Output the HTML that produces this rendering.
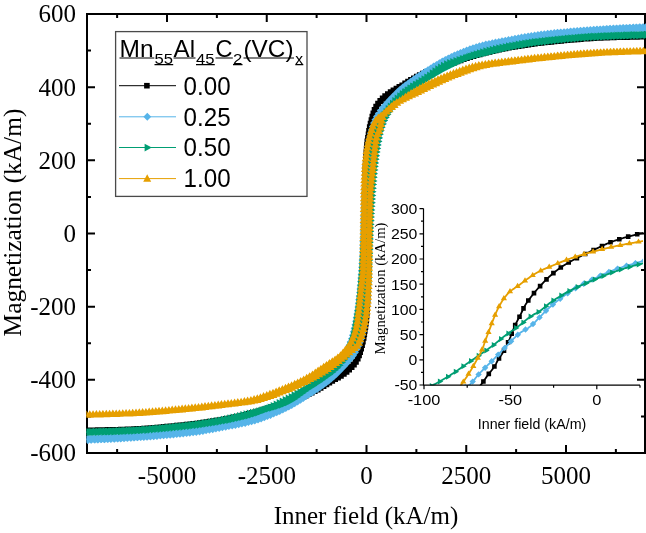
<!DOCTYPE html>
<html><head><meta charset="utf-8"><style>
html,body{margin:0;padding:0;background:#fff;}
body{width:646px;height:533px;overflow:hidden;}
svg{display:block;filter:blur(0.35px);}
.serif{font-family:"Liberation Serif",serif;}
.sans{font-family:"Liberation Sans",sans-serif;}
</style></head><body>
<svg width="646" height="533" viewBox="0 0 646 533">
<defs>
<clipPath id="cm"><rect x="86.4" y="13" width="560" height="441"/></clipPath>
<clipPath id="ci"><rect x="423.5" y="200.4" width="219.5" height="184.79999999999998"/></clipPath>
</defs>
<rect width="646" height="533" fill="#fff"/>
<path d="M117.12 453v-4M117.12 14v4M167.00 453v-8M167.00 14v8M216.88 453v-4M216.88 14v4M266.75 453v-8M266.75 14v8M316.62 453v-4M316.62 14v4M366.50 453v-8M366.50 14v8M416.38 453v-4M416.38 14v4M466.25 453v-8M466.25 14v8M516.12 453v-4M516.12 14v4M566.00 453v-8M566.00 14v8M615.88 453v-4M615.88 14v4M87 416.41h4M645 416.41h-4M87 379.83h8M645 379.83h-8M87 343.25h4M645 343.25h-4M87 306.67h8M645 306.67h-8M87 270.08h4M645 270.08h-4M87 233.50h8M645 233.50h-8M87 196.92h4M645 196.92h-4M87 160.33h8M645 160.33h-8M87 123.75h4M645 123.75h-4M87 87.17h8M645 87.17h-8M87 50.59h4M645 50.59h-4" fill="none" stroke="#000" stroke-width="2"/>
<rect x="87" y="14" width="558" height="439" fill="none" stroke="#000" stroke-width="2"/>
<g clip-path="url(#cm)">
<path d="M649.79 36.26 L648.79 36.28 L647.79 36.31 L646.79 36.34 L645.79 36.36 L644.79 36.39 L643.79 36.41 L642.79 36.44 L641.79 36.46 L640.79 36.48 L639.79 36.50 L638.79 36.53 L637.79 36.55 L636.79 36.57 L635.79 36.59 L634.79 36.61 L633.79 36.63 L632.79 36.65 L631.79 36.67 L630.80 36.70 L629.80 36.72 L628.80 36.74 L627.80 36.76 L626.80 36.78 L625.80 36.80 L624.80 36.82 L623.80 36.84 L622.80 36.86 L621.80 36.88 L620.80 36.90 L619.80 36.93 L618.80 36.95 L617.80 36.97 L616.80 36.99 L615.80 37.02 L614.80 37.04 L613.80 37.07 L612.80 37.09 L611.80 37.12 L610.80 37.15 L609.80 37.17 L608.80 37.20 L607.80 37.23 L606.80 37.26 L605.80 37.29 L604.80 37.32 L603.80 37.35 L602.80 37.39 L601.80 37.42 L600.81 37.46 L599.81 37.50 L598.81 37.53 L597.81 37.57 L596.81 37.62 L595.81 37.66 L594.81 37.71 L593.81 37.76 L592.81 37.81 L591.81 37.86 L590.82 37.91 L589.82 37.97 L588.82 38.02 L587.82 38.08 L586.82 38.14 L585.82 38.21 L584.83 38.27 L583.83 38.34 L582.83 38.40 L581.83 38.47 L580.84 38.54 L579.84 38.62 L578.84 38.69 L577.84 38.76 L576.85 38.84 L575.85 38.92 L574.85 39.00 L573.86 39.08 L572.86 39.16 L571.86 39.24 L570.87 39.32 L569.87 39.41 L568.87 39.49 L567.88 39.58 L566.88 39.67 L565.89 39.76 L564.89 39.85 L563.89 39.94 L562.90 40.03 L561.90 40.13 L560.91 40.22 L559.91 40.31 L558.92 40.41 L557.92 40.51 L556.93 40.60 L555.93 40.70 L554.93 40.80 L553.94 40.90 L552.94 41.00 L551.95 41.10 L550.96 41.20 L549.96 41.31 L548.97 41.41 L547.97 41.51 L546.98 41.61 L545.98 41.72 L544.99 41.82 L543.99 41.93 L543.00 42.03 L542.00 42.14 L541.01 42.24 L540.01 42.35 L539.02 42.46 L538.03 42.57 L537.03 42.68 L536.04 42.79 L535.05 42.91 L534.05 43.03 L533.06 43.15 L532.07 43.28 L531.08 43.40 L530.09 43.53 L529.09 43.66 L528.10 43.80 L527.11 43.93 L526.12 44.07 L525.13 44.21 L524.14 44.35 L523.15 44.49 L522.16 44.64 L521.17 44.78 L520.18 44.93 L519.20 45.08 L518.21 45.23 L517.22 45.39 L516.23 45.54 L515.24 45.70 L514.26 45.86 L513.27 46.02 L512.28 46.18 L511.30 46.35 L510.31 46.51 L509.32 46.68 L508.34 46.85 L507.35 47.01 L506.37 47.18 L505.38 47.36 L504.40 47.53 L503.41 47.70 L502.43 47.88 L501.44 48.06 L500.46 48.25 L499.48 48.43 L498.50 48.62 L497.52 48.82 L496.54 49.02 L495.56 49.22 L494.58 49.42 L493.60 49.63 L492.62 49.84 L491.64 50.05 L490.67 50.26 L489.69 50.48 L488.72 50.70 L487.74 50.93 L486.77 51.15 L485.79 51.38 L484.82 51.61 L483.85 51.85 L482.88 52.08 L481.91 52.32 L480.94 52.56 L479.97 52.81 L479.00 53.06 L478.03 53.31 L477.07 53.57 L476.10 53.84 L475.14 54.11 L474.18 54.39 L473.22 54.67 L472.26 54.95 L471.30 55.24 L470.35 55.53 L469.39 55.83 L468.44 56.13 L467.48 56.42 L466.53 56.73 L465.57 57.03 L464.62 57.33 L463.67 57.63 L462.72 57.94 L461.76 58.24 L460.81 58.55 L459.86 58.87 L458.91 59.18 L457.96 59.50 L457.02 59.82 L456.07 60.14 L455.13 60.46 L454.18 60.79 L453.24 61.12 L452.29 61.46 L451.35 61.79 L450.41 62.14 L449.47 62.48 L448.54 62.83 L447.60 63.18 L446.67 63.53 L445.73 63.89 L444.80 64.26 L443.87 64.63 L442.94 65.00 L442.02 65.38 L441.09 65.76 L440.17 66.14 L439.25 66.52 L438.32 66.91 L437.40 67.30 L436.48 67.69 L435.56 68.09 L434.65 68.48 L433.73 68.88 L432.81 69.28 L431.89 69.68 L430.98 70.08 L430.06 70.48 L429.14 70.88 L428.23 71.28 L427.32 71.69 L426.40 72.10 L425.49 72.51 L424.58 72.93 L423.68 73.35 L422.77 73.78 L421.87 74.21 L420.97 74.65 L420.08 75.10 L419.19 75.55 L418.30 76.02 L417.42 76.49 L416.54 76.97 L415.67 77.45 L414.80 77.94 L413.93 78.44 L413.06 78.93 L412.19 79.43 L411.33 79.93 L410.47 80.44 L409.61 80.96 L408.75 81.47 L407.90 81.99 L407.05 82.52 L406.20 83.04 L405.34 83.57 L404.49 84.09 L403.64 84.62 L402.79 85.15 L401.94 85.67 L401.09 86.19 L400.23 86.70 L399.37 87.21 L398.50 87.70 L397.62 88.19 L396.75 88.68 L395.88 89.16 L395.01 89.65 L394.14 90.15 L393.28 90.66 L392.42 91.18 L391.57 91.71 L390.74 92.26 L389.91 92.82 L389.10 93.41 L388.30 94.01 L387.52 94.62 L386.73 95.24 L385.94 95.86 L385.17 96.49 L384.40 97.13 L383.64 97.79 L382.90 98.46 L382.18 99.15 L381.48 99.86 L380.80 100.59 L380.14 101.35 L379.50 102.11 L378.88 102.90 L378.29 103.71 L377.71 104.52 L377.16 105.36 L376.63 106.20 L376.11 107.06 L375.64 107.94 L375.22 108.85 L374.83 109.77 L374.47 110.70 L374.13 111.64 L373.81 112.59 L373.50 113.54 L373.20 114.50 L372.91 115.45 L372.63 116.41 L372.36 117.38 L372.10 118.34 L371.84 119.31 L371.59 120.28 L371.34 121.24 L371.10 122.21 L370.86 123.19 L370.63 124.16 L370.40 125.13 L370.17 126.10 L369.96 127.08 L369.76 128.06 L369.57 129.04 L369.39 130.03 L369.22 131.01 L369.05 132.00 L368.89 132.99 L368.73 133.97 L368.57 134.96 L368.42 135.95 L368.26 136.94 L368.11 137.92 L367.96 138.91 L367.80 139.90 L367.65 140.89 L367.51 141.88 L367.38 142.87 L367.25 143.86 L367.14 144.86 L367.03 145.85 L366.94 146.85 L366.85 147.84 L366.77 148.84 L366.69 149.84 L366.62 150.83 L366.56 151.83 L366.49 152.83 L366.42 153.83 L366.36 154.82 L366.29 155.82 L366.22 156.82 L366.16 157.82 L366.09 158.82 L366.03 159.81 L365.97 160.81 L365.91 161.81 L365.86 162.81 L365.80 163.81 L365.75 164.81 L365.70 165.80 L365.65 166.80 L365.61 167.80 L365.57 168.80 L365.53 169.80 L365.49 170.80 L365.45 171.80 L365.42 172.80 L365.38 173.80 L365.35 174.80 L365.32 175.80 L365.29 176.80 L365.26 177.80 L365.23 178.80 L365.20 179.80 L365.17 180.79 L365.14 181.79 L365.11 182.79 L365.08 183.79 L365.06 184.79 L365.03 185.79 L365.01 186.79 L364.98 187.79 L364.96 188.79 L364.93 189.79 L364.91 190.79 L364.89 191.79 L364.87 192.79 L364.85 193.79 L364.83 194.79 L364.81 195.79 L364.80 196.79 L364.78 197.79 L364.77 198.79 L364.75 199.79 L364.74 200.79 L364.72 201.79 L364.71 202.79 L364.69 203.79 L364.67 204.79 L364.66 205.79 L364.64 206.79 L364.62 207.79 L364.61 208.79 L364.59 209.79 L364.58 210.79 L364.57 211.79 L364.56 212.79 L364.54 213.79 L364.53 214.79 L364.52 215.79 L364.51 216.79 L364.49 217.79 L364.48 218.79 L364.47 219.79 L364.45 220.79 L364.44 221.79 L364.42 222.79 L364.41 223.79 L364.39 224.79 L364.37 225.79 L364.36 226.79 L364.34 227.79 L364.32 228.79 L364.30 229.79 L364.28 230.79 L364.26 231.79 L364.24 232.79 L364.22 233.79 L364.20 234.79 L364.18 235.79 L364.17 236.79 L364.15 237.79 L364.13 238.78 L364.10 239.78 L364.08 240.78 L364.06 241.78 L364.03 242.78 L364.01 243.78 L363.98 244.78 L363.96 245.78 L363.94 246.78 L363.91 247.78 L363.89 248.78 L363.87 249.78 L363.85 250.78 L363.82 251.78 L363.79 252.78 L363.76 253.78 L363.73 254.78 L363.70 255.78 L363.66 256.78 L363.63 257.78 L363.59 258.78 L363.55 259.78 L363.51 260.78 L363.47 261.77 L363.42 262.77 L363.38 263.77 L363.34 264.77 L363.30 265.77 L363.25 266.77 L363.21 267.77 L363.17 268.77 L363.12 269.77 L363.08 270.77 L363.03 271.77 L362.98 272.76 L362.93 273.76 L362.88 274.76 L362.83 275.76 L362.77 276.76 L362.72 277.76 L362.66 278.76 L362.59 279.75 L362.52 280.75 L362.45 281.75 L362.38 282.75 L362.30 283.74 L362.23 284.74 L362.15 285.74 L362.06 286.73 L361.97 287.73 L361.89 288.73 L361.79 289.72 L361.70 290.72 L361.60 291.71 L361.51 292.71 L361.41 293.70 L361.31 294.70 L361.21 295.69 L361.11 296.69 L361.01 297.68 L360.92 298.68 L360.82 299.67 L360.72 300.67 L360.63 301.66 L360.53 302.66 L360.44 303.66 L360.34 304.65 L360.24 305.65 L360.14 306.64 L360.05 307.64 L359.95 308.63 L359.85 309.63 L359.74 310.62 L359.64 311.62 L359.54 312.61 L359.43 313.60 L359.32 314.60 L359.21 315.59 L359.10 316.59 L358.98 317.58 L358.86 318.57 L358.74 319.56 L358.61 320.56 L358.47 321.55 L358.33 322.54 L358.17 323.52 L358.02 324.51 L357.86 325.50 L357.70 326.49 L357.53 327.47 L357.37 328.46 L357.20 329.44 L357.03 330.43 L356.85 331.41 L356.68 332.40 L356.50 333.38 L356.31 334.36 L356.13 335.35 L355.93 336.33 L355.74 337.31 L355.54 338.29 L355.33 339.27 L355.12 340.24 L354.90 341.22 L354.68 342.20 L354.45 343.17 L354.21 344.14 L353.96 345.11 L353.70 346.07 L353.42 347.03 L353.13 347.99 L352.83 348.94 L352.50 349.89 L352.15 350.83 L351.78 351.76 L351.41 352.68 L351.03 353.61 L350.63 354.53 L350.23 355.44 L349.81 356.35 L349.39 357.26 L348.95 358.16 L348.50 359.05 L348.04 359.94 L347.56 360.81 L347.07 361.69 L346.57 362.55 L346.05 363.40 L345.51 364.24 L344.95 365.07 L344.38 365.89 L343.78 366.70 L343.17 367.49 L342.53 368.26 L341.88 369.02 L341.20 369.75 L340.50 370.47 L339.79 371.16 L339.05 371.85 L338.31 372.51 L337.55 373.17 L336.78 373.81 L336.00 374.43 L335.21 375.04 L334.40 375.63 L333.58 376.21 L332.76 376.77 L331.92 377.32 L331.08 377.85 L330.22 378.37 L329.36 378.89 L328.50 379.39 L327.63 379.88 L326.75 380.36 L325.87 380.84 L324.99 381.31 L324.11 381.78 L323.23 382.25 L322.34 382.71 L321.46 383.18 L320.58 383.66 L319.70 384.13 L318.82 384.62 L317.95 385.11 L317.09 385.61 L316.23 386.12 L315.37 386.64 L314.51 387.15 L313.66 387.67 L312.80 388.19 L311.95 388.71 L311.09 389.22 L310.24 389.74 L309.38 390.26 L308.52 390.77 L307.66 391.28 L306.80 391.78 L305.93 392.29 L305.07 392.79 L304.20 393.28 L303.33 393.78 L302.45 394.26 L301.58 394.74 L300.70 395.22 L299.81 395.68 L298.92 396.14 L298.03 396.59 L297.13 397.03 L296.23 397.47 L295.33 397.89 L294.42 398.31 L293.51 398.72 L292.59 399.12 L291.67 399.52 L290.75 399.91 L289.83 400.30 L288.91 400.68 L287.98 401.06 L287.05 401.43 L286.12 401.80 L285.19 402.16 L284.26 402.52 L283.33 402.88 L282.39 403.24 L281.46 403.59 L280.52 403.94 L279.58 404.29 L278.65 404.64 L277.71 404.98 L276.77 405.32 L275.82 405.66 L274.88 405.99 L273.94 406.32 L272.99 406.65 L272.05 406.97 L271.10 407.29 L270.15 407.61 L269.20 407.93 L268.25 408.24 L267.30 408.55 L266.35 408.86 L265.40 409.17 L264.45 409.47 L263.49 409.78 L262.54 410.08 L261.59 410.38 L260.63 410.68 L259.68 410.98 L258.72 411.27 L257.77 411.57 L256.81 411.86 L255.85 412.15 L254.89 412.43 L253.93 412.71 L252.97 412.98 L252.01 413.25 L251.05 413.52 L250.08 413.78 L249.11 414.03 L248.14 414.28 L247.17 414.52 L246.20 414.76 L245.23 415.00 L244.26 415.23 L243.29 415.47 L242.31 415.70 L241.34 415.93 L240.37 416.15 L239.39 416.37 L238.42 416.59 L237.44 416.81 L236.46 417.03 L235.48 417.24 L234.51 417.45 L233.53 417.65 L232.55 417.85 L231.57 418.05 L230.59 418.25 L229.61 418.44 L228.63 418.63 L227.64 418.82 L226.66 419.00 L225.68 419.18 L224.69 419.36 L223.71 419.53 L222.72 419.70 L221.74 419.87 L220.75 420.04 L219.77 420.21 L218.78 420.38 L217.79 420.55 L216.81 420.71 L215.82 420.87 L214.83 421.03 L213.85 421.19 L212.86 421.35 L211.87 421.51 L210.88 421.66 L209.90 421.82 L208.91 421.97 L207.92 422.12 L206.93 422.27 L205.94 422.41 L204.95 422.56 L203.96 422.70 L202.97 422.84 L201.98 422.98 L200.99 423.12 L200.00 423.25 L199.01 423.38 L198.02 423.51 L197.02 423.64 L196.03 423.77 L195.04 423.89 L194.05 424.01 L193.05 424.13 L192.06 424.25 L191.07 424.36 L190.07 424.47 L189.08 424.58 L188.08 424.69 L187.09 424.79 L186.10 424.90 L185.10 425.00 L184.11 425.11 L183.11 425.21 L182.12 425.32 L181.12 425.42 L180.13 425.52 L179.13 425.63 L178.14 425.73 L177.14 425.83 L176.15 425.93 L175.15 426.03 L174.16 426.13 L173.16 426.23 L172.17 426.33 L171.17 426.43 L170.18 426.53 L169.18 426.62 L168.19 426.72 L167.19 426.81 L166.20 426.91 L165.20 427.00 L164.21 427.09 L163.21 427.18 L162.21 427.27 L161.22 427.36 L160.22 427.45 L159.23 427.54 L158.23 427.62 L157.23 427.71 L156.24 427.79 L155.24 427.87 L154.24 427.95 L153.25 428.03 L152.25 428.11 L151.25 428.19 L150.26 428.26 L149.26 428.34 L148.26 428.41 L147.26 428.48 L146.27 428.55 L145.27 428.62 L144.27 428.69 L143.27 428.75 L142.27 428.81 L141.28 428.88 L140.28 428.94 L139.28 429.00 L138.28 429.05 L137.28 429.11 L136.28 429.16 L135.29 429.21 L134.29 429.26 L133.29 429.31 L132.29 429.35 L131.29 429.40 L130.29 429.44 L129.29 429.48 L128.29 429.52 L127.29 429.55 L126.29 429.59 L125.29 429.62 L124.29 429.66 L123.30 429.69 L122.30 429.72 L121.30 429.75 L120.30 429.78 L119.30 429.81 L118.30 429.84 L117.30 429.86 L116.30 429.89 L115.30 429.92 L114.30 429.94 L113.30 429.97 L112.30 429.99 L111.30 430.01 L110.30 430.04 L109.30 430.06 L108.30 430.08 L107.30 430.10 L106.30 430.13 L105.30 430.15 L104.30 430.17 L103.30 430.19 L102.30 430.21 L101.30 430.23 L100.30 430.25 L99.30 430.27 L98.30 430.29 L97.30 430.31 L96.30 430.33 L95.30 430.35 L94.30 430.37 L93.30 430.39 L92.30 430.42 L91.30 430.44 L90.30 430.46 L89.30 430.48 L88.31 430.50 L87.31 430.53 L86.31 430.55 L85.31 430.57 L84.31 430.60 L83.31 430.62 L83.99 430.72 L84.99 430.70 L85.99 430.67 L86.99 430.64 L87.99 430.62 L88.99 430.59 L89.99 430.57 L90.99 430.55 L91.99 430.52 L92.99 430.50 L93.99 430.48 L94.99 430.46 L95.99 430.43 L96.99 430.41 L97.99 430.39 L98.99 430.37 L99.99 430.35 L100.99 430.33 L101.99 430.31 L102.99 430.29 L103.99 430.27 L104.99 430.25 L105.99 430.23 L106.99 430.21 L107.99 430.19 L108.99 430.17 L109.99 430.14 L110.99 430.12 L111.99 430.10 L112.99 430.08 L113.99 430.06 L114.99 430.03 L115.99 430.01 L116.99 429.99 L117.99 429.96 L118.99 429.94 L119.99 429.91 L120.98 429.89 L121.98 429.86 L122.98 429.83 L123.98 429.80 L124.98 429.78 L125.98 429.75 L126.98 429.72 L127.98 429.68 L128.98 429.65 L129.98 429.62 L130.98 429.58 L131.98 429.55 L132.98 429.51 L133.98 429.47 L134.98 429.43 L135.98 429.39 L136.98 429.35 L137.97 429.30 L138.97 429.25 L139.97 429.21 L140.97 429.15 L141.97 429.10 L142.97 429.04 L143.97 428.99 L144.96 428.93 L145.96 428.87 L146.96 428.81 L147.96 428.74 L148.96 428.68 L149.95 428.61 L150.95 428.54 L151.95 428.47 L152.95 428.40 L153.94 428.33 L154.94 428.25 L155.94 428.18 L156.94 428.10 L157.93 428.02 L158.93 427.94 L159.93 427.86 L160.92 427.78 L161.92 427.70 L162.92 427.61 L163.91 427.52 L164.91 427.44 L165.90 427.35 L166.90 427.26 L167.90 427.17 L168.89 427.08 L169.89 426.99 L170.88 426.89 L171.88 426.80 L172.87 426.71 L173.87 426.61 L174.87 426.51 L175.86 426.42 L176.86 426.32 L177.85 426.22 L178.85 426.12 L179.84 426.02 L180.84 425.92 L181.83 425.82 L182.83 425.72 L183.82 425.61 L184.81 425.51 L185.81 425.41 L186.80 425.30 L187.80 425.20 L188.79 425.09 L189.79 424.99 L190.78 424.88 L191.78 424.78 L192.77 424.67 L193.77 424.57 L194.76 424.46 L195.75 424.34 L196.75 424.23 L197.74 424.11 L198.73 423.99 L199.72 423.87 L200.72 423.75 L201.71 423.62 L202.70 423.50 L203.69 423.36 L204.68 423.23 L205.67 423.10 L206.67 422.96 L207.66 422.82 L208.65 422.68 L209.64 422.54 L210.62 422.39 L211.61 422.25 L212.60 422.10 L213.59 421.95 L214.58 421.80 L215.57 421.64 L216.56 421.49 L217.54 421.33 L218.53 421.17 L219.52 421.01 L220.51 420.85 L221.49 420.69 L222.48 420.52 L223.46 420.36 L224.45 420.19 L225.44 420.02 L226.42 419.85 L227.41 419.68 L228.39 419.51 L229.38 419.33 L230.36 419.16 L231.34 418.98 L232.33 418.79 L233.31 418.61 L234.29 418.42 L235.27 418.22 L236.25 418.03 L237.23 417.83 L238.21 417.62 L239.19 417.42 L240.17 417.21 L241.15 417.00 L242.12 416.78 L243.10 416.57 L244.07 416.35 L245.05 416.12 L246.02 415.90 L247.00 415.67 L247.97 415.44 L248.94 415.20 L249.91 414.97 L250.88 414.73 L251.86 414.49 L252.83 414.24 L253.79 414.00 L254.76 413.74 L255.73 413.48 L256.69 413.22 L257.65 412.95 L258.61 412.67 L259.57 412.39 L260.53 412.11 L261.49 411.82 L262.45 411.53 L263.40 411.23 L264.36 410.94 L265.31 410.64 L266.27 410.34 L267.22 410.04 L268.17 409.74 L269.13 409.43 L270.08 409.13 L271.03 408.82 L271.98 408.51 L272.93 408.20 L273.88 407.89 L274.83 407.57 L275.78 407.25 L276.73 406.93 L277.67 406.61 L278.62 406.28 L279.56 405.95 L280.50 405.61 L281.44 405.28 L282.38 404.94 L283.32 404.59 L284.26 404.25 L285.20 403.90 L286.13 403.54 L287.07 403.18 L288.00 402.82 L288.93 402.45 L289.86 402.08 L290.78 401.70 L291.71 401.33 L292.63 400.94 L293.56 400.56 L294.48 400.17 L295.40 399.78 L296.32 399.39 L297.24 399.00 L298.16 398.60 L299.07 398.21 L299.99 397.81 L300.91 397.41 L301.83 397.01 L302.74 396.61 L303.66 396.21 L304.57 395.80 L305.49 395.40 L306.40 394.99 L307.31 394.58 L308.22 394.16 L309.13 393.74 L310.03 393.31 L310.93 392.88 L311.83 392.44 L312.73 392.00 L313.62 391.55 L314.51 391.08 L315.39 390.61 L316.27 390.14 L317.14 389.65 L318.01 389.16 L318.88 388.67 L319.75 388.17 L320.62 387.67 L321.49 387.17 L322.35 386.67 L323.21 386.16 L324.06 385.64 L324.92 385.12 L325.77 384.60 L326.62 384.07 L327.47 383.55 L328.32 383.02 L329.17 382.49 L330.02 381.97 L330.87 381.44 L331.73 380.92 L332.58 380.41 L333.45 379.90 L334.32 379.41 L335.19 378.92 L336.06 378.43 L336.94 377.94 L337.81 377.45 L338.68 376.96 L339.54 376.45 L340.40 375.94 L341.24 375.41 L342.08 374.86 L342.91 374.30 L343.73 373.72 L344.53 373.12 L345.31 372.51 L346.10 371.89 L346.89 371.27 L347.67 370.65 L348.44 370.01 L349.19 369.36 L349.94 368.69 L350.66 368.00 L351.37 367.29 L352.06 366.56 L352.72 365.82 L353.37 365.05 L353.99 364.27 L354.59 363.47 L355.17 362.65 L355.72 361.82 L356.26 360.98 L356.78 360.13 L357.26 359.25 L357.69 358.35 L358.09 357.43 L358.45 356.50 L358.80 355.56 L359.13 354.61 L359.44 353.66 L359.74 352.71 L360.03 351.75 L360.31 350.79 L360.58 349.83 L360.84 348.87 L361.10 347.90 L361.36 346.93 L361.60 345.96 L361.85 344.99 L362.09 344.02 L362.32 343.05 L362.55 342.08 L362.78 341.11 L363.00 340.13 L363.20 339.15 L363.39 338.17 L363.57 337.18 L363.75 336.20 L363.91 335.21 L364.08 334.23 L364.24 333.24 L364.40 332.25 L364.55 331.27 L364.71 330.28 L364.86 329.29 L365.01 328.30 L365.16 327.31 L365.31 326.32 L365.46 325.33 L365.60 324.34 L365.72 323.35 L365.84 322.36 L365.94 321.36 L366.04 320.37 L366.14 319.37 L366.22 318.38 L366.29 317.38 L366.36 316.38 L366.43 315.38 L366.50 314.39 L366.56 313.39 L366.63 312.39 L366.69 311.39 L366.76 310.40 L366.83 309.40 L366.89 308.40 L366.95 307.40 L367.02 306.40 L367.07 305.41 L367.13 304.41 L367.19 303.41 L367.24 302.41 L367.29 301.41 L367.34 300.41 L367.38 299.41 L367.42 298.41 L367.46 297.41 L367.50 296.42 L367.54 295.42 L367.58 294.42 L367.61 293.42 L367.64 292.42 L367.68 291.42 L367.71 290.42 L367.74 289.42 L367.77 288.42 L367.80 287.42 L367.83 286.42 L367.86 285.42 L367.88 284.42 L367.91 283.42 L367.94 282.42 L367.96 281.42 L367.99 280.42 L368.01 279.42 L368.04 278.42 L368.06 277.42 L368.08 276.42 L368.11 275.42 L368.13 274.42 L368.15 273.42 L368.17 272.42 L368.18 271.42 L368.20 270.43 L368.21 269.43 L368.23 268.43 L368.24 267.43 L368.26 266.43 L368.27 265.43 L368.29 264.43 L368.31 263.43 L368.32 262.43 L368.34 261.43 L368.36 260.43 L368.37 259.43 L368.39 258.43 L368.40 257.43 L368.42 256.43 L368.43 255.43 L368.44 254.43 L368.45 253.43 L368.46 252.43 L368.48 251.43 L368.49 250.43 L368.50 249.43 L368.52 248.43 L368.53 247.43 L368.54 246.43 L368.56 245.43 L368.57 244.43 L368.59 243.43 L368.61 242.43 L368.62 241.43 L368.64 240.43 L368.66 239.43 L368.68 238.43 L368.70 237.43 L368.72 236.43 L368.74 235.43 L368.76 234.43 L368.78 233.43 L368.80 232.43 L368.81 231.43 L368.83 230.43 L368.85 229.43 L368.87 228.43 L368.89 227.43 L368.91 226.43 L368.94 225.43 L368.96 224.43 L368.99 223.43 L369.01 222.43 L369.04 221.43 L369.06 220.43 L369.08 219.43 L369.10 218.43 L369.13 217.43 L369.15 216.43 L369.17 215.43 L369.20 214.43 L369.23 213.43 L369.26 212.44 L369.29 211.44 L369.33 210.44 L369.37 209.44 L369.40 208.44 L369.44 207.44 L369.48 206.44 L369.53 205.44 L369.57 204.44 L369.61 203.44 L369.65 202.44 L369.69 201.44 L369.74 200.44 L369.78 199.45 L369.83 198.45 L369.87 197.45 L369.92 196.45 L369.96 195.45 L370.01 194.45 L370.06 193.45 L370.11 192.45 L370.16 191.45 L370.21 190.46 L370.27 189.46 L370.33 188.46 L370.39 187.46 L370.46 186.46 L370.53 185.47 L370.60 184.47 L370.68 183.47 L370.76 182.48 L370.84 181.48 L370.92 180.48 L371.01 179.49 L371.09 178.49 L371.19 177.49 L371.28 176.50 L371.38 175.50 L371.47 174.51 L371.57 173.51 L371.67 172.52 L371.77 171.52 L371.87 170.53 L371.97 169.53 L372.06 168.54 L372.16 167.54 L372.25 166.55 L372.35 165.55 L372.45 164.55 L372.54 163.56 L372.64 162.56 L372.74 161.57 L372.83 160.57 L372.93 159.58 L373.03 158.58 L373.13 157.59 L373.23 156.59 L373.34 155.60 L373.44 154.60 L373.55 153.61 L373.65 152.62 L373.76 151.62 L373.88 150.63 L373.99 149.63 L374.11 148.64 L374.24 147.65 L374.36 146.66 L374.50 145.67 L374.64 144.68 L374.79 143.69 L374.95 142.70 L375.11 141.71 L375.27 140.73 L375.43 139.74 L375.60 138.75 L375.76 137.77 L375.93 136.78 L376.11 135.80 L376.28 134.81 L376.46 133.83 L376.65 132.85 L376.83 131.86 L377.02 130.88 L377.22 129.90 L377.42 128.92 L377.62 127.94 L377.83 126.97 L378.05 125.99 L378.27 125.01 L378.50 124.04 L378.74 123.07 L378.99 122.10 L379.25 121.14 L379.52 120.17 L379.80 119.21 L380.10 118.26 L380.42 117.31 L380.77 116.38 L381.14 115.44 L381.51 114.52 L381.89 113.59 L382.28 112.67 L382.68 111.76 L383.10 110.84 L383.52 109.94 L383.95 109.04 L384.40 108.14 L384.86 107.26 L385.33 106.37 L385.82 105.50 L386.32 104.64 L386.84 103.78 L387.38 102.94 L387.93 102.10 L388.50 101.28 L389.09 100.47 L389.70 99.68 L390.33 98.91 L390.98 98.15 L391.65 97.41 L392.34 96.68 L393.06 95.98 L393.79 95.30 L394.53 94.63 L395.28 93.97 L396.05 93.33 L396.83 92.70 L397.62 92.09 L398.42 91.50 L399.24 90.92 L400.06 90.35 L400.90 89.80 L401.74 89.26 L402.59 88.74 L403.45 88.22 L404.31 87.72 L405.18 87.23 L406.06 86.74 L406.94 86.26 L407.82 85.79 L408.70 85.32 L409.58 84.85 L410.47 84.39 L411.35 83.92 L412.23 83.45 L413.11 82.97 L413.99 82.49 L414.86 82.00 L415.73 81.50 L416.59 80.99 L417.45 80.47 L418.30 79.96 L419.16 79.44 L420.01 78.92 L420.87 78.40 L421.72 77.89 L422.58 77.37 L423.44 76.86 L424.30 76.34 L425.16 75.83 L426.02 75.32 L426.88 74.82 L427.75 74.32 L428.61 73.82 L429.48 73.33 L430.36 72.84 L431.23 72.36 L432.11 71.89 L433.00 71.42 L433.88 70.96 L434.78 70.50 L435.67 70.06 L436.57 69.63 L437.48 69.20 L438.39 68.78 L439.30 68.37 L440.21 67.96 L441.13 67.56 L442.05 67.17 L442.97 66.78 L443.89 66.40 L444.82 66.02 L445.75 65.65 L446.68 65.28 L447.61 64.92 L448.54 64.55 L449.47 64.19 L450.41 63.84 L451.34 63.48 L452.28 63.13 L453.21 62.78 L454.15 62.43 L455.09 62.09 L456.03 61.75 L456.97 61.41 L457.92 61.08 L458.86 60.75 L459.80 60.42 L460.75 60.10 L461.70 59.77 L462.64 59.46 L463.59 59.14 L464.54 58.82 L465.49 58.51 L466.44 58.20 L467.40 57.90 L468.35 57.59 L469.30 57.29 L470.25 56.99 L471.21 56.69 L472.16 56.39 L473.12 56.09 L474.07 55.79 L475.03 55.50 L475.98 55.20 L476.94 54.92 L477.90 54.63 L478.86 54.35 L479.82 54.08 L480.78 53.80 L481.75 53.54 L482.71 53.28 L483.68 53.02 L484.65 52.78 L485.62 52.53 L486.59 52.29 L487.56 52.05 L488.53 51.82 L489.50 51.58 L490.48 51.35 L491.45 51.12 L492.42 50.90 L493.40 50.67 L494.37 50.45 L495.35 50.23 L496.33 50.02 L497.30 49.81 L498.28 49.60 L499.26 49.39 L500.24 49.19 L501.22 48.99 L502.20 48.79 L503.18 48.60 L504.16 48.41 L505.15 48.22 L506.13 48.04 L507.11 47.86 L508.10 47.68 L509.08 47.51 L510.07 47.33 L511.05 47.16 L512.04 46.99 L513.02 46.82 L514.01 46.66 L514.99 46.49 L515.98 46.33 L516.97 46.16 L517.95 46.00 L518.94 45.84 L519.93 45.68 L520.92 45.52 L521.90 45.37 L522.89 45.22 L523.88 45.06 L524.87 44.91 L525.86 44.76 L526.85 44.62 L527.84 44.47 L528.83 44.33 L529.82 44.19 L530.81 44.05 L531.80 43.91 L532.79 43.78 L533.78 43.65 L534.77 43.52 L535.76 43.39 L536.75 43.26 L537.75 43.14 L538.74 43.02 L539.73 42.90 L540.73 42.78 L541.72 42.67 L542.71 42.55 L543.71 42.44 L544.70 42.34 L545.70 42.23 L546.69 42.12 L547.68 42.02 L548.68 41.91 L549.67 41.81 L550.67 41.71 L551.66 41.60 L552.66 41.50 L553.65 41.39 L554.65 41.29 L555.64 41.19 L556.64 41.09 L557.63 40.99 L558.63 40.89 L559.62 40.79 L560.62 40.69 L561.61 40.59 L562.61 40.49 L563.60 40.40 L564.60 40.30 L565.59 40.21 L566.59 40.11 L567.58 40.02 L568.58 39.93 L569.58 39.84 L570.57 39.75 L571.57 39.66 L572.56 39.57 L573.56 39.48 L574.56 39.40 L575.55 39.31 L576.55 39.23 L577.55 39.15 L578.54 39.06 L579.54 38.99 L580.54 38.91 L581.53 38.83 L582.53 38.75 L583.53 38.68 L584.52 38.61 L585.52 38.53 L586.52 38.46 L587.52 38.40 L588.51 38.33 L589.51 38.26 L590.51 38.20 L591.51 38.14 L592.51 38.08 L593.51 38.02 L594.50 37.96 L595.50 37.90 L596.50 37.85 L597.50 37.80 L598.50 37.75 L599.50 37.70 L600.50 37.66 L601.49 37.61 L602.49 37.57 L603.49 37.53 L604.49 37.49 L605.49 37.45 L606.49 37.42 L607.49 37.38 L608.49 37.35 L609.49 37.32 L610.49 37.29 L611.49 37.26 L612.49 37.23 L613.49 37.20 L614.49 37.17 L615.49 37.14 L616.49 37.12 L617.49 37.09 L618.49 37.06 L619.49 37.04 L620.49 37.01 L621.48 36.99 L622.48 36.97 L623.48 36.95 L624.48 36.92 L625.48 36.90 L626.48 36.88 L627.48 36.86 L628.48 36.84 L629.48 36.82 L630.48 36.79 L631.48 36.77 L632.48 36.75 L633.48 36.73 L634.48 36.71 L635.48 36.69 L636.48 36.67 L637.48 36.65 L638.48 36.63 L639.48 36.61 L640.48 36.59 L641.48 36.57 L642.48 36.55 L643.48 36.52 L644.48 36.50 L645.48 36.48 L646.48 36.46 L647.48 36.43 L648.48 36.41 L649.48 36.38" fill="none" stroke="#000000" stroke-width="1.5"/><path d="M646.8 33.3h6.0v6.0h-6.0zM643.5 33.3h6.0v6.0h-6.0zM640.2 33.4h6.0v6.0h-6.0zM636.9 33.5h6.0v6.0h-6.0zM633.6 33.6h6.0v6.0h-6.0zM630.3 33.6h6.0v6.0h-6.0zM627.0 33.7h6.0v6.0h-6.0zM623.7 33.8h6.0v6.0h-6.0zM620.4 33.8h6.0v6.0h-6.0zM617.1 33.9h6.0v6.0h-6.0zM613.8 34.0h6.0v6.0h-6.0zM610.5 34.1h6.0v6.0h-6.0zM607.2 34.2h6.0v6.0h-6.0zM603.9 34.3h6.0v6.0h-6.0zM600.6 34.4h6.0v6.0h-6.0zM597.3 34.5h6.0v6.0h-6.0zM594.0 34.6h6.0v6.0h-6.0zM590.7 34.8h6.0v6.0h-6.0zM587.4 34.9h6.0v6.0h-6.0zM584.1 35.1h6.0v6.0h-6.0zM580.8 35.3h6.0v6.0h-6.0zM577.5 35.6h6.0v6.0h-6.0zM574.2 35.8h6.0v6.0h-6.0zM570.9 36.1h6.0v6.0h-6.0zM567.7 36.3h6.0v6.0h-6.0zM564.4 36.6h6.0v6.0h-6.0zM561.1 36.9h6.0v6.0h-6.0zM557.8 37.2h6.0v6.0h-6.0zM554.5 37.5h6.0v6.0h-6.0zM551.2 37.9h6.0v6.0h-6.0zM547.9 38.2h6.0v6.0h-6.0zM544.6 38.5h6.0v6.0h-6.0zM541.4 38.9h6.0v6.0h-6.0zM538.1 39.2h6.0v6.0h-6.0zM534.8 39.6h6.0v6.0h-6.0zM531.5 40.0h6.0v6.0h-6.0zM528.2 40.4h6.0v6.0h-6.0zM524.9 40.8h6.0v6.0h-6.0zM521.7 41.3h6.0v6.0h-6.0zM518.4 41.7h6.0v6.0h-6.0zM515.1 42.2h6.0v6.0h-6.0zM511.9 42.8h6.0v6.0h-6.0zM508.6 43.3h6.0v6.0h-6.0zM505.3 43.8h6.0v6.0h-6.0zM502.1 44.4h6.0v6.0h-6.0zM498.8 45.0h6.0v6.0h-6.0zM495.6 45.6h6.0v6.0h-6.0zM492.3 46.3h6.0v6.0h-6.0zM489.1 47.0h6.0v6.0h-6.0zM485.9 47.7h6.0v6.0h-6.0zM482.6 48.4h6.0v6.0h-6.0zM479.4 49.2h6.0v6.0h-6.0zM476.2 50.0h6.0v6.0h-6.0zM473.0 50.9h6.0v6.0h-6.0zM469.8 51.8h6.0v6.0h-6.0zM466.6 52.8h6.0v6.0h-6.0zM463.4 53.8h6.0v6.0h-6.0zM460.3 54.8h6.0v6.0h-6.0zM457.1 55.8h6.0v6.0h-6.0zM453.9 56.8h6.0v6.0h-6.0zM450.8 57.9h6.0v6.0h-6.0zM447.7 59.0h6.0v6.0h-6.0zM444.5 60.2h6.0v6.0h-6.0zM441.4 61.4h6.0v6.0h-6.0zM438.3 62.7h6.0v6.0h-6.0zM435.2 64.0h6.0v6.0h-6.0zM432.2 65.3h6.0v6.0h-6.0zM429.1 66.6h6.0v6.0h-6.0zM426.0 67.9h6.0v6.0h-6.0zM423.0 69.3h6.0v6.0h-6.0zM419.9 70.7h6.0v6.0h-6.0zM416.9 72.2h6.0v6.0h-6.0zM413.9 73.8h6.0v6.0h-6.0zM411.0 75.4h6.0v6.0h-6.0zM408.1 77.1h6.0v6.0h-6.0zM405.2 78.8h6.0v6.0h-6.0zM402.3 80.6h6.0v6.0h-6.0zM399.4 82.4h6.0v6.0h-6.0zM396.5 84.1h6.0v6.0h-6.0zM393.6 85.8h6.0v6.0h-6.0zM390.6 87.4h6.0v6.0h-6.0zM387.8 89.2h6.0v6.0h-6.0zM385.0 91.2h6.0v6.0h-6.0zM382.3 93.3h6.0v6.0h-6.0zM379.8 95.6h6.0v6.0h-6.0zM377.4 98.1h6.0v6.0h-6.0zM375.2 100.8h6.0v6.0h-6.0zM373.3 103.8h6.0v6.0h-6.0zM371.7 107.0h6.0v6.0h-6.0zM370.5 110.4h6.0v6.0h-6.0zM369.5 113.8h6.0v6.0h-6.0zM368.6 117.3h6.0v6.0h-6.0zM367.7 120.8h6.0v6.0h-6.0zM366.9 124.3h6.0v6.0h-6.0zM366.2 127.9h6.0v6.0h-6.0zM365.7 131.5h6.0v6.0h-6.0zM365.1 135.0h6.0v6.0h-6.0zM364.5 138.6h6.0v6.0h-6.0zM364.1 142.2h6.0v6.0h-6.0zM363.8 145.8h6.0v6.0h-6.0zM363.5 149.4h6.0v6.0h-6.0zM363.3 153.1h6.0v6.0h-6.0zM363.0 156.7h6.0v6.0h-6.0zM362.8 160.3h6.0v6.0h-6.0zM362.6 163.9h6.0v6.0h-6.0zM362.5 167.6h6.0v6.0h-6.0zM362.4 171.2h6.0v6.0h-6.0zM362.3 174.8h6.0v6.0h-6.0zM362.1 178.4h6.0v6.0h-6.0zM362.1 182.1h6.0v6.0h-6.0zM362.0 185.7h6.0v6.0h-6.0zM361.9 189.3h6.0v6.0h-6.0zM361.8 193.0h6.0v6.0h-6.0zM361.8 196.6h6.0v6.0h-6.0zM361.7 200.2h6.0v6.0h-6.0zM361.6 203.8h6.0v6.0h-6.0zM361.6 207.5h6.0v6.0h-6.0zM361.5 211.1h6.0v6.0h-6.0zM361.5 214.7h6.0v6.0h-6.0zM361.4 218.4h6.0v6.0h-6.0zM361.4 222.0h6.0v6.0h-6.0zM361.3 225.6h6.0v6.0h-6.0zM361.2 229.2h6.0v6.0h-6.0zM361.2 232.9h6.0v6.0h-6.0zM361.1 236.5h6.0v6.0h-6.0zM361.0 240.1h6.0v6.0h-6.0zM360.9 243.8h6.0v6.0h-6.0zM360.9 247.4h6.0v6.0h-6.0zM360.8 251.0h6.0v6.0h-6.0zM360.6 254.6h6.0v6.0h-6.0zM360.5 258.3h6.0v6.0h-6.0zM360.3 261.9h6.0v6.0h-6.0zM360.2 265.5h6.0v6.0h-6.0zM360.0 269.2h6.0v6.0h-6.0zM359.8 272.8h6.0v6.0h-6.0zM359.6 276.4h6.0v6.0h-6.0zM359.4 280.0h6.0v6.0h-6.0zM359.1 283.6h6.0v6.0h-6.0zM358.7 287.2h6.0v6.0h-6.0zM358.4 290.9h6.0v6.0h-6.0zM358.0 294.5h6.0v6.0h-6.0zM357.7 298.1h6.0v6.0h-6.0zM357.3 301.7h6.0v6.0h-6.0zM357.0 305.3h6.0v6.0h-6.0zM356.6 308.9h6.0v6.0h-6.0zM356.2 312.5h6.0v6.0h-6.0zM355.8 316.1h6.0v6.0h-6.0zM355.3 319.7h6.0v6.0h-6.0zM354.7 323.3h6.0v6.0h-6.0zM354.1 326.8h6.0v6.0h-6.0zM353.5 330.4h6.0v6.0h-6.0zM352.8 333.9h6.0v6.0h-6.0zM352.1 337.5h6.0v6.0h-6.0zM351.2 341.0h6.0v6.0h-6.0zM350.3 344.5h6.0v6.0h-6.0zM349.1 347.9h6.0v6.0h-6.0zM347.8 351.2h6.0v6.0h-6.0zM346.3 354.4h6.0v6.0h-6.0zM344.7 357.6h6.0v6.0h-6.0zM342.9 360.6h6.0v6.0h-6.0zM340.9 363.5h6.0v6.0h-6.0zM338.7 366.2h6.0v6.0h-6.0zM336.2 368.7h6.0v6.0h-6.0zM333.7 370.9h6.0v6.0h-6.0zM330.9 373.0h6.0v6.0h-6.0zM328.1 374.8h6.0v6.0h-6.0zM325.2 376.6h6.0v6.0h-6.0zM322.2 378.2h6.0v6.0h-6.0zM319.3 379.7h6.0v6.0h-6.0zM316.3 381.3h6.0v6.0h-6.0zM313.4 383.0h6.0v6.0h-6.0zM310.5 384.8h6.0v6.0h-6.0zM307.6 386.5h6.0v6.0h-6.0zM304.7 388.3h6.0v6.0h-6.0zM301.8 390.0h6.0v6.0h-6.0zM298.8 391.6h6.0v6.0h-6.0zM295.9 393.2h6.0v6.0h-6.0zM292.9 394.6h6.0v6.0h-6.0zM289.8 396.0h6.0v6.0h-6.0zM286.7 397.3h6.0v6.0h-6.0zM283.6 398.6h6.0v6.0h-6.0zM280.5 399.8h6.0v6.0h-6.0zM277.4 401.0h6.0v6.0h-6.0zM274.3 402.1h6.0v6.0h-6.0zM271.1 403.3h6.0v6.0h-6.0zM268.0 404.3h6.0v6.0h-6.0zM264.8 405.4h6.0v6.0h-6.0zM261.7 406.4h6.0v6.0h-6.0zM258.5 407.4h6.0v6.0h-6.0zM255.3 408.4h6.0v6.0h-6.0zM252.1 409.4h6.0v6.0h-6.0zM248.9 410.3h6.0v6.0h-6.0zM245.7 411.1h6.0v6.0h-6.0zM242.5 411.9h6.0v6.0h-6.0zM239.3 412.7h6.0v6.0h-6.0zM236.1 413.5h6.0v6.0h-6.0zM232.8 414.2h6.0v6.0h-6.0zM229.6 414.8h6.0v6.0h-6.0zM226.3 415.5h6.0v6.0h-6.0zM223.1 416.1h6.0v6.0h-6.0zM219.8 416.7h6.0v6.0h-6.0zM216.6 417.2h6.0v6.0h-6.0zM213.3 417.8h6.0v6.0h-6.0zM210.0 418.3h6.0v6.0h-6.0zM206.8 418.8h6.0v6.0h-6.0zM203.5 419.3h6.0v6.0h-6.0zM200.2 419.8h6.0v6.0h-6.0zM196.9 420.3h6.0v6.0h-6.0zM193.7 420.7h6.0v6.0h-6.0zM190.4 421.1h6.0v6.0h-6.0zM187.1 421.5h6.0v6.0h-6.0zM183.8 421.8h6.0v6.0h-6.0zM180.5 422.2h6.0v6.0h-6.0zM177.3 422.5h6.0v6.0h-6.0zM174.0 422.8h6.0v6.0h-6.0zM170.7 423.2h6.0v6.0h-6.0zM167.4 423.5h6.0v6.0h-6.0zM164.1 423.8h6.0v6.0h-6.0zM160.8 424.1h6.0v6.0h-6.0zM157.5 424.4h6.0v6.0h-6.0zM154.2 424.7h6.0v6.0h-6.0zM151.0 425.0h6.0v6.0h-6.0zM147.7 425.2h6.0v6.0h-6.0zM144.4 425.5h6.0v6.0h-6.0zM141.1 425.7h6.0v6.0h-6.0zM137.8 425.9h6.0v6.0h-6.0zM134.5 426.1h6.0v6.0h-6.0zM131.2 426.3h6.0v6.0h-6.0zM127.9 426.4h6.0v6.0h-6.0zM124.6 426.5h6.0v6.0h-6.0zM121.3 426.7h6.0v6.0h-6.0zM118.0 426.8h6.0v6.0h-6.0zM114.7 426.9h6.0v6.0h-6.0zM111.4 426.9h6.0v6.0h-6.0zM108.1 427.0h6.0v6.0h-6.0zM104.8 427.1h6.0v6.0h-6.0zM101.5 427.2h6.0v6.0h-6.0zM98.2 427.2h6.0v6.0h-6.0zM94.9 427.3h6.0v6.0h-6.0zM91.6 427.4h6.0v6.0h-6.0zM88.3 427.4h6.0v6.0h-6.0zM85.0 427.5h6.0v6.0h-6.0zM81.7 427.6h6.0v6.0h-6.0zM81.9 427.7h6.0v6.0h-6.0zM85.2 427.6h6.0v6.0h-6.0zM88.5 427.5h6.0v6.0h-6.0zM91.8 427.5h6.0v6.0h-6.0zM95.1 427.4h6.0v6.0h-6.0zM98.4 427.3h6.0v6.0h-6.0zM101.7 427.3h6.0v6.0h-6.0zM105.0 427.2h6.0v6.0h-6.0zM108.3 427.1h6.0v6.0h-6.0zM111.6 427.0h6.0v6.0h-6.0zM114.9 427.0h6.0v6.0h-6.0zM118.2 426.9h6.0v6.0h-6.0zM121.5 426.8h6.0v6.0h-6.0zM124.8 426.7h6.0v6.0h-6.0zM128.1 426.6h6.0v6.0h-6.0zM131.4 426.5h6.0v6.0h-6.0zM134.7 426.3h6.0v6.0h-6.0zM138.0 426.2h6.0v6.0h-6.0zM141.3 426.0h6.0v6.0h-6.0zM144.6 425.8h6.0v6.0h-6.0zM147.9 425.5h6.0v6.0h-6.0zM151.2 425.3h6.0v6.0h-6.0zM154.5 425.1h6.0v6.0h-6.0zM157.8 424.8h6.0v6.0h-6.0zM161.0 424.5h6.0v6.0h-6.0zM164.3 424.2h6.0v6.0h-6.0zM167.6 423.9h6.0v6.0h-6.0zM170.9 423.6h6.0v6.0h-6.0zM174.2 423.3h6.0v6.0h-6.0zM177.5 423.0h6.0v6.0h-6.0zM180.8 422.6h6.0v6.0h-6.0zM184.1 422.3h6.0v6.0h-6.0zM187.3 421.9h6.0v6.0h-6.0zM190.6 421.6h6.0v6.0h-6.0zM193.9 421.2h6.0v6.0h-6.0zM197.2 420.8h6.0v6.0h-6.0zM200.5 420.4h6.0v6.0h-6.0zM203.7 420.0h6.0v6.0h-6.0zM207.0 419.5h6.0v6.0h-6.0zM210.3 419.0h6.0v6.0h-6.0zM213.5 418.5h6.0v6.0h-6.0zM216.8 418.0h6.0v6.0h-6.0zM220.1 417.4h6.0v6.0h-6.0zM223.3 416.9h6.0v6.0h-6.0zM226.6 416.3h6.0v6.0h-6.0zM229.8 415.7h6.0v6.0h-6.0zM233.1 415.1h6.0v6.0h-6.0zM236.3 414.4h6.0v6.0h-6.0zM239.6 413.7h6.0v6.0h-6.0zM242.8 412.9h6.0v6.0h-6.0zM246.0 412.2h6.0v6.0h-6.0zM249.3 411.4h6.0v6.0h-6.0zM252.5 410.6h6.0v6.0h-6.0zM255.7 409.7h6.0v6.0h-6.0zM258.9 408.7h6.0v6.0h-6.0zM262.0 407.7h6.0v6.0h-6.0zM265.2 406.7h6.0v6.0h-6.0zM268.4 405.7h6.0v6.0h-6.0zM271.5 404.7h6.0v6.0h-6.0zM274.7 403.6h6.0v6.0h-6.0zM277.8 402.5h6.0v6.0h-6.0zM281.0 401.4h6.0v6.0h-6.0zM284.1 400.2h6.0v6.0h-6.0zM287.2 398.9h6.0v6.0h-6.0zM290.3 397.7h6.0v6.0h-6.0zM293.4 396.4h6.0v6.0h-6.0zM296.4 395.1h6.0v6.0h-6.0zM299.5 393.7h6.0v6.0h-6.0zM302.6 392.4h6.0v6.0h-6.0zM305.6 391.0h6.0v6.0h-6.0zM308.6 389.5h6.0v6.0h-6.0zM311.6 388.0h6.0v6.0h-6.0zM314.6 386.4h6.0v6.0h-6.0zM317.5 384.7h6.0v6.0h-6.0zM320.4 383.0h6.0v6.0h-6.0zM323.3 381.3h6.0v6.0h-6.0zM326.2 379.5h6.0v6.0h-6.0zM329.1 377.7h6.0v6.0h-6.0zM332.0 376.0h6.0v6.0h-6.0zM334.9 374.4h6.0v6.0h-6.0zM337.8 372.7h6.0v6.0h-6.0zM340.7 370.8h6.0v6.0h-6.0zM343.4 368.7h6.0v6.0h-6.0zM346.0 366.5h6.0v6.0h-6.0zM348.5 364.1h6.0v6.0h-6.0zM350.8 361.5h6.0v6.0h-6.0zM352.8 358.7h6.0v6.0h-6.0zM354.6 355.6h6.0v6.0h-6.0zM355.9 352.3h6.0v6.0h-6.0zM357.0 348.9h6.0v6.0h-6.0zM358.0 345.4h6.0v6.0h-6.0zM358.9 341.9h6.0v6.0h-6.0zM359.7 338.4h6.0v6.0h-6.0zM360.5 334.8h6.0v6.0h-6.0zM361.1 331.3h6.0v6.0h-6.0zM361.6 327.7h6.0v6.0h-6.0zM362.2 324.1h6.0v6.0h-6.0zM362.7 320.5h6.0v6.0h-6.0zM363.1 316.9h6.0v6.0h-6.0zM363.4 313.3h6.0v6.0h-6.0zM363.6 309.7h6.0v6.0h-6.0zM363.8 306.1h6.0v6.0h-6.0zM364.1 302.5h6.0v6.0h-6.0zM364.3 298.8h6.0v6.0h-6.0zM364.4 295.2h6.0v6.0h-6.0zM364.6 291.6h6.0v6.0h-6.0zM364.7 288.0h6.0v6.0h-6.0zM364.8 284.3h6.0v6.0h-6.0zM364.9 280.7h6.0v6.0h-6.0zM365.0 277.1h6.0v6.0h-6.0zM365.1 273.4h6.0v6.0h-6.0zM365.2 269.8h6.0v6.0h-6.0zM365.2 266.2h6.0v6.0h-6.0zM365.3 262.5h6.0v6.0h-6.0zM365.3 258.9h6.0v6.0h-6.0zM365.4 255.3h6.0v6.0h-6.0zM365.4 251.7h6.0v6.0h-6.0zM365.5 248.0h6.0v6.0h-6.0zM365.5 244.4h6.0v6.0h-6.0zM365.6 240.8h6.0v6.0h-6.0zM365.6 237.1h6.0v6.0h-6.0zM365.7 233.5h6.0v6.0h-6.0zM365.8 229.9h6.0v6.0h-6.0zM365.9 226.3h6.0v6.0h-6.0zM365.9 222.6h6.0v6.0h-6.0zM366.0 219.0h6.0v6.0h-6.0zM366.1 215.4h6.0v6.0h-6.0zM366.2 211.7h6.0v6.0h-6.0zM366.3 208.1h6.0v6.0h-6.0zM366.4 204.5h6.0v6.0h-6.0zM366.6 200.9h6.0v6.0h-6.0zM366.7 197.2h6.0v6.0h-6.0zM366.9 193.6h6.0v6.0h-6.0zM367.1 190.0h6.0v6.0h-6.0zM367.3 186.4h6.0v6.0h-6.0zM367.5 182.7h6.0v6.0h-6.0zM367.8 179.1h6.0v6.0h-6.0zM368.1 175.5h6.0v6.0h-6.0zM368.4 171.9h6.0v6.0h-6.0zM368.8 168.3h6.0v6.0h-6.0zM369.1 164.7h6.0v6.0h-6.0zM369.5 161.1h6.0v6.0h-6.0zM369.8 157.5h6.0v6.0h-6.0zM370.2 153.9h6.0v6.0h-6.0zM370.6 150.2h6.0v6.0h-6.0zM371.0 146.6h6.0v6.0h-6.0zM371.4 143.0h6.0v6.0h-6.0zM372.0 139.5h6.0v6.0h-6.0zM372.6 135.9h6.0v6.0h-6.0zM373.2 132.3h6.0v6.0h-6.0zM373.9 128.8h6.0v6.0h-6.0zM374.6 125.2h6.0v6.0h-6.0zM375.3 121.7h6.0v6.0h-6.0zM376.2 118.2h6.0v6.0h-6.0zM377.3 114.8h6.0v6.0h-6.0zM378.6 111.4h6.0v6.0h-6.0zM380.0 108.1h6.0v6.0h-6.0zM381.5 104.9h6.0v6.0h-6.0zM383.2 101.8h6.0v6.0h-6.0zM385.1 98.8h6.0v6.0h-6.0zM387.2 96.1h6.0v6.0h-6.0zM389.5 93.5h6.0v6.0h-6.0zM392.1 91.2h6.0v6.0h-6.0zM394.7 89.0h6.0v6.0h-6.0zM397.5 87.1h6.0v6.0h-6.0zM400.4 85.3h6.0v6.0h-6.0zM403.3 83.6h6.0v6.0h-6.0zM406.3 82.0h6.0v6.0h-6.0zM409.3 80.4h6.0v6.0h-6.0zM412.2 78.8h6.0v6.0h-6.0zM415.1 77.1h6.0v6.0h-6.0zM418.0 75.3h6.0v6.0h-6.0zM420.9 73.6h6.0v6.0h-6.0zM423.8 71.9h6.0v6.0h-6.0zM426.7 70.2h6.0v6.0h-6.0zM429.7 68.6h6.0v6.0h-6.0zM432.7 67.1h6.0v6.0h-6.0zM435.7 65.6h6.0v6.0h-6.0zM438.8 64.3h6.0v6.0h-6.0zM441.9 63.0h6.0v6.0h-6.0zM445.0 61.8h6.0v6.0h-6.0zM448.1 60.6h6.0v6.0h-6.0zM451.2 59.4h6.0v6.0h-6.0zM454.3 58.3h6.0v6.0h-6.0zM457.5 57.2h6.0v6.0h-6.0zM460.6 56.1h6.0v6.0h-6.0zM463.8 55.1h6.0v6.0h-6.0zM467.0 54.1h6.0v6.0h-6.0zM470.2 53.1h6.0v6.0h-6.0zM473.3 52.1h6.0v6.0h-6.0zM476.5 51.2h6.0v6.0h-6.0zM479.7 50.3h6.0v6.0h-6.0zM482.9 49.5h6.0v6.0h-6.0zM486.2 48.7h6.0v6.0h-6.0zM489.4 47.9h6.0v6.0h-6.0zM492.6 47.2h6.0v6.0h-6.0zM495.9 46.5h6.0v6.0h-6.0zM499.1 45.8h6.0v6.0h-6.0zM502.3 45.2h6.0v6.0h-6.0zM505.6 44.6h6.0v6.0h-6.0zM508.9 44.0h6.0v6.0h-6.0zM512.1 43.5h6.0v6.0h-6.0zM515.4 42.9h6.0v6.0h-6.0zM518.7 42.4h6.0v6.0h-6.0zM521.9 41.9h6.0v6.0h-6.0zM525.2 41.4h6.0v6.0h-6.0zM528.5 41.0h6.0v6.0h-6.0zM531.7 40.5h6.0v6.0h-6.0zM535.0 40.1h6.0v6.0h-6.0zM538.3 39.7h6.0v6.0h-6.0zM541.6 39.3h6.0v6.0h-6.0zM544.9 39.0h6.0v6.0h-6.0zM548.2 38.7h6.0v6.0h-6.0zM551.4 38.3h6.0v6.0h-6.0zM554.7 38.0h6.0v6.0h-6.0zM558.0 37.7h6.0v6.0h-6.0zM561.3 37.3h6.0v6.0h-6.0zM564.6 37.0h6.0v6.0h-6.0zM567.9 36.7h6.0v6.0h-6.0zM571.2 36.4h6.0v6.0h-6.0zM574.5 36.2h6.0v6.0h-6.0zM577.7 35.9h6.0v6.0h-6.0zM581.0 35.6h6.0v6.0h-6.0zM584.3 35.4h6.0v6.0h-6.0zM587.6 35.2h6.0v6.0h-6.0zM590.9 35.0h6.0v6.0h-6.0zM594.2 34.8h6.0v6.0h-6.0zM597.5 34.7h6.0v6.0h-6.0zM600.8 34.5h6.0v6.0h-6.0zM604.1 34.4h6.0v6.0h-6.0zM607.4 34.3h6.0v6.0h-6.0zM610.7 34.2h6.0v6.0h-6.0zM614.0 34.1h6.0v6.0h-6.0zM617.3 34.0h6.0v6.0h-6.0zM620.6 33.9h6.0v6.0h-6.0zM623.9 33.9h6.0v6.0h-6.0zM627.2 33.8h6.0v6.0h-6.0zM630.5 33.7h6.0v6.0h-6.0zM633.8 33.7h6.0v6.0h-6.0zM637.1 33.6h6.0v6.0h-6.0zM640.4 33.5h6.0v6.0h-6.0zM643.7 33.5h6.0v6.0h-6.0z" fill="#000000"/><path d="M649.79 27.41 L648.79 27.45 L647.79 27.49 L646.79 27.53 L645.79 27.57 L644.79 27.61 L643.80 27.65 L642.80 27.69 L641.80 27.73 L640.80 27.78 L639.80 27.82 L638.80 27.86 L637.80 27.90 L636.80 27.95 L635.80 27.99 L634.80 28.04 L633.80 28.08 L632.81 28.12 L631.81 28.17 L630.81 28.21 L629.81 28.26 L628.81 28.31 L627.81 28.35 L626.81 28.40 L625.81 28.45 L624.81 28.50 L623.82 28.55 L622.82 28.60 L621.82 28.65 L620.82 28.70 L619.82 28.75 L618.82 28.80 L617.82 28.85 L616.82 28.90 L615.83 28.95 L614.83 29.01 L613.83 29.06 L612.83 29.12 L611.83 29.17 L610.83 29.23 L609.83 29.28 L608.84 29.34 L607.84 29.40 L606.84 29.46 L605.84 29.52 L604.84 29.58 L603.85 29.64 L602.85 29.70 L601.85 29.76 L600.85 29.82 L599.85 29.89 L598.85 29.95 L597.86 30.02 L596.86 30.08 L595.86 30.15 L594.86 30.22 L593.87 30.28 L592.87 30.35 L591.87 30.42 L590.87 30.49 L589.88 30.56 L588.88 30.63 L587.88 30.70 L586.88 30.77 L585.89 30.85 L584.89 30.92 L583.89 31.00 L582.89 31.07 L581.90 31.15 L580.90 31.22 L579.90 31.30 L578.91 31.38 L577.91 31.46 L576.91 31.54 L575.92 31.62 L574.92 31.70 L573.92 31.79 L572.93 31.87 L571.93 31.96 L570.93 32.04 L569.94 32.13 L568.94 32.22 L567.95 32.30 L566.95 32.39 L565.95 32.48 L564.96 32.58 L563.96 32.67 L562.97 32.76 L561.97 32.86 L560.98 32.95 L559.98 33.05 L558.98 33.14 L557.99 33.24 L556.99 33.34 L556.00 33.44 L555.00 33.55 L554.01 33.65 L553.02 33.75 L552.02 33.86 L551.03 33.96 L550.03 34.07 L549.04 34.18 L548.04 34.29 L547.05 34.40 L546.06 34.51 L545.06 34.62 L544.07 34.74 L543.08 34.85 L542.08 34.97 L541.09 35.09 L540.10 35.21 L539.10 35.33 L538.11 35.45 L537.12 35.59 L536.13 35.72 L535.14 35.86 L534.15 36.00 L533.16 36.15 L532.17 36.30 L531.18 36.45 L530.20 36.61 L529.21 36.77 L528.22 36.94 L527.24 37.10 L526.25 37.27 L525.27 37.44 L524.28 37.61 L523.30 37.79 L522.31 37.97 L521.33 38.15 L520.35 38.33 L519.36 38.51 L518.38 38.69 L517.40 38.88 L516.41 39.06 L515.43 39.25 L514.45 39.43 L513.47 39.62 L512.48 39.81 L511.50 39.99 L510.52 40.18 L509.54 40.37 L508.55 40.55 L507.57 40.74 L506.59 40.93 L505.61 41.11 L504.62 41.29 L503.64 41.48 L502.66 41.66 L501.67 41.84 L500.69 42.03 L499.71 42.21 L498.73 42.40 L497.74 42.59 L496.76 42.78 L495.78 42.97 L494.80 43.16 L493.82 43.36 L492.84 43.56 L491.86 43.76 L490.88 43.96 L489.90 44.17 L488.93 44.39 L487.95 44.60 L486.97 44.82 L486.00 45.05 L485.03 45.28 L484.05 45.52 L483.08 45.76 L482.12 46.00 L481.15 46.26 L480.18 46.52 L479.22 46.78 L478.26 47.05 L477.30 47.34 L476.34 47.63 L475.38 47.92 L474.43 48.23 L473.48 48.54 L472.53 48.86 L471.59 49.18 L470.64 49.51 L469.70 49.85 L468.76 50.19 L467.83 50.54 L466.89 50.90 L465.96 51.26 L465.03 51.62 L464.10 51.99 L463.17 52.37 L462.25 52.75 L461.32 53.13 L460.40 53.52 L459.48 53.91 L458.56 54.30 L457.64 54.70 L456.73 55.10 L455.81 55.51 L454.90 55.92 L453.99 56.33 L453.08 56.74 L452.17 57.16 L451.26 57.58 L450.36 58.00 L449.45 58.43 L448.55 58.85 L447.65 59.29 L446.75 59.73 L445.86 60.18 L444.97 60.64 L444.08 61.10 L443.20 61.57 L442.32 62.04 L441.44 62.53 L440.57 63.01 L439.70 63.50 L438.83 64.00 L437.96 64.50 L437.10 65.01 L436.24 65.52 L435.38 66.03 L434.53 66.55 L433.67 67.07 L432.82 67.59 L431.97 68.12 L431.12 68.65 L430.28 69.18 L429.43 69.72 L428.59 70.25 L427.74 70.79 L426.90 71.33 L426.06 71.87 L425.22 72.42 L424.39 72.96 L423.55 73.51 L422.71 74.06 L421.87 74.60 L421.04 75.15 L420.20 75.70 L419.36 76.25 L418.53 76.80 L417.70 77.35 L416.86 77.90 L416.03 78.46 L415.20 79.01 L414.37 79.57 L413.54 80.14 L412.72 80.70 L411.90 81.27 L411.08 81.85 L410.27 82.43 L409.45 83.01 L408.64 83.60 L407.84 84.19 L407.04 84.79 L406.24 85.39 L405.45 86.00 L404.66 86.62 L403.88 87.24 L403.10 87.87 L402.32 88.50 L401.56 89.14 L400.79 89.79 L400.04 90.44 L399.28 91.10 L398.54 91.77 L397.80 92.44 L397.06 93.12 L396.33 93.80 L395.61 94.49 L394.89 95.19 L394.18 95.89 L393.48 96.60 L392.78 97.32 L392.09 98.04 L391.41 98.77 L390.73 99.51 L390.05 100.25 L389.39 100.99 L388.73 101.74 L388.07 102.50 L387.42 103.26 L386.76 104.01 L386.10 104.76 L385.44 105.51 L384.78 106.26 L384.13 107.02 L383.48 107.78 L382.85 108.56 L382.23 109.34 L381.62 110.13 L381.02 110.94 L380.44 111.75 L379.88 112.58 L379.34 113.42 L378.81 114.27 L378.30 115.13 L377.81 116.00 L377.33 116.87 L376.86 117.76 L376.42 118.66 L375.98 119.56 L375.57 120.47 L375.18 121.39 L374.81 122.32 L374.46 123.25 L374.12 124.19 L373.80 125.14 L373.49 126.09 L373.20 127.05 L372.92 128.01 L372.65 128.97 L372.39 129.94 L372.13 130.90 L371.89 131.87 L371.66 132.85 L371.43 133.82 L371.21 134.79 L370.99 135.77 L370.78 136.75 L370.58 137.73 L370.38 138.71 L370.19 139.69 L370.01 140.67 L369.84 141.66 L369.69 142.65 L369.55 143.64 L369.42 144.63 L369.30 145.62 L369.18 146.61 L369.06 147.61 L368.95 148.60 L368.84 149.60 L368.73 150.59 L368.62 151.58 L368.52 152.58 L368.42 153.57 L368.31 154.57 L368.21 155.56 L368.11 156.56 L368.01 157.55 L367.90 158.55 L367.80 159.54 L367.70 160.54 L367.59 161.53 L367.49 162.52 L367.38 163.52 L367.27 164.51 L367.16 165.51 L367.06 166.50 L366.97 167.50 L366.88 168.49 L366.80 169.49 L366.72 170.49 L366.65 171.49 L366.58 172.48 L366.51 173.48 L366.45 174.48 L366.38 175.48 L366.32 176.47 L366.25 177.47 L366.19 178.47 L366.13 179.47 L366.08 180.47 L366.02 181.47 L365.97 182.46 L365.91 183.46 L365.87 184.46 L365.82 185.46 L365.77 186.46 L365.73 187.46 L365.68 188.46 L365.64 189.46 L365.60 190.46 L365.56 191.45 L365.52 192.45 L365.48 193.45 L365.45 194.45 L365.41 195.45 L365.38 196.45 L365.34 197.45 L365.31 198.45 L365.28 199.45 L365.25 200.45 L365.22 201.45 L365.18 202.45 L365.15 203.45 L365.12 204.45 L365.09 205.45 L365.06 206.45 L365.03 207.45 L365.00 208.45 L364.96 209.44 L364.91 210.44 L364.86 211.44 L364.81 212.44 L364.76 213.44 L364.71 214.44 L364.67 215.44 L364.64 216.44 L364.60 217.44 L364.57 218.44 L364.54 219.44 L364.51 220.43 L364.48 221.43 L364.45 222.43 L364.42 223.43 L364.39 224.43 L364.36 225.43 L364.33 226.43 L364.29 227.43 L364.26 228.43 L364.23 229.43 L364.20 230.43 L364.17 231.43 L364.14 232.43 L364.11 233.43 L364.08 234.43 L364.04 235.43 L364.01 236.43 L363.98 237.43 L363.95 238.43 L363.91 239.43 L363.88 240.43 L363.85 241.42 L363.82 242.42 L363.79 243.42 L363.76 244.42 L363.73 245.42 L363.71 246.42 L363.68 247.42 L363.66 248.42 L363.63 249.42 L363.60 250.42 L363.57 251.42 L363.52 252.42 L363.46 253.42 L363.38 254.41 L363.31 255.41 L363.25 256.41 L363.18 257.41 L363.12 258.41 L363.06 259.40 L363.00 260.40 L362.94 261.40 L362.88 262.40 L362.82 263.40 L362.76 264.40 L362.70 265.39 L362.63 266.39 L362.57 267.39 L362.50 268.39 L362.43 269.38 L362.36 270.38 L362.29 271.38 L362.22 272.38 L362.14 273.37 L362.07 274.37 L362.00 275.37 L361.92 276.37 L361.85 277.36 L361.77 278.36 L361.69 279.36 L361.61 280.35 L361.53 281.35 L361.45 282.35 L361.37 283.34 L361.28 284.34 L361.19 285.34 L361.11 286.33 L361.01 287.33 L360.92 288.32 L360.82 289.32 L360.72 290.31 L360.63 291.31 L360.53 292.30 L360.43 293.30 L360.32 294.29 L360.22 295.29 L360.12 296.28 L360.01 297.28 L359.90 298.27 L359.79 299.27 L359.68 300.26 L359.57 301.25 L359.46 302.25 L359.34 303.24 L359.22 304.23 L359.10 305.22 L358.97 306.22 L358.84 307.21 L358.71 308.20 L358.57 309.19 L358.43 310.18 L358.28 311.17 L358.12 312.16 L357.96 313.14 L357.80 314.13 L357.63 315.12 L357.46 316.10 L357.30 317.09 L357.12 318.07 L356.95 319.06 L356.77 320.04 L356.59 321.02 L356.41 322.01 L356.22 322.99 L356.03 323.97 L355.83 324.95 L355.63 325.93 L355.43 326.91 L355.22 327.89 L355.01 328.87 L354.79 329.84 L354.57 330.82 L354.34 331.79 L354.10 332.76 L353.86 333.73 L353.61 334.70 L353.34 335.66 L353.07 336.63 L352.78 337.59 L352.49 338.54 L352.17 339.49 L351.84 340.43 L351.51 341.37 L351.16 342.31 L350.81 343.25 L350.45 344.18 L350.08 345.11 L349.70 346.04 L349.31 346.96 L348.92 347.88 L348.51 348.79 L348.09 349.70 L347.66 350.60 L347.23 351.50 L346.78 352.40 L346.32 353.28 L345.85 354.17 L345.37 355.04 L344.88 355.91 L344.37 356.78 L343.86 357.64 L343.34 358.49 L342.81 359.34 L342.27 360.18 L341.73 361.02 L341.18 361.86 L340.62 362.69 L340.07 363.52 L339.50 364.34 L338.93 365.17 L338.35 365.98 L337.77 366.79 L337.18 367.60 L336.58 368.40 L335.97 369.19 L335.35 369.98 L334.72 370.76 L334.09 371.53 L333.45 372.30 L332.79 373.05 L332.13 373.80 L331.45 374.54 L330.77 375.26 L330.07 375.98 L329.36 376.69 L328.64 377.38 L327.90 378.05 L327.15 378.72 L326.39 379.36 L325.62 380.00 L324.83 380.62 L324.04 381.23 L323.23 381.82 L322.42 382.41 L321.60 382.98 L320.77 383.54 L319.94 384.09 L319.10 384.63 L318.25 385.16 L317.40 385.68 L316.54 386.20 L315.68 386.72 L314.82 387.22 L313.96 387.73 L313.10 388.24 L312.24 388.74 L311.38 389.25 L310.52 389.76 L309.66 390.28 L308.81 390.80 L307.96 391.33 L307.11 391.86 L306.26 392.39 L305.42 392.93 L304.57 393.46 L303.73 394.00 L302.89 394.54 L302.04 395.07 L301.20 395.61 L300.36 396.15 L299.51 396.68 L298.67 397.22 L297.82 397.75 L296.98 398.29 L296.13 398.82 L295.28 399.35 L294.43 399.88 L293.58 400.40 L292.73 400.92 L291.87 401.44 L291.02 401.96 L290.16 402.47 L289.30 402.98 L288.43 403.48 L287.56 403.98 L286.69 404.47 L285.82 404.96 L284.94 405.44 L284.06 405.91 L283.18 406.38 L282.29 406.84 L281.40 407.30 L280.51 407.74 L279.60 408.17 L278.70 408.60 L277.79 409.03 L276.89 409.45 L275.98 409.87 L275.07 410.28 L274.16 410.70 L273.25 411.11 L272.34 411.52 L271.42 411.92 L270.51 412.32 L269.59 412.72 L268.67 413.12 L267.75 413.51 L266.83 413.90 L265.91 414.28 L264.98 414.66 L264.05 415.03 L263.12 415.40 L262.19 415.77 L261.26 416.13 L260.32 416.48 L259.39 416.83 L258.45 417.17 L257.51 417.51 L256.56 417.84 L255.62 418.16 L254.67 418.48 L253.72 418.79 L252.76 419.10 L251.81 419.39 L250.85 419.68 L249.89 419.96 L248.93 420.24 L247.97 420.50 L247.00 420.76 L246.03 421.01 L245.06 421.26 L244.09 421.50 L243.12 421.73 L242.15 421.96 L241.17 422.19 L240.20 422.41 L239.22 422.63 L238.24 422.84 L237.27 423.05 L236.29 423.25 L235.31 423.46 L234.33 423.66 L233.35 423.85 L232.37 424.04 L231.39 424.24 L230.40 424.43 L229.42 424.61 L228.44 424.80 L227.46 424.98 L226.47 425.17 L225.49 425.35 L224.51 425.54 L223.52 425.72 L222.54 425.90 L221.56 426.09 L220.58 426.27 L219.59 426.46 L218.61 426.64 L217.63 426.83 L216.65 427.02 L215.66 427.21 L214.68 427.39 L213.70 427.58 L212.72 427.77 L211.73 427.95 L210.75 428.14 L209.77 428.32 L208.78 428.50 L207.80 428.69 L206.82 428.87 L205.83 429.04 L204.85 429.22 L203.87 429.40 L202.88 429.57 L201.90 429.74 L200.91 429.91 L199.92 430.07 L198.94 430.24 L197.95 430.40 L196.96 430.56 L195.97 430.71 L194.99 430.86 L194.00 431.01 L193.01 431.15 L192.02 431.29 L191.03 431.42 L190.03 431.55 L189.04 431.68 L188.05 431.80 L187.06 431.92 L186.06 432.04 L185.07 432.15 L184.08 432.27 L183.08 432.38 L182.09 432.50 L181.10 432.61 L180.10 432.72 L179.11 432.83 L178.11 432.94 L177.12 433.04 L176.13 433.15 L175.13 433.26 L174.14 433.36 L173.14 433.46 L172.15 433.56 L171.15 433.66 L170.16 433.76 L169.16 433.86 L168.17 433.96 L167.17 434.06 L166.18 434.15 L165.18 434.24 L164.18 434.34 L163.19 434.43 L162.19 434.52 L161.20 434.61 L160.20 434.70 L159.20 434.79 L158.21 434.88 L157.21 434.96 L156.22 435.05 L155.22 435.13 L154.22 435.22 L153.23 435.30 L152.23 435.38 L151.23 435.46 L150.24 435.54 L149.24 435.62 L148.24 435.70 L147.25 435.78 L146.25 435.86 L145.25 435.93 L144.25 436.01 L143.26 436.08 L142.26 436.16 L141.26 436.23 L140.27 436.30 L139.27 436.37 L138.27 436.45 L137.27 436.52 L136.28 436.58 L135.28 436.65 L134.28 436.72 L133.28 436.79 L132.28 436.86 L131.29 436.92 L130.29 436.99 L129.29 437.05 L128.29 437.12 L127.30 437.18 L126.30 437.24 L125.30 437.30 L124.30 437.37 L123.30 437.43 L122.30 437.49 L121.31 437.55 L120.31 437.60 L119.31 437.66 L118.31 437.72 L117.31 437.78 L116.31 437.83 L115.32 437.89 L114.32 437.94 L113.32 438.00 L112.32 438.05 L111.32 438.10 L110.32 438.15 L109.32 438.21 L108.33 438.26 L107.33 438.31 L106.33 438.36 L105.33 438.41 L104.33 438.46 L103.33 438.51 L102.33 438.55 L101.33 438.60 L100.34 438.65 L99.34 438.70 L98.34 438.74 L97.34 438.79 L96.34 438.83 L95.34 438.88 L94.34 438.92 L93.34 438.97 L92.34 439.01 L91.34 439.06 L90.35 439.10 L89.35 439.14 L88.35 439.18 L87.35 439.23 L86.35 439.27 L85.35 439.31 L84.35 439.35 L83.35 439.39 L83.87 439.57 L84.87 439.53 L85.87 439.49 L86.87 439.45 L87.87 439.40 L88.87 439.36 L89.87 439.32 L90.87 439.28 L91.86 439.24 L92.86 439.20 L93.86 439.15 L94.86 439.11 L95.86 439.07 L96.86 439.02 L97.86 438.98 L98.86 438.94 L99.86 438.89 L100.86 438.85 L101.86 438.80 L102.85 438.75 L103.85 438.71 L104.85 438.66 L105.85 438.61 L106.85 438.57 L107.85 438.52 L108.85 438.47 L109.85 438.42 L110.84 438.37 L111.84 438.32 L112.84 438.27 L113.84 438.22 L114.84 438.17 L115.84 438.12 L116.84 438.06 L117.84 438.01 L118.83 437.96 L119.83 437.90 L120.83 437.85 L121.83 437.79 L122.83 437.73 L123.83 437.68 L124.82 437.62 L125.82 437.56 L126.82 437.50 L127.82 437.44 L128.82 437.38 L129.82 437.32 L130.81 437.26 L131.81 437.20 L132.81 437.13 L133.81 437.07 L134.81 437.00 L135.80 436.94 L136.80 436.87 L137.80 436.81 L138.80 436.74 L139.79 436.67 L140.79 436.60 L141.79 436.53 L142.79 436.46 L143.78 436.39 L144.78 436.32 L145.78 436.25 L146.78 436.18 L147.77 436.10 L148.77 436.03 L149.77 435.95 L150.77 435.88 L151.76 435.80 L152.76 435.72 L153.76 435.65 L154.75 435.57 L155.75 435.49 L156.75 435.41 L157.74 435.32 L158.74 435.24 L159.74 435.16 L160.73 435.07 L161.73 434.99 L162.73 434.90 L163.72 434.81 L164.72 434.73 L165.71 434.64 L166.71 434.55 L167.71 434.46 L168.70 434.36 L169.70 434.27 L170.69 434.18 L171.69 434.08 L172.68 433.99 L173.68 433.89 L174.67 433.79 L175.67 433.69 L176.66 433.59 L177.66 433.49 L178.65 433.39 L179.65 433.28 L180.64 433.18 L181.64 433.07 L182.63 432.97 L183.63 432.86 L184.62 432.75 L185.61 432.64 L186.61 432.53 L187.60 432.41 L188.59 432.30 L189.59 432.19 L190.58 432.07 L191.57 431.95 L192.57 431.83 L193.56 431.71 L194.55 431.59 L195.54 431.46 L196.53 431.33 L197.53 431.19 L198.52 431.05 L199.50 430.90 L200.49 430.75 L201.48 430.60 L202.47 430.44 L203.46 430.28 L204.44 430.12 L205.43 429.95 L206.42 429.79 L207.40 429.62 L208.39 429.44 L209.37 429.27 L210.35 429.09 L211.34 428.91 L212.32 428.73 L213.31 428.55 L214.29 428.37 L215.27 428.19 L216.25 428.00 L217.24 427.82 L218.22 427.63 L219.20 427.44 L220.18 427.26 L221.17 427.07 L222.15 426.88 L223.13 426.69 L224.11 426.51 L225.10 426.32 L226.08 426.14 L227.06 425.95 L228.05 425.77 L229.03 425.59 L230.01 425.40 L230.99 425.22 L231.98 425.03 L232.96 424.85 L233.94 424.66 L234.92 424.48 L235.91 424.29 L236.89 424.10 L237.87 423.90 L238.85 423.71 L239.83 423.51 L240.81 423.31 L241.79 423.11 L242.77 422.90 L243.74 422.69 L244.72 422.47 L245.70 422.25 L246.67 422.03 L247.64 421.80 L248.62 421.56 L249.59 421.32 L250.56 421.08 L251.53 420.83 L252.49 420.57 L253.46 420.31 L254.42 420.04 L255.38 419.76 L256.34 419.47 L257.29 419.18 L258.25 418.88 L259.20 418.57 L260.15 418.25 L261.09 417.93 L262.04 417.60 L262.98 417.26 L263.92 416.92 L264.86 416.57 L265.79 416.22 L266.73 415.86 L267.66 415.50 L268.59 415.13 L269.52 414.76 L270.44 414.38 L271.37 414.00 L272.29 413.61 L273.21 413.22 L274.13 412.83 L275.05 412.43 L275.96 412.03 L276.88 411.63 L277.79 411.22 L278.70 410.81 L279.61 410.40 L280.52 409.98 L281.43 409.56 L282.34 409.14 L283.24 408.72 L284.15 408.29 L285.05 407.86 L285.95 407.42 L286.84 406.97 L287.73 406.52 L288.62 406.06 L289.50 405.59 L290.39 405.12 L291.26 404.64 L292.14 404.15 L293.01 403.66 L293.88 403.17 L294.74 402.67 L295.61 402.16 L296.47 401.66 L297.33 401.14 L298.18 400.63 L299.04 400.11 L299.89 399.58 L300.74 399.06 L301.59 398.53 L302.44 398.00 L303.28 397.46 L304.13 396.93 L304.97 396.39 L305.81 395.85 L306.65 395.31 L307.49 394.77 L308.33 394.22 L309.17 393.68 L310.01 393.13 L310.84 392.58 L311.68 392.03 L312.52 391.49 L313.35 390.94 L314.19 390.39 L315.02 389.84 L315.86 389.29 L316.69 388.73 L317.52 388.17 L318.35 387.62 L319.18 387.05 L320.00 386.49 L320.82 385.92 L321.64 385.35 L322.46 384.77 L323.27 384.19 L324.08 383.60 L324.89 383.01 L325.69 382.41 L326.49 381.81 L327.28 381.20 L328.07 380.59 L328.86 379.97 L329.64 379.35 L330.42 378.71 L331.19 378.08 L331.95 377.43 L332.71 376.78 L333.46 376.12 L334.21 375.46 L334.95 374.79 L335.69 374.11 L336.42 373.43 L337.15 372.74 L337.86 372.05 L338.58 371.34 L339.28 370.64 L339.98 369.92 L340.68 369.20 L341.36 368.48 L342.04 367.74 L342.72 367.00 L343.39 366.26 L344.05 365.51 L344.71 364.76 L345.36 364.00 L346.01 363.25 L346.68 362.49 L347.34 361.74 L348.00 360.99 L348.65 360.24 L349.30 359.48 L349.94 358.71 L350.57 357.93 L351.18 357.14 L351.78 356.34 L352.36 355.53 L352.93 354.70 L353.48 353.87 L354.01 353.02 L354.53 352.16 L355.03 351.30 L355.51 350.42 L355.98 349.54 L356.43 348.65 L356.87 347.75 L357.29 346.84 L357.69 345.92 L358.07 345.00 L358.43 344.07 L358.77 343.13 L359.09 342.18 L359.40 341.23 L359.70 340.27 L359.99 339.32 L360.26 338.36 L360.53 337.39 L360.78 336.42 L361.03 335.45 L361.27 334.48 L361.50 333.51 L361.72 332.54 L361.94 331.56 L362.15 330.58 L362.35 329.60 L362.55 328.62 L362.74 327.64 L362.93 326.66 L363.11 325.67 L363.26 324.69 L363.40 323.70 L363.54 322.71 L363.66 321.71 L363.78 320.72 L363.90 319.73 L364.01 318.73 L364.13 317.74 L364.23 316.75 L364.34 315.75 L364.45 314.76 L364.55 313.76 L364.65 312.77 L364.76 311.77 L364.86 310.78 L364.96 309.78 L365.06 308.79 L365.16 307.79 L365.27 306.80 L365.37 305.81 L365.48 304.81 L365.59 303.82 L365.69 302.82 L365.80 301.83 L365.90 300.83 L366.00 299.84 L366.09 298.84 L366.18 297.85 L366.25 296.85 L366.33 295.85 L366.40 294.85 L366.47 293.86 L366.53 292.86 L366.60 291.86 L366.66 290.86 L366.72 289.87 L366.79 288.87 L366.85 287.87 L366.91 286.87 L366.96 285.87 L367.02 284.87 L367.07 283.88 L367.12 282.88 L367.17 281.88 L367.21 280.88 L367.26 279.88 L367.30 278.88 L367.34 277.88 L367.38 276.88 L367.42 275.88 L367.46 274.88 L367.50 273.88 L367.54 272.89 L367.58 271.89 L367.61 270.89 L367.65 269.89 L367.68 268.89 L367.71 267.89 L367.74 266.89 L367.77 265.89 L367.80 264.89 L367.84 263.89 L367.87 262.89 L367.90 261.89 L367.93 260.89 L367.96 259.89 L367.99 258.89 L368.03 257.89 L368.07 256.89 L368.12 255.90 L368.18 254.90 L368.23 253.90 L368.28 252.90 L368.32 251.90 L368.35 250.90 L368.39 249.90 L368.42 248.90 L368.45 247.90 L368.48 246.90 L368.51 245.90 L368.54 244.90 L368.57 243.90 L368.60 242.90 L368.63 241.91 L368.66 240.91 L368.69 239.91 L368.73 238.91 L368.76 237.91 L368.79 236.91 L368.82 235.91 L368.85 234.91 L368.88 233.91 L368.91 232.91 L368.94 231.91 L368.98 230.91 L369.01 229.91 L369.04 228.91 L369.07 227.91 L369.11 226.91 L369.14 225.91 L369.17 224.91 L369.20 223.91 L369.23 222.91 L369.26 221.92 L369.28 220.92 L369.31 219.92 L369.33 218.92 L369.36 217.92 L369.39 216.92 L369.42 215.92 L369.46 214.92 L369.52 213.92 L369.59 212.92 L369.67 211.93 L369.73 210.93 L369.80 209.93 L369.86 208.93 L369.92 207.93 L369.98 206.94 L370.04 205.94 L370.10 204.94 L370.16 203.94 L370.22 202.94 L370.28 201.94 L370.34 200.95 L370.41 199.95 L370.48 198.95 L370.55 197.95 L370.62 196.96 L370.69 195.96 L370.76 194.96 L370.83 193.96 L370.90 192.97 L370.98 191.97 L371.05 190.97 L371.13 189.97 L371.20 188.98 L371.28 187.98 L371.36 186.98 L371.44 185.99 L371.52 184.99 L371.60 183.99 L371.69 183.00 L371.78 182.00 L371.86 181.00 L371.96 180.01 L372.05 179.01 L372.14 178.02 L372.24 177.02 L372.34 176.03 L372.44 175.03 L372.54 174.04 L372.64 173.04 L372.74 172.05 L372.85 171.05 L372.95 170.06 L373.06 169.06 L373.17 168.07 L373.28 167.08 L373.39 166.08 L373.51 165.09 L373.62 164.10 L373.74 163.10 L373.86 162.11 L373.99 161.12 L374.12 160.13 L374.25 159.14 L374.38 158.14 L374.53 157.15 L374.67 156.17 L374.83 155.18 L374.99 154.19 L375.15 153.20 L375.31 152.22 L375.48 151.23 L375.65 150.25 L375.82 149.26 L375.99 148.28 L376.17 147.29 L376.35 146.31 L376.53 145.32 L376.72 144.34 L376.91 143.36 L377.10 142.38 L377.30 141.40 L377.50 140.42 L377.71 139.44 L377.92 138.46 L378.13 137.49 L378.35 136.51 L378.58 135.54 L378.82 134.57 L379.06 133.60 L379.31 132.63 L379.57 131.66 L379.84 130.70 L380.12 129.74 L380.41 128.78 L380.72 127.83 L381.05 126.89 L381.38 125.94 L381.72 125.00 L382.07 124.07 L382.43 123.13 L382.79 122.20 L383.17 121.28 L383.55 120.35 L383.95 119.43 L384.35 118.52 L384.77 117.61 L385.19 116.70 L385.62 115.80 L386.07 114.91 L386.53 114.02 L386.99 113.13 L387.47 112.25 L387.96 111.38 L388.46 110.51 L388.96 109.65 L389.48 108.80 L390.01 107.95 L390.54 107.10 L391.09 106.26 L391.63 105.43 L392.19 104.59 L392.75 103.76 L393.31 102.93 L393.88 102.11 L394.45 101.29 L395.03 100.48 L395.62 99.67 L396.22 98.87 L396.83 98.08 L397.44 97.29 L398.06 96.50 L398.69 95.73 L399.34 94.96 L399.99 94.20 L400.65 93.45 L401.32 92.71 L402.00 91.98 L402.69 91.26 L403.40 90.55 L404.12 89.86 L404.85 89.17 L405.59 88.50 L406.35 87.85 L407.12 87.21 L407.90 86.59 L408.69 85.98 L409.49 85.38 L410.30 84.79 L411.12 84.21 L411.95 83.65 L412.78 83.10 L413.62 82.55 L414.46 82.02 L415.31 81.49 L416.17 80.97 L417.02 80.46 L417.88 79.95 L418.75 79.44 L419.61 78.93 L420.47 78.43 L421.33 77.92 L422.19 77.41 L423.05 76.90 L423.91 76.38 L424.76 75.85 L425.60 75.32 L426.45 74.79 L427.30 74.25 L428.14 73.72 L428.98 73.18 L429.83 72.65 L430.67 72.11 L431.52 71.57 L432.36 71.03 L433.20 70.50 L434.05 69.96 L434.89 69.43 L435.74 68.89 L436.58 68.36 L437.43 67.83 L438.28 67.30 L439.13 66.78 L439.98 66.25 L440.84 65.73 L441.69 65.22 L442.55 64.70 L443.41 64.19 L444.28 63.69 L445.14 63.19 L446.01 62.70 L446.88 62.21 L447.76 61.72 L448.64 61.25 L449.52 60.78 L450.41 60.31 L451.30 59.86 L452.19 59.41 L453.09 58.97 L453.99 58.54 L454.90 58.12 L455.81 57.70 L456.71 57.28 L457.62 56.86 L458.53 56.44 L459.44 56.03 L460.35 55.62 L461.27 55.21 L462.18 54.81 L463.10 54.41 L464.02 54.02 L464.94 53.62 L465.86 53.23 L466.78 52.85 L467.71 52.47 L468.63 52.09 L469.56 51.72 L470.49 51.36 L471.43 51.00 L472.36 50.64 L473.30 50.29 L474.24 49.94 L475.18 49.61 L476.12 49.27 L477.06 48.95 L478.01 48.63 L478.96 48.31 L479.91 48.01 L480.87 47.71 L481.82 47.41 L482.78 47.13 L483.74 46.85 L484.71 46.59 L485.67 46.33 L486.64 46.07 L487.61 45.82 L488.58 45.58 L489.55 45.34 L490.52 45.11 L491.50 44.89 L492.47 44.66 L493.45 44.44 L494.42 44.23 L495.40 44.02 L496.38 43.81 L497.36 43.61 L498.34 43.41 L499.32 43.21 L500.30 43.02 L501.28 42.83 L502.26 42.64 L503.25 42.45 L504.23 42.26 L505.21 42.08 L506.19 41.89 L507.18 41.71 L508.16 41.53 L509.14 41.34 L510.13 41.16 L511.11 40.98 L512.09 40.79 L513.07 40.61 L514.06 40.42 L515.04 40.23 L516.02 40.05 L517.00 39.86 L517.99 39.67 L518.97 39.48 L519.95 39.30 L520.93 39.11 L521.92 38.93 L522.90 38.74 L523.88 38.56 L524.87 38.38 L525.85 38.20 L526.83 38.02 L527.82 37.84 L528.80 37.66 L529.79 37.49 L530.77 37.32 L531.76 37.15 L532.74 36.98 L533.73 36.82 L534.72 36.66 L535.70 36.50 L536.69 36.34 L537.68 36.19 L538.67 36.04 L539.66 35.90 L540.65 35.76 L541.64 35.62 L542.63 35.49 L543.62 35.36 L544.62 35.24 L545.61 35.12 L546.60 35.00 L547.59 34.88 L548.59 34.77 L549.58 34.65 L550.57 34.54 L551.57 34.43 L552.56 34.32 L553.56 34.21 L554.55 34.10 L555.54 33.99 L556.54 33.89 L557.53 33.78 L558.53 33.68 L559.52 33.57 L560.52 33.47 L561.51 33.37 L562.51 33.27 L563.50 33.17 L564.50 33.07 L565.49 32.98 L566.49 32.88 L567.48 32.79 L568.48 32.69 L569.47 32.60 L570.47 32.51 L571.47 32.42 L572.46 32.33 L573.46 32.24 L574.45 32.15 L575.45 32.07 L576.45 31.98 L577.44 31.89 L578.44 31.81 L579.44 31.73 L580.43 31.64 L581.43 31.56 L582.43 31.48 L583.42 31.40 L584.42 31.32 L585.42 31.25 L586.41 31.17 L587.41 31.09 L588.41 31.02 L589.41 30.94 L590.40 30.87 L591.40 30.79 L592.40 30.72 L593.39 30.65 L594.39 30.58 L595.39 30.51 L596.39 30.44 L597.39 30.37 L598.38 30.30 L599.38 30.23 L600.38 30.17 L601.38 30.10 L602.37 30.03 L603.37 29.97 L604.37 29.91 L605.37 29.84 L606.37 29.78 L607.36 29.72 L608.36 29.66 L609.36 29.59 L610.36 29.53 L611.36 29.47 L612.35 29.42 L613.35 29.36 L614.35 29.30 L615.35 29.24 L616.35 29.19 L617.35 29.13 L618.35 29.08 L619.34 29.02 L620.34 28.97 L621.34 28.92 L622.34 28.86 L623.34 28.81 L624.34 28.76 L625.34 28.71 L626.33 28.66 L627.33 28.61 L628.33 28.56 L629.33 28.51 L630.33 28.46 L631.33 28.41 L632.33 28.37 L633.33 28.32 L634.32 28.27 L635.32 28.23 L636.32 28.18 L637.32 28.14 L638.32 28.09 L639.32 28.05 L640.32 28.00 L641.32 27.96 L642.32 27.92 L643.32 27.87 L644.32 27.83 L645.31 27.79 L646.31 27.75 L647.31 27.70 L648.31 27.66 L649.31 27.62" fill="none" stroke="#56B4E9" stroke-width="1.5"/><path d="M649.8 22.9l4.5 4.5l-4.5 4.5l-4.5 -4.5zM646.5 23.0l4.5 4.5l-4.5 4.5l-4.5 -4.5zM643.2 23.2l4.5 4.5l-4.5 4.5l-4.5 -4.5zM639.9 23.3l4.5 4.5l-4.5 4.5l-4.5 -4.5zM636.6 23.5l4.5 4.5l-4.5 4.5l-4.5 -4.5zM633.3 23.6l4.5 4.5l-4.5 4.5l-4.5 -4.5zM630.0 23.8l4.5 4.5l-4.5 4.5l-4.5 -4.5zM626.7 23.9l4.5 4.5l-4.5 4.5l-4.5 -4.5zM623.4 24.1l4.5 4.5l-4.5 4.5l-4.5 -4.5zM620.1 24.2l4.5 4.5l-4.5 4.5l-4.5 -4.5zM616.8 24.4l4.5 4.5l-4.5 4.5l-4.5 -4.5zM613.5 24.6l4.5 4.5l-4.5 4.5l-4.5 -4.5zM610.2 24.8l4.5 4.5l-4.5 4.5l-4.5 -4.5zM606.9 25.0l4.5 4.5l-4.5 4.5l-4.5 -4.5zM603.6 25.2l4.5 4.5l-4.5 4.5l-4.5 -4.5zM600.3 25.4l4.5 4.5l-4.5 4.5l-4.5 -4.5zM597.0 25.6l4.5 4.5l-4.5 4.5l-4.5 -4.5zM593.8 25.8l4.5 4.5l-4.5 4.5l-4.5 -4.5zM590.5 26.0l4.5 4.5l-4.5 4.5l-4.5 -4.5zM587.2 26.3l4.5 4.5l-4.5 4.5l-4.5 -4.5zM583.9 26.5l4.5 4.5l-4.5 4.5l-4.5 -4.5zM580.6 26.7l4.5 4.5l-4.5 4.5l-4.5 -4.5zM577.3 27.0l4.5 4.5l-4.5 4.5l-4.5 -4.5zM574.0 27.3l4.5 4.5l-4.5 4.5l-4.5 -4.5zM570.7 27.6l4.5 4.5l-4.5 4.5l-4.5 -4.5zM567.4 27.9l4.5 4.5l-4.5 4.5l-4.5 -4.5zM564.1 28.2l4.5 4.5l-4.5 4.5l-4.5 -4.5zM560.8 28.5l4.5 4.5l-4.5 4.5l-4.5 -4.5zM557.6 28.8l4.5 4.5l-4.5 4.5l-4.5 -4.5zM554.3 29.1l4.5 4.5l-4.5 4.5l-4.5 -4.5zM551.0 29.5l4.5 4.5l-4.5 4.5l-4.5 -4.5zM547.7 29.8l4.5 4.5l-4.5 4.5l-4.5 -4.5zM544.4 30.2l4.5 4.5l-4.5 4.5l-4.5 -4.5zM541.1 30.6l4.5 4.5l-4.5 4.5l-4.5 -4.5zM537.9 31.0l4.5 4.5l-4.5 4.5l-4.5 -4.5zM534.6 31.4l4.5 4.5l-4.5 4.5l-4.5 -4.5zM531.3 31.9l4.5 4.5l-4.5 4.5l-4.5 -4.5zM528.1 32.5l4.5 4.5l-4.5 4.5l-4.5 -4.5zM524.8 33.0l4.5 4.5l-4.5 4.5l-4.5 -4.5zM521.5 33.6l4.5 4.5l-4.5 4.5l-4.5 -4.5zM518.3 34.2l4.5 4.5l-4.5 4.5l-4.5 -4.5zM515.0 34.8l4.5 4.5l-4.5 4.5l-4.5 -4.5zM511.8 35.4l4.5 4.5l-4.5 4.5l-4.5 -4.5zM508.5 36.1l4.5 4.5l-4.5 4.5l-4.5 -4.5zM505.3 36.7l4.5 4.5l-4.5 4.5l-4.5 -4.5zM502.0 37.3l4.5 4.5l-4.5 4.5l-4.5 -4.5zM498.8 37.9l4.5 4.5l-4.5 4.5l-4.5 -4.5zM495.5 38.5l4.5 4.5l-4.5 4.5l-4.5 -4.5zM492.3 39.2l4.5 4.5l-4.5 4.5l-4.5 -4.5zM489.0 39.9l4.5 4.5l-4.5 4.5l-4.5 -4.5zM485.8 40.6l4.5 4.5l-4.5 4.5l-4.5 -4.5zM482.6 41.4l4.5 4.5l-4.5 4.5l-4.5 -4.5zM479.4 42.2l4.5 4.5l-4.5 4.5l-4.5 -4.5zM476.2 43.2l4.5 4.5l-4.5 4.5l-4.5 -4.5zM473.0 44.2l4.5 4.5l-4.5 4.5l-4.5 -4.5zM469.9 45.3l4.5 4.5l-4.5 4.5l-4.5 -4.5zM466.7 46.5l4.5 4.5l-4.5 4.5l-4.5 -4.5zM463.6 47.7l4.5 4.5l-4.5 4.5l-4.5 -4.5zM460.5 49.0l4.5 4.5l-4.5 4.5l-4.5 -4.5zM457.5 50.3l4.5 4.5l-4.5 4.5l-4.5 -4.5zM454.4 51.6l4.5 4.5l-4.5 4.5l-4.5 -4.5zM451.4 53.0l4.5 4.5l-4.5 4.5l-4.5 -4.5zM448.3 54.5l4.5 4.5l-4.5 4.5l-4.5 -4.5zM445.3 56.0l4.5 4.5l-4.5 4.5l-4.5 -4.5zM442.3 57.5l4.5 4.5l-4.5 4.5l-4.5 -4.5zM439.4 59.2l4.5 4.5l-4.5 4.5l-4.5 -4.5zM436.5 60.9l4.5 4.5l-4.5 4.5l-4.5 -4.5zM433.6 62.6l4.5 4.5l-4.5 4.5l-4.5 -4.5zM430.7 64.4l4.5 4.5l-4.5 4.5l-4.5 -4.5zM427.9 66.2l4.5 4.5l-4.5 4.5l-4.5 -4.5zM425.0 68.1l4.5 4.5l-4.5 4.5l-4.5 -4.5zM422.2 69.9l4.5 4.5l-4.5 4.5l-4.5 -4.5zM419.3 71.8l4.5 4.5l-4.5 4.5l-4.5 -4.5zM416.5 73.6l4.5 4.5l-4.5 4.5l-4.5 -4.5zM413.7 75.5l4.5 4.5l-4.5 4.5l-4.5 -4.5zM410.9 77.5l4.5 4.5l-4.5 4.5l-4.5 -4.5zM408.2 79.5l4.5 4.5l-4.5 4.5l-4.5 -4.5zM405.4 81.5l4.5 4.5l-4.5 4.5l-4.5 -4.5zM402.8 83.6l4.5 4.5l-4.5 4.5l-4.5 -4.5zM400.1 85.8l4.5 4.5l-4.5 4.5l-4.5 -4.5zM397.6 88.1l4.5 4.5l-4.5 4.5l-4.5 -4.5zM395.1 90.5l4.5 4.5l-4.5 4.5l-4.5 -4.5zM392.6 93.0l4.5 4.5l-4.5 4.5l-4.5 -4.5zM390.3 95.5l4.5 4.5l-4.5 4.5l-4.5 -4.5zM388.0 98.1l4.5 4.5l-4.5 4.5l-4.5 -4.5zM385.7 100.7l4.5 4.5l-4.5 4.5l-4.5 -4.5zM383.4 103.3l4.5 4.5l-4.5 4.5l-4.5 -4.5zM381.3 106.1l4.5 4.5l-4.5 4.5l-4.5 -4.5zM379.3 109.0l4.5 4.5l-4.5 4.5l-4.5 -4.5zM377.5 112.0l4.5 4.5l-4.5 4.5l-4.5 -4.5zM375.9 115.2l4.5 4.5l-4.5 4.5l-4.5 -4.5zM374.5 118.5l4.5 4.5l-4.5 4.5l-4.5 -4.5zM373.4 121.9l4.5 4.5l-4.5 4.5l-4.5 -4.5zM372.4 125.4l4.5 4.5l-4.5 4.5l-4.5 -4.5zM371.5 128.9l4.5 4.5l-4.5 4.5l-4.5 -4.5zM370.7 132.4l4.5 4.5l-4.5 4.5l-4.5 -4.5zM370.0 136.0l4.5 4.5l-4.5 4.5l-4.5 -4.5zM369.5 139.5l4.5 4.5l-4.5 4.5l-4.5 -4.5zM369.1 143.1l4.5 4.5l-4.5 4.5l-4.5 -4.5zM368.7 146.7l4.5 4.5l-4.5 4.5l-4.5 -4.5zM368.3 150.4l4.5 4.5l-4.5 4.5l-4.5 -4.5zM367.9 154.0l4.5 4.5l-4.5 4.5l-4.5 -4.5zM367.5 157.6l4.5 4.5l-4.5 4.5l-4.5 -4.5zM367.1 161.2l4.5 4.5l-4.5 4.5l-4.5 -4.5zM366.8 164.8l4.5 4.5l-4.5 4.5l-4.5 -4.5zM366.6 168.4l4.5 4.5l-4.5 4.5l-4.5 -4.5zM366.3 172.0l4.5 4.5l-4.5 4.5l-4.5 -4.5zM366.1 175.6l4.5 4.5l-4.5 4.5l-4.5 -4.5zM365.9 179.3l4.5 4.5l-4.5 4.5l-4.5 -4.5zM365.7 182.9l4.5 4.5l-4.5 4.5l-4.5 -4.5zM365.6 186.5l4.5 4.5l-4.5 4.5l-4.5 -4.5zM365.4 190.1l4.5 4.5l-4.5 4.5l-4.5 -4.5zM365.3 193.8l4.5 4.5l-4.5 4.5l-4.5 -4.5zM365.2 197.4l4.5 4.5l-4.5 4.5l-4.5 -4.5zM365.1 201.0l4.5 4.5l-4.5 4.5l-4.5 -4.5zM365.0 204.7l4.5 4.5l-4.5 4.5l-4.5 -4.5zM364.8 208.3l4.5 4.5l-4.5 4.5l-4.5 -4.5zM364.6 211.9l4.5 4.5l-4.5 4.5l-4.5 -4.5zM364.5 215.5l4.5 4.5l-4.5 4.5l-4.5 -4.5zM364.4 219.2l4.5 4.5l-4.5 4.5l-4.5 -4.5zM364.3 222.8l4.5 4.5l-4.5 4.5l-4.5 -4.5zM364.2 226.4l4.5 4.5l-4.5 4.5l-4.5 -4.5zM364.1 230.0l4.5 4.5l-4.5 4.5l-4.5 -4.5zM364.0 233.7l4.5 4.5l-4.5 4.5l-4.5 -4.5zM363.8 237.3l4.5 4.5l-4.5 4.5l-4.5 -4.5zM363.7 240.9l4.5 4.5l-4.5 4.5l-4.5 -4.5zM363.6 244.6l4.5 4.5l-4.5 4.5l-4.5 -4.5zM363.5 248.2l4.5 4.5l-4.5 4.5l-4.5 -4.5zM363.3 251.8l4.5 4.5l-4.5 4.5l-4.5 -4.5zM363.0 255.4l4.5 4.5l-4.5 4.5l-4.5 -4.5zM362.8 259.0l4.5 4.5l-4.5 4.5l-4.5 -4.5zM362.6 262.7l4.5 4.5l-4.5 4.5l-4.5 -4.5zM362.3 266.3l4.5 4.5l-4.5 4.5l-4.5 -4.5zM362.1 269.9l4.5 4.5l-4.5 4.5l-4.5 -4.5zM361.8 273.5l4.5 4.5l-4.5 4.5l-4.5 -4.5zM361.5 277.1l4.5 4.5l-4.5 4.5l-4.5 -4.5zM361.2 280.8l4.5 4.5l-4.5 4.5l-4.5 -4.5zM360.9 284.4l4.5 4.5l-4.5 4.5l-4.5 -4.5zM360.5 288.0l4.5 4.5l-4.5 4.5l-4.5 -4.5zM360.1 291.6l4.5 4.5l-4.5 4.5l-4.5 -4.5zM359.7 295.2l4.5 4.5l-4.5 4.5l-4.5 -4.5zM359.3 298.8l4.5 4.5l-4.5 4.5l-4.5 -4.5zM358.9 302.4l4.5 4.5l-4.5 4.5l-4.5 -4.5zM358.4 306.0l4.5 4.5l-4.5 4.5l-4.5 -4.5zM357.8 309.5l4.5 4.5l-4.5 4.5l-4.5 -4.5zM357.2 313.1l4.5 4.5l-4.5 4.5l-4.5 -4.5zM356.6 316.7l4.5 4.5l-4.5 4.5l-4.5 -4.5zM355.9 320.2l4.5 4.5l-4.5 4.5l-4.5 -4.5zM355.1 323.8l4.5 4.5l-4.5 4.5l-4.5 -4.5zM354.3 327.3l4.5 4.5l-4.5 4.5l-4.5 -4.5zM353.4 330.8l4.5 4.5l-4.5 4.5l-4.5 -4.5zM352.4 334.2l4.5 4.5l-4.5 4.5l-4.5 -4.5zM351.2 337.6l4.5 4.5l-4.5 4.5l-4.5 -4.5zM349.9 341.0l4.5 4.5l-4.5 4.5l-4.5 -4.5zM348.5 344.2l4.5 4.5l-4.5 4.5l-4.5 -4.5zM347.0 347.5l4.5 4.5l-4.5 4.5l-4.5 -4.5zM345.3 350.6l4.5 4.5l-4.5 4.5l-4.5 -4.5zM343.6 353.6l4.5 4.5l-4.5 4.5l-4.5 -4.5zM341.7 356.6l4.5 4.5l-4.5 4.5l-4.5 -4.5zM339.7 359.5l4.5 4.5l-4.5 4.5l-4.5 -4.5zM337.7 362.4l4.5 4.5l-4.5 4.5l-4.5 -4.5zM335.6 365.2l4.5 4.5l-4.5 4.5l-4.5 -4.5zM333.4 367.9l4.5 4.5l-4.5 4.5l-4.5 -4.5zM331.0 370.5l4.5 4.5l-4.5 4.5l-4.5 -4.5zM328.6 372.9l4.5 4.5l-4.5 4.5l-4.5 -4.5zM326.0 375.2l4.5 4.5l-4.5 4.5l-4.5 -4.5zM323.3 377.3l4.5 4.5l-4.5 4.5l-4.5 -4.5zM320.5 379.2l4.5 4.5l-4.5 4.5l-4.5 -4.5zM317.7 381.0l4.5 4.5l-4.5 4.5l-4.5 -4.5zM314.8 382.8l4.5 4.5l-4.5 4.5l-4.5 -4.5zM311.9 384.5l4.5 4.5l-4.5 4.5l-4.5 -4.5zM309.0 386.2l4.5 4.5l-4.5 4.5l-4.5 -4.5zM306.1 388.0l4.5 4.5l-4.5 4.5l-4.5 -4.5zM303.2 389.8l4.5 4.5l-4.5 4.5l-4.5 -4.5zM300.4 391.6l4.5 4.5l-4.5 4.5l-4.5 -4.5zM297.5 393.4l4.5 4.5l-4.5 4.5l-4.5 -4.5zM294.7 395.2l4.5 4.5l-4.5 4.5l-4.5 -4.5zM291.8 397.0l4.5 4.5l-4.5 4.5l-4.5 -4.5zM288.9 398.7l4.5 4.5l-4.5 4.5l-4.5 -4.5zM285.9 400.4l4.5 4.5l-4.5 4.5l-4.5 -4.5zM283.0 402.0l4.5 4.5l-4.5 4.5l-4.5 -4.5zM280.0 403.5l4.5 4.5l-4.5 4.5l-4.5 -4.5zM276.9 404.9l4.5 4.5l-4.5 4.5l-4.5 -4.5zM273.9 406.3l4.5 4.5l-4.5 4.5l-4.5 -4.5zM270.8 407.7l4.5 4.5l-4.5 4.5l-4.5 -4.5zM267.8 409.0l4.5 4.5l-4.5 4.5l-4.5 -4.5zM264.7 410.3l4.5 4.5l-4.5 4.5l-4.5 -4.5zM261.6 411.5l4.5 4.5l-4.5 4.5l-4.5 -4.5zM258.4 412.7l4.5 4.5l-4.5 4.5l-4.5 -4.5zM255.3 413.8l4.5 4.5l-4.5 4.5l-4.5 -4.5zM252.1 414.8l4.5 4.5l-4.5 4.5l-4.5 -4.5zM248.9 415.7l4.5 4.5l-4.5 4.5l-4.5 -4.5zM245.7 416.6l4.5 4.5l-4.5 4.5l-4.5 -4.5zM242.5 417.4l4.5 4.5l-4.5 4.5l-4.5 -4.5zM239.3 418.1l4.5 4.5l-4.5 4.5l-4.5 -4.5zM236.0 418.8l4.5 4.5l-4.5 4.5l-4.5 -4.5zM232.8 419.5l4.5 4.5l-4.5 4.5l-4.5 -4.5zM229.5 420.1l4.5 4.5l-4.5 4.5l-4.5 -4.5zM226.3 420.7l4.5 4.5l-4.5 4.5l-4.5 -4.5zM223.0 421.3l4.5 4.5l-4.5 4.5l-4.5 -4.5zM219.8 421.9l4.5 4.5l-4.5 4.5l-4.5 -4.5zM216.5 422.5l4.5 4.5l-4.5 4.5l-4.5 -4.5zM213.3 423.2l4.5 4.5l-4.5 4.5l-4.5 -4.5zM210.0 423.8l4.5 4.5l-4.5 4.5l-4.5 -4.5zM206.8 424.4l4.5 4.5l-4.5 4.5l-4.5 -4.5zM203.5 425.0l4.5 4.5l-4.5 4.5l-4.5 -4.5zM200.3 425.5l4.5 4.5l-4.5 4.5l-4.5 -4.5zM197.0 426.0l4.5 4.5l-4.5 4.5l-4.5 -4.5zM193.7 426.5l4.5 4.5l-4.5 4.5l-4.5 -4.5zM190.5 427.0l4.5 4.5l-4.5 4.5l-4.5 -4.5zM187.2 427.4l4.5 4.5l-4.5 4.5l-4.5 -4.5zM183.9 427.8l4.5 4.5l-4.5 4.5l-4.5 -4.5zM180.6 428.2l4.5 4.5l-4.5 4.5l-4.5 -4.5zM177.3 428.5l4.5 4.5l-4.5 4.5l-4.5 -4.5zM174.0 428.9l4.5 4.5l-4.5 4.5l-4.5 -4.5zM170.8 429.2l4.5 4.5l-4.5 4.5l-4.5 -4.5zM167.5 429.5l4.5 4.5l-4.5 4.5l-4.5 -4.5zM164.2 429.8l4.5 4.5l-4.5 4.5l-4.5 -4.5zM160.9 430.1l4.5 4.5l-4.5 4.5l-4.5 -4.5zM157.6 430.4l4.5 4.5l-4.5 4.5l-4.5 -4.5zM154.3 430.7l4.5 4.5l-4.5 4.5l-4.5 -4.5zM151.0 431.0l4.5 4.5l-4.5 4.5l-4.5 -4.5zM147.7 431.2l4.5 4.5l-4.5 4.5l-4.5 -4.5zM144.4 431.5l4.5 4.5l-4.5 4.5l-4.5 -4.5zM141.1 431.7l4.5 4.5l-4.5 4.5l-4.5 -4.5zM137.9 432.0l4.5 4.5l-4.5 4.5l-4.5 -4.5zM134.6 432.2l4.5 4.5l-4.5 4.5l-4.5 -4.5zM131.3 432.4l4.5 4.5l-4.5 4.5l-4.5 -4.5zM128.0 432.6l4.5 4.5l-4.5 4.5l-4.5 -4.5zM124.7 432.8l4.5 4.5l-4.5 4.5l-4.5 -4.5zM121.4 433.0l4.5 4.5l-4.5 4.5l-4.5 -4.5zM118.1 433.2l4.5 4.5l-4.5 4.5l-4.5 -4.5zM114.8 433.4l4.5 4.5l-4.5 4.5l-4.5 -4.5zM111.5 433.6l4.5 4.5l-4.5 4.5l-4.5 -4.5zM108.2 433.8l4.5 4.5l-4.5 4.5l-4.5 -4.5zM104.9 433.9l4.5 4.5l-4.5 4.5l-4.5 -4.5zM101.6 434.1l4.5 4.5l-4.5 4.5l-4.5 -4.5zM98.3 434.2l4.5 4.5l-4.5 4.5l-4.5 -4.5zM95.0 434.4l4.5 4.5l-4.5 4.5l-4.5 -4.5zM91.7 434.5l4.5 4.5l-4.5 4.5l-4.5 -4.5zM88.4 434.7l4.5 4.5l-4.5 4.5l-4.5 -4.5zM85.1 434.8l4.5 4.5l-4.5 4.5l-4.5 -4.5zM84.4 435.0l4.5 4.5l-4.5 4.5l-4.5 -4.5zM87.7 434.9l4.5 4.5l-4.5 4.5l-4.5 -4.5zM91.0 434.8l4.5 4.5l-4.5 4.5l-4.5 -4.5zM94.3 434.6l4.5 4.5l-4.5 4.5l-4.5 -4.5zM97.6 434.5l4.5 4.5l-4.5 4.5l-4.5 -4.5zM100.9 434.3l4.5 4.5l-4.5 4.5l-4.5 -4.5zM104.2 434.2l4.5 4.5l-4.5 4.5l-4.5 -4.5zM107.5 434.0l4.5 4.5l-4.5 4.5l-4.5 -4.5zM110.8 433.9l4.5 4.5l-4.5 4.5l-4.5 -4.5zM114.1 433.7l4.5 4.5l-4.5 4.5l-4.5 -4.5zM117.4 433.5l4.5 4.5l-4.5 4.5l-4.5 -4.5zM120.7 433.4l4.5 4.5l-4.5 4.5l-4.5 -4.5zM124.0 433.2l4.5 4.5l-4.5 4.5l-4.5 -4.5zM127.3 433.0l4.5 4.5l-4.5 4.5l-4.5 -4.5zM130.6 432.8l4.5 4.5l-4.5 4.5l-4.5 -4.5zM133.9 432.6l4.5 4.5l-4.5 4.5l-4.5 -4.5zM137.2 432.3l4.5 4.5l-4.5 4.5l-4.5 -4.5zM140.5 432.1l4.5 4.5l-4.5 4.5l-4.5 -4.5zM143.8 431.9l4.5 4.5l-4.5 4.5l-4.5 -4.5zM147.0 431.7l4.5 4.5l-4.5 4.5l-4.5 -4.5zM150.3 431.4l4.5 4.5l-4.5 4.5l-4.5 -4.5zM153.6 431.2l4.5 4.5l-4.5 4.5l-4.5 -4.5zM156.9 430.9l4.5 4.5l-4.5 4.5l-4.5 -4.5zM160.2 430.6l4.5 4.5l-4.5 4.5l-4.5 -4.5zM163.5 430.3l4.5 4.5l-4.5 4.5l-4.5 -4.5zM166.8 430.0l4.5 4.5l-4.5 4.5l-4.5 -4.5zM170.1 429.7l4.5 4.5l-4.5 4.5l-4.5 -4.5zM173.4 429.4l4.5 4.5l-4.5 4.5l-4.5 -4.5zM176.7 429.1l4.5 4.5l-4.5 4.5l-4.5 -4.5zM179.9 428.8l4.5 4.5l-4.5 4.5l-4.5 -4.5zM183.2 428.4l4.5 4.5l-4.5 4.5l-4.5 -4.5zM186.5 428.0l4.5 4.5l-4.5 4.5l-4.5 -4.5zM189.8 427.7l4.5 4.5l-4.5 4.5l-4.5 -4.5zM193.1 427.3l4.5 4.5l-4.5 4.5l-4.5 -4.5zM196.3 426.9l4.5 4.5l-4.5 4.5l-4.5 -4.5zM199.6 426.4l4.5 4.5l-4.5 4.5l-4.5 -4.5zM202.9 425.9l4.5 4.5l-4.5 4.5l-4.5 -4.5zM206.1 425.3l4.5 4.5l-4.5 4.5l-4.5 -4.5zM209.4 424.8l4.5 4.5l-4.5 4.5l-4.5 -4.5zM212.7 424.2l4.5 4.5l-4.5 4.5l-4.5 -4.5zM215.9 423.6l4.5 4.5l-4.5 4.5l-4.5 -4.5zM219.2 422.9l4.5 4.5l-4.5 4.5l-4.5 -4.5zM222.4 422.3l4.5 4.5l-4.5 4.5l-4.5 -4.5zM225.7 421.7l4.5 4.5l-4.5 4.5l-4.5 -4.5zM228.9 421.1l4.5 4.5l-4.5 4.5l-4.5 -4.5zM232.2 420.5l4.5 4.5l-4.5 4.5l-4.5 -4.5zM235.4 419.9l4.5 4.5l-4.5 4.5l-4.5 -4.5zM238.7 419.2l4.5 4.5l-4.5 4.5l-4.5 -4.5zM241.9 418.6l4.5 4.5l-4.5 4.5l-4.5 -4.5zM245.2 417.9l4.5 4.5l-4.5 4.5l-4.5 -4.5zM248.4 417.1l4.5 4.5l-4.5 4.5l-4.5 -4.5zM251.6 416.3l4.5 4.5l-4.5 4.5l-4.5 -4.5zM254.8 415.4l4.5 4.5l-4.5 4.5l-4.5 -4.5zM258.0 414.5l4.5 4.5l-4.5 4.5l-4.5 -4.5zM261.1 413.4l4.5 4.5l-4.5 4.5l-4.5 -4.5zM264.3 412.3l4.5 4.5l-4.5 4.5l-4.5 -4.5zM267.4 411.1l4.5 4.5l-4.5 4.5l-4.5 -4.5zM270.5 409.9l4.5 4.5l-4.5 4.5l-4.5 -4.5zM273.6 408.6l4.5 4.5l-4.5 4.5l-4.5 -4.5zM276.7 407.2l4.5 4.5l-4.5 4.5l-4.5 -4.5zM279.7 405.9l4.5 4.5l-4.5 4.5l-4.5 -4.5zM282.8 404.4l4.5 4.5l-4.5 4.5l-4.5 -4.5zM285.8 403.0l4.5 4.5l-4.5 4.5l-4.5 -4.5zM288.8 401.5l4.5 4.5l-4.5 4.5l-4.5 -4.5zM291.7 399.9l4.5 4.5l-4.5 4.5l-4.5 -4.5zM294.7 398.2l4.5 4.5l-4.5 4.5l-4.5 -4.5zM297.6 396.5l4.5 4.5l-4.5 4.5l-4.5 -4.5zM300.5 394.7l4.5 4.5l-4.5 4.5l-4.5 -4.5zM303.3 392.9l4.5 4.5l-4.5 4.5l-4.5 -4.5zM306.2 391.1l4.5 4.5l-4.5 4.5l-4.5 -4.5zM309.0 389.3l4.5 4.5l-4.5 4.5l-4.5 -4.5zM311.9 387.4l4.5 4.5l-4.5 4.5l-4.5 -4.5zM314.7 385.6l4.5 4.5l-4.5 4.5l-4.5 -4.5zM317.5 383.7l4.5 4.5l-4.5 4.5l-4.5 -4.5zM320.3 381.8l4.5 4.5l-4.5 4.5l-4.5 -4.5zM323.1 379.8l4.5 4.5l-4.5 4.5l-4.5 -4.5zM325.9 377.8l4.5 4.5l-4.5 4.5l-4.5 -4.5zM328.6 375.7l4.5 4.5l-4.5 4.5l-4.5 -4.5zM331.2 373.6l4.5 4.5l-4.5 4.5l-4.5 -4.5zM333.8 371.3l4.5 4.5l-4.5 4.5l-4.5 -4.5zM336.3 369.0l4.5 4.5l-4.5 4.5l-4.5 -4.5zM338.8 366.6l4.5 4.5l-4.5 4.5l-4.5 -4.5zM341.2 364.1l4.5 4.5l-4.5 4.5l-4.5 -4.5zM343.6 361.6l4.5 4.5l-4.5 4.5l-4.5 -4.5zM345.8 358.9l4.5 4.5l-4.5 4.5l-4.5 -4.5zM348.1 356.3l4.5 4.5l-4.5 4.5l-4.5 -4.5zM350.4 353.7l4.5 4.5l-4.5 4.5l-4.5 -4.5zM352.5 350.9l4.5 4.5l-4.5 4.5l-4.5 -4.5zM354.4 347.9l4.5 4.5l-4.5 4.5l-4.5 -4.5zM356.1 344.8l4.5 4.5l-4.5 4.5l-4.5 -4.5zM357.6 341.6l4.5 4.5l-4.5 4.5l-4.5 -4.5zM358.9 338.2l4.5 4.5l-4.5 4.5l-4.5 -4.5zM360.0 334.8l4.5 4.5l-4.5 4.5l-4.5 -4.5zM360.9 331.3l4.5 4.5l-4.5 4.5l-4.5 -4.5zM361.8 327.8l4.5 4.5l-4.5 4.5l-4.5 -4.5zM362.5 324.3l4.5 4.5l-4.5 4.5l-4.5 -4.5zM363.2 320.7l4.5 4.5l-4.5 4.5l-4.5 -4.5zM363.7 317.1l4.5 4.5l-4.5 4.5l-4.5 -4.5zM364.1 313.5l4.5 4.5l-4.5 4.5l-4.5 -4.5zM364.5 309.9l4.5 4.5l-4.5 4.5l-4.5 -4.5zM364.9 306.3l4.5 4.5l-4.5 4.5l-4.5 -4.5zM365.2 302.7l4.5 4.5l-4.5 4.5l-4.5 -4.5zM365.6 299.1l4.5 4.5l-4.5 4.5l-4.5 -4.5zM366.0 295.5l4.5 4.5l-4.5 4.5l-4.5 -4.5zM366.3 291.9l4.5 4.5l-4.5 4.5l-4.5 -4.5zM366.5 288.3l4.5 4.5l-4.5 4.5l-4.5 -4.5zM366.8 284.6l4.5 4.5l-4.5 4.5l-4.5 -4.5zM367.0 281.0l4.5 4.5l-4.5 4.5l-4.5 -4.5zM367.2 277.4l4.5 4.5l-4.5 4.5l-4.5 -4.5zM367.3 273.8l4.5 4.5l-4.5 4.5l-4.5 -4.5zM367.5 270.2l4.5 4.5l-4.5 4.5l-4.5 -4.5zM367.6 266.5l4.5 4.5l-4.5 4.5l-4.5 -4.5zM367.7 262.9l4.5 4.5l-4.5 4.5l-4.5 -4.5zM367.8 259.3l4.5 4.5l-4.5 4.5l-4.5 -4.5zM368.0 255.6l4.5 4.5l-4.5 4.5l-4.5 -4.5zM368.1 252.0l4.5 4.5l-4.5 4.5l-4.5 -4.5zM368.3 248.4l4.5 4.5l-4.5 4.5l-4.5 -4.5zM368.4 244.8l4.5 4.5l-4.5 4.5l-4.5 -4.5zM368.5 241.1l4.5 4.5l-4.5 4.5l-4.5 -4.5zM368.6 237.5l4.5 4.5l-4.5 4.5l-4.5 -4.5zM368.7 233.9l4.5 4.5l-4.5 4.5l-4.5 -4.5zM368.9 230.2l4.5 4.5l-4.5 4.5l-4.5 -4.5zM369.0 226.6l4.5 4.5l-4.5 4.5l-4.5 -4.5zM369.1 223.0l4.5 4.5l-4.5 4.5l-4.5 -4.5zM369.2 219.4l4.5 4.5l-4.5 4.5l-4.5 -4.5zM369.3 215.7l4.5 4.5l-4.5 4.5l-4.5 -4.5zM369.4 212.1l4.5 4.5l-4.5 4.5l-4.5 -4.5zM369.6 208.5l4.5 4.5l-4.5 4.5l-4.5 -4.5zM369.8 204.9l4.5 4.5l-4.5 4.5l-4.5 -4.5zM370.0 201.2l4.5 4.5l-4.5 4.5l-4.5 -4.5zM370.3 197.6l4.5 4.5l-4.5 4.5l-4.5 -4.5zM370.5 194.0l4.5 4.5l-4.5 4.5l-4.5 -4.5zM370.8 190.4l4.5 4.5l-4.5 4.5l-4.5 -4.5zM371.0 186.8l4.5 4.5l-4.5 4.5l-4.5 -4.5zM371.3 183.1l4.5 4.5l-4.5 4.5l-4.5 -4.5zM371.6 179.5l4.5 4.5l-4.5 4.5l-4.5 -4.5zM371.9 175.9l4.5 4.5l-4.5 4.5l-4.5 -4.5zM372.3 172.3l4.5 4.5l-4.5 4.5l-4.5 -4.5zM372.6 168.7l4.5 4.5l-4.5 4.5l-4.5 -4.5zM373.0 165.1l4.5 4.5l-4.5 4.5l-4.5 -4.5zM373.4 161.5l4.5 4.5l-4.5 4.5l-4.5 -4.5zM373.8 157.9l4.5 4.5l-4.5 4.5l-4.5 -4.5zM374.3 154.3l4.5 4.5l-4.5 4.5l-4.5 -4.5zM374.8 150.7l4.5 4.5l-4.5 4.5l-4.5 -4.5zM375.4 147.1l4.5 4.5l-4.5 4.5l-4.5 -4.5zM376.0 143.6l4.5 4.5l-4.5 4.5l-4.5 -4.5zM376.7 140.0l4.5 4.5l-4.5 4.5l-4.5 -4.5zM377.4 136.5l4.5 4.5l-4.5 4.5l-4.5 -4.5zM378.1 132.9l4.5 4.5l-4.5 4.5l-4.5 -4.5zM379.0 129.4l4.5 4.5l-4.5 4.5l-4.5 -4.5zM379.9 125.9l4.5 4.5l-4.5 4.5l-4.5 -4.5zM381.0 122.5l4.5 4.5l-4.5 4.5l-4.5 -4.5zM382.2 119.2l4.5 4.5l-4.5 4.5l-4.5 -4.5zM383.6 115.8l4.5 4.5l-4.5 4.5l-4.5 -4.5zM385.0 112.6l4.5 4.5l-4.5 4.5l-4.5 -4.5zM386.6 109.4l4.5 4.5l-4.5 4.5l-4.5 -4.5zM388.3 106.3l4.5 4.5l-4.5 4.5l-4.5 -4.5zM390.1 103.3l4.5 4.5l-4.5 4.5l-4.5 -4.5zM392.0 100.3l4.5 4.5l-4.5 4.5l-4.5 -4.5zM394.0 97.4l4.5 4.5l-4.5 4.5l-4.5 -4.5zM396.1 94.6l4.5 4.5l-4.5 4.5l-4.5 -4.5zM398.2 91.8l4.5 4.5l-4.5 4.5l-4.5 -4.5zM400.5 89.1l4.5 4.5l-4.5 4.5l-4.5 -4.5zM402.8 86.6l4.5 4.5l-4.5 4.5l-4.5 -4.5zM405.3 84.2l4.5 4.5l-4.5 4.5l-4.5 -4.5zM408.0 82.0l4.5 4.5l-4.5 4.5l-4.5 -4.5zM410.7 80.0l4.5 4.5l-4.5 4.5l-4.5 -4.5zM413.5 78.1l4.5 4.5l-4.5 4.5l-4.5 -4.5zM416.4 76.3l4.5 4.5l-4.5 4.5l-4.5 -4.5zM419.3 74.6l4.5 4.5l-4.5 4.5l-4.5 -4.5zM422.2 72.9l4.5 4.5l-4.5 4.5l-4.5 -4.5zM425.1 71.1l4.5 4.5l-4.5 4.5l-4.5 -4.5zM428.0 69.3l4.5 4.5l-4.5 4.5l-4.5 -4.5zM430.8 67.5l4.5 4.5l-4.5 4.5l-4.5 -4.5zM433.7 65.7l4.5 4.5l-4.5 4.5l-4.5 -4.5zM436.5 63.9l4.5 4.5l-4.5 4.5l-4.5 -4.5zM439.4 62.1l4.5 4.5l-4.5 4.5l-4.5 -4.5zM442.3 60.4l4.5 4.5l-4.5 4.5l-4.5 -4.5zM445.2 58.7l4.5 4.5l-4.5 4.5l-4.5 -4.5zM448.1 57.0l4.5 4.5l-4.5 4.5l-4.5 -4.5zM451.1 55.4l4.5 4.5l-4.5 4.5l-4.5 -4.5zM454.1 54.0l4.5 4.5l-4.5 4.5l-4.5 -4.5zM457.2 52.6l4.5 4.5l-4.5 4.5l-4.5 -4.5zM460.2 51.2l4.5 4.5l-4.5 4.5l-4.5 -4.5zM463.3 49.8l4.5 4.5l-4.5 4.5l-4.5 -4.5zM466.4 48.5l4.5 4.5l-4.5 4.5l-4.5 -4.5zM469.5 47.3l4.5 4.5l-4.5 4.5l-4.5 -4.5zM472.6 46.1l4.5 4.5l-4.5 4.5l-4.5 -4.5zM475.7 44.9l4.5 4.5l-4.5 4.5l-4.5 -4.5zM478.9 43.8l4.5 4.5l-4.5 4.5l-4.5 -4.5zM482.0 42.9l4.5 4.5l-4.5 4.5l-4.5 -4.5zM485.2 41.9l4.5 4.5l-4.5 4.5l-4.5 -4.5zM488.4 41.1l4.5 4.5l-4.5 4.5l-4.5 -4.5zM491.7 40.3l4.5 4.5l-4.5 4.5l-4.5 -4.5zM494.9 39.6l4.5 4.5l-4.5 4.5l-4.5 -4.5zM498.1 39.0l4.5 4.5l-4.5 4.5l-4.5 -4.5zM501.4 38.3l4.5 4.5l-4.5 4.5l-4.5 -4.5zM504.6 37.7l4.5 4.5l-4.5 4.5l-4.5 -4.5zM507.9 37.1l4.5 4.5l-4.5 4.5l-4.5 -4.5zM511.2 36.5l4.5 4.5l-4.5 4.5l-4.5 -4.5zM514.4 35.9l4.5 4.5l-4.5 4.5l-4.5 -4.5zM517.7 35.2l4.5 4.5l-4.5 4.5l-4.5 -4.5zM520.9 34.6l4.5 4.5l-4.5 4.5l-4.5 -4.5zM524.2 34.0l4.5 4.5l-4.5 4.5l-4.5 -4.5zM527.4 33.4l4.5 4.5l-4.5 4.5l-4.5 -4.5zM530.7 32.8l4.5 4.5l-4.5 4.5l-4.5 -4.5zM533.9 32.3l4.5 4.5l-4.5 4.5l-4.5 -4.5zM537.2 31.8l4.5 4.5l-4.5 4.5l-4.5 -4.5zM540.5 31.3l4.5 4.5l-4.5 4.5l-4.5 -4.5zM543.8 30.8l4.5 4.5l-4.5 4.5l-4.5 -4.5zM547.0 30.5l4.5 4.5l-4.5 4.5l-4.5 -4.5zM550.3 30.1l4.5 4.5l-4.5 4.5l-4.5 -4.5zM553.6 29.7l4.5 4.5l-4.5 4.5l-4.5 -4.5zM556.9 29.3l4.5 4.5l-4.5 4.5l-4.5 -4.5zM560.2 29.0l4.5 4.5l-4.5 4.5l-4.5 -4.5zM563.5 28.7l4.5 4.5l-4.5 4.5l-4.5 -4.5zM566.7 28.4l4.5 4.5l-4.5 4.5l-4.5 -4.5zM570.0 28.0l4.5 4.5l-4.5 4.5l-4.5 -4.5zM573.3 27.8l4.5 4.5l-4.5 4.5l-4.5 -4.5zM576.6 27.5l4.5 4.5l-4.5 4.5l-4.5 -4.5zM579.9 27.2l4.5 4.5l-4.5 4.5l-4.5 -4.5zM583.2 26.9l4.5 4.5l-4.5 4.5l-4.5 -4.5zM586.5 26.7l4.5 4.5l-4.5 4.5l-4.5 -4.5zM589.8 26.4l4.5 4.5l-4.5 4.5l-4.5 -4.5zM593.1 26.2l4.5 4.5l-4.5 4.5l-4.5 -4.5zM596.4 25.9l4.5 4.5l-4.5 4.5l-4.5 -4.5zM599.7 25.7l4.5 4.5l-4.5 4.5l-4.5 -4.5zM602.9 25.5l4.5 4.5l-4.5 4.5l-4.5 -4.5zM606.2 25.3l4.5 4.5l-4.5 4.5l-4.5 -4.5zM609.5 25.1l4.5 4.5l-4.5 4.5l-4.5 -4.5zM612.8 24.9l4.5 4.5l-4.5 4.5l-4.5 -4.5zM616.1 24.7l4.5 4.5l-4.5 4.5l-4.5 -4.5zM619.4 24.5l4.5 4.5l-4.5 4.5l-4.5 -4.5zM622.7 24.3l4.5 4.5l-4.5 4.5l-4.5 -4.5zM626.0 24.2l4.5 4.5l-4.5 4.5l-4.5 -4.5zM629.3 24.0l4.5 4.5l-4.5 4.5l-4.5 -4.5zM632.6 23.9l4.5 4.5l-4.5 4.5l-4.5 -4.5zM635.9 23.7l4.5 4.5l-4.5 4.5l-4.5 -4.5zM639.2 23.6l4.5 4.5l-4.5 4.5l-4.5 -4.5zM642.5 23.4l4.5 4.5l-4.5 4.5l-4.5 -4.5zM645.8 23.3l4.5 4.5l-4.5 4.5l-4.5 -4.5zM649.1 23.1l4.5 4.5l-4.5 4.5l-4.5 -4.5z" fill="#56B4E9"/><path d="M649.79 34.65 L648.79 34.68 L647.79 34.71 L646.79 34.74 L645.79 34.77 L644.79 34.80 L643.79 34.83 L642.79 34.86 L641.79 34.89 L640.79 34.92 L639.79 34.95 L638.80 34.98 L637.80 35.01 L636.80 35.04 L635.80 35.07 L634.80 35.10 L633.80 35.13 L632.80 35.16 L631.80 35.19 L630.80 35.22 L629.80 35.25 L628.80 35.27 L627.80 35.30 L626.80 35.33 L625.80 35.36 L624.80 35.39 L623.80 35.42 L622.80 35.46 L621.80 35.49 L620.80 35.52 L619.80 35.55 L618.80 35.58 L617.80 35.62 L616.81 35.65 L615.81 35.68 L614.81 35.72 L613.81 35.75 L612.81 35.79 L611.81 35.82 L610.81 35.86 L609.81 35.90 L608.81 35.94 L607.81 35.98 L606.81 36.02 L605.81 36.06 L604.81 36.10 L603.81 36.14 L602.82 36.19 L601.82 36.23 L600.82 36.28 L599.82 36.33 L598.82 36.37 L597.82 36.42 L596.82 36.48 L595.82 36.53 L594.83 36.58 L593.83 36.64 L592.83 36.70 L591.83 36.76 L590.83 36.82 L589.83 36.88 L588.84 36.94 L587.84 37.01 L586.84 37.07 L585.84 37.14 L584.85 37.21 L583.85 37.28 L582.85 37.35 L581.85 37.42 L580.86 37.50 L579.86 37.57 L578.86 37.65 L577.86 37.73 L576.87 37.81 L575.87 37.89 L574.87 37.97 L573.88 38.05 L572.88 38.13 L571.88 38.22 L570.89 38.30 L569.89 38.39 L568.90 38.48 L567.90 38.57 L566.90 38.66 L565.91 38.75 L564.91 38.84 L563.92 38.93 L562.92 39.03 L561.93 39.12 L560.93 39.22 L559.94 39.32 L558.94 39.42 L557.94 39.51 L556.95 39.61 L555.95 39.71 L554.96 39.82 L553.97 39.92 L552.97 40.02 L551.98 40.13 L550.98 40.23 L549.99 40.34 L548.99 40.44 L548.00 40.55 L547.00 40.66 L546.01 40.77 L545.02 40.88 L544.02 40.99 L543.03 41.10 L542.03 41.21 L541.04 41.32 L540.05 41.43 L539.05 41.55 L538.06 41.66 L537.07 41.79 L536.08 41.91 L535.08 42.04 L534.09 42.16 L533.10 42.30 L532.11 42.43 L531.12 42.57 L530.13 42.71 L529.14 42.85 L528.15 43.00 L527.16 43.15 L526.17 43.30 L525.18 43.45 L524.20 43.60 L523.21 43.76 L522.22 43.92 L521.23 44.08 L520.25 44.24 L519.26 44.41 L518.28 44.58 L517.29 44.74 L516.31 44.92 L515.32 45.09 L514.34 45.26 L513.35 45.44 L512.37 45.62 L511.38 45.80 L510.40 45.98 L509.42 46.16 L508.43 46.34 L507.45 46.53 L506.47 46.71 L505.49 46.90 L504.50 47.09 L503.52 47.28 L502.54 47.48 L501.56 47.67 L500.58 47.87 L499.60 48.08 L498.62 48.28 L497.65 48.49 L496.67 48.70 L495.69 48.92 L494.72 49.13 L493.74 49.35 L492.77 49.58 L491.79 49.81 L490.82 50.04 L489.85 50.28 L488.88 50.52 L487.91 50.77 L486.94 51.02 L485.97 51.27 L485.01 51.53 L484.04 51.80 L483.08 52.07 L482.12 52.34 L481.16 52.62 L480.20 52.91 L479.24 53.20 L478.29 53.50 L477.34 53.82 L476.39 54.14 L475.45 54.47 L474.51 54.80 L473.57 55.15 L472.64 55.51 L471.70 55.87 L470.77 56.23 L469.85 56.61 L468.92 56.99 L468.00 57.38 L467.08 57.77 L466.16 58.17 L465.25 58.57 L464.33 58.97 L463.42 59.38 L462.51 59.80 L461.60 60.22 L460.70 60.64 L459.79 61.07 L458.89 61.49 L457.99 61.92 L457.08 62.36 L456.18 62.79 L455.28 63.23 L454.39 63.67 L453.49 64.11 L452.59 64.55 L451.69 64.99 L450.80 65.43 L449.90 65.88 L449.00 66.32 L448.11 66.77 L447.22 67.22 L446.33 67.68 L445.44 68.15 L444.56 68.62 L443.68 69.09 L442.80 69.57 L441.93 70.05 L441.06 70.54 L440.18 71.03 L439.32 71.53 L438.45 72.03 L437.58 72.53 L436.72 73.03 L435.86 73.54 L435.00 74.05 L434.14 74.56 L433.28 75.07 L432.42 75.59 L431.57 76.11 L430.71 76.62 L429.86 77.14 L429.00 77.66 L428.15 78.18 L427.30 78.70 L426.44 79.23 L425.59 79.75 L424.74 80.27 L423.88 80.79 L423.03 81.31 L422.18 81.83 L421.32 82.35 L420.47 82.87 L419.61 83.38 L418.75 83.89 L417.88 84.40 L417.02 84.90 L416.15 85.39 L415.28 85.88 L414.41 86.38 L413.54 86.87 L412.67 87.36 L411.80 87.86 L410.93 88.36 L410.07 88.86 L409.21 89.38 L408.36 89.90 L407.51 90.43 L406.67 90.97 L405.84 91.52 L405.01 92.08 L404.19 92.66 L403.38 93.24 L402.58 93.84 L401.79 94.46 L401.01 95.08 L400.24 95.73 L399.49 96.38 L398.75 97.05 L398.02 97.74 L397.30 98.43 L396.59 99.14 L395.89 99.85 L395.21 100.58 L394.53 101.31 L393.86 102.06 L393.20 102.81 L392.54 103.57 L391.90 104.33 L391.26 105.10 L390.63 105.88 L390.01 106.66 L389.39 107.45 L388.78 108.24 L388.18 109.04 L387.58 109.84 L386.99 110.64 L386.40 111.45 L385.81 112.26 L385.23 113.08 L384.66 113.90 L384.10 114.72 L383.54 115.55 L383.00 116.39 L382.46 117.24 L381.93 118.09 L381.42 118.94 L380.91 119.81 L380.42 120.68 L379.93 121.55 L379.46 122.43 L379.00 123.32 L378.55 124.21 L378.10 125.11 L377.67 126.01 L377.25 126.91 L376.84 127.82 L376.43 128.74 L376.04 129.66 L375.65 130.58 L375.28 131.51 L374.92 132.44 L374.58 133.38 L374.26 134.33 L373.94 135.28 L373.64 136.23 L373.35 137.19 L373.06 138.15 L372.78 139.11 L372.51 140.07 L372.25 141.03 L371.99 142.00 L371.74 142.97 L371.49 143.94 L371.25 144.91 L371.01 145.88 L370.78 146.85 L370.55 147.82 L370.32 148.80 L370.10 149.77 L369.88 150.75 L369.66 151.72 L369.45 152.70 L369.24 153.68 L369.04 154.66 L368.85 155.64 L368.66 156.62 L368.48 157.61 L368.31 158.59 L368.15 159.58 L367.99 160.57 L367.84 161.56 L367.70 162.54 L367.56 163.54 L367.43 164.53 L367.31 165.52 L367.21 166.51 L367.10 167.51 L367.01 168.50 L366.91 169.50 L366.82 170.50 L366.74 171.49 L366.66 172.49 L366.58 173.49 L366.51 174.48 L366.43 175.48 L366.36 176.48 L366.28 177.47 L366.21 178.47 L366.14 179.47 L366.06 180.47 L366.00 181.46 L365.93 182.46 L365.87 183.46 L365.81 184.46 L365.76 185.46 L365.70 186.46 L365.65 187.45 L365.60 188.45 L365.55 189.45 L365.50 190.45 L365.45 191.45 L365.41 192.45 L365.37 193.45 L365.33 194.45 L365.29 195.45 L365.25 196.45 L365.21 197.44 L365.17 198.44 L365.11 199.44 L365.06 200.44 L365.00 201.44 L364.95 202.44 L364.91 203.44 L364.87 204.44 L364.84 205.44 L364.80 206.43 L364.76 207.43 L364.72 208.43 L364.68 209.43 L364.63 210.43 L364.59 211.43 L364.54 212.43 L364.50 213.43 L364.45 214.43 L364.41 215.43 L364.36 216.43 L364.32 217.42 L364.28 218.42 L364.25 219.42 L364.21 220.42 L364.17 221.42 L364.13 222.42 L364.09 223.42 L364.04 224.42 L364.00 225.42 L363.95 226.42 L363.91 227.42 L363.86 228.42 L363.82 229.41 L363.77 230.41 L363.73 231.41 L363.68 232.41 L363.64 233.41 L363.59 234.41 L363.54 235.41 L363.50 236.41 L363.45 237.41 L363.41 238.40 L363.36 239.40 L363.32 240.40 L363.27 241.40 L363.23 242.40 L363.18 243.40 L363.13 244.40 L363.08 245.40 L363.03 246.40 L362.97 247.39 L362.92 248.39 L362.86 249.39 L362.80 250.39 L362.75 251.39 L362.69 252.39 L362.63 253.38 L362.57 254.38 L362.51 255.38 L362.45 256.38 L362.38 257.38 L362.32 258.37 L362.26 259.37 L362.19 260.37 L362.13 261.37 L362.06 262.37 L362.00 263.36 L361.93 264.36 L361.86 265.36 L361.80 266.36 L361.73 267.36 L361.66 268.35 L361.59 269.35 L361.52 270.35 L361.46 271.35 L361.39 272.34 L361.32 273.34 L361.25 274.34 L361.17 275.34 L361.10 276.33 L361.03 277.33 L360.95 278.33 L360.88 279.32 L360.80 280.32 L360.72 281.32 L360.64 282.32 L360.56 283.31 L360.47 284.31 L360.39 285.30 L360.30 286.30 L360.21 287.30 L360.12 288.29 L360.03 289.29 L359.94 290.28 L359.85 291.28 L359.75 292.28 L359.66 293.27 L359.56 294.27 L359.47 295.26 L359.37 296.26 L359.27 297.25 L359.17 298.25 L359.07 299.24 L358.96 300.24 L358.86 301.23 L358.75 302.23 L358.64 303.22 L358.52 304.21 L358.41 305.21 L358.29 306.20 L358.17 307.19 L358.04 308.18 L357.91 309.17 L357.77 310.17 L357.63 311.16 L357.49 312.14 L357.34 313.13 L357.19 314.12 L357.04 315.11 L356.89 316.10 L356.74 317.09 L356.59 318.08 L356.43 319.06 L356.27 320.05 L356.11 321.04 L355.95 322.03 L355.79 323.01 L355.62 324.00 L355.45 324.98 L355.28 325.97 L355.10 326.95 L354.92 327.94 L354.74 328.92 L354.55 329.90 L354.36 330.88 L354.16 331.86 L353.95 332.84 L353.74 333.82 L353.52 334.80 L353.30 335.77 L353.06 336.74 L352.81 337.71 L352.55 338.67 L352.26 339.63 L351.96 340.58 L351.62 341.53 L351.26 342.46 L350.90 343.39 L350.51 344.31 L350.12 345.23 L349.71 346.15 L349.29 347.05 L348.86 347.95 L348.40 348.85 L347.94 349.73 L347.45 350.61 L346.95 351.47 L346.44 352.33 L345.90 353.17 L345.35 354.01 L344.79 354.83 L344.21 355.65 L343.62 356.46 L343.02 357.25 L342.41 358.05 L341.79 358.84 L341.18 359.62 L340.56 360.41 L339.95 361.20 L339.34 362.00 L338.73 362.79 L338.11 363.57 L337.48 364.35 L336.84 365.12 L336.20 365.89 L335.55 366.65 L334.89 367.40 L334.23 368.15 L333.55 368.88 L332.87 369.62 L332.18 370.34 L331.48 371.06 L330.78 371.77 L330.06 372.47 L329.34 373.16 L328.61 373.84 L327.87 374.51 L327.12 375.18 L326.37 375.83 L325.60 376.48 L324.83 377.11 L324.05 377.73 L323.26 378.34 L322.46 378.95 L321.65 379.54 L320.84 380.12 L320.02 380.69 L319.19 381.26 L318.36 381.81 L317.53 382.37 L316.69 382.91 L315.85 383.45 L315.01 383.99 L314.16 384.53 L313.32 385.06 L312.47 385.59 L311.63 386.13 L310.78 386.67 L309.94 387.21 L309.10 387.75 L308.27 388.30 L307.43 388.85 L306.61 389.42 L305.79 389.99 L304.97 390.57 L304.16 391.16 L303.36 391.75 L302.55 392.34 L301.75 392.94 L300.95 393.54 L300.15 394.14 L299.35 394.73 L298.54 395.33 L297.74 395.92 L296.93 396.51 L296.12 397.10 L295.30 397.67 L294.48 398.24 L293.65 398.80 L292.81 399.35 L291.97 399.88 L291.11 400.40 L290.25 400.90 L289.37 401.38 L288.48 401.84 L287.58 402.27 L286.66 402.67 L285.74 403.06 L284.81 403.43 L283.88 403.79 L282.94 404.15 L282.01 404.49 L281.06 404.82 L280.12 405.15 L279.17 405.46 L278.22 405.77 L277.26 406.07 L276.31 406.36 L275.35 406.65 L274.39 406.93 L273.43 407.20 L272.46 407.48 L271.50 407.74 L270.54 408.01 L269.57 408.27 L268.61 408.54 L267.64 408.80 L266.68 409.06 L265.71 409.32 L264.75 409.59 L263.78 409.86 L262.82 410.12 L261.86 410.39 L260.89 410.64 L259.92 410.90 L258.95 411.15 L257.99 411.40 L257.02 411.64 L256.05 411.89 L255.08 412.13 L254.10 412.37 L253.13 412.60 L252.16 412.84 L251.19 413.08 L250.22 413.31 L249.25 413.55 L248.28 413.79 L247.30 414.02 L246.33 414.26 L245.36 414.50 L244.39 414.74 L243.42 414.98 L242.45 415.23 L241.48 415.47 L240.51 415.71 L239.54 415.96 L238.57 416.20 L237.60 416.44 L236.63 416.68 L235.66 416.92 L234.69 417.16 L233.72 417.40 L232.75 417.64 L231.77 417.87 L230.80 418.10 L229.83 418.33 L228.85 418.56 L227.88 418.78 L226.90 419.00 L225.93 419.22 L224.95 419.43 L223.97 419.64 L222.99 419.85 L222.01 420.04 L221.03 420.24 L220.05 420.43 L219.07 420.61 L218.08 420.80 L217.10 420.98 L216.12 421.16 L215.13 421.34 L214.15 421.52 L213.17 421.69 L212.18 421.87 L211.20 422.04 L210.21 422.21 L209.23 422.38 L208.24 422.55 L207.25 422.72 L206.27 422.88 L205.28 423.04 L204.29 423.20 L203.31 423.36 L202.32 423.51 L201.33 423.67 L200.34 423.82 L199.35 423.97 L198.36 424.11 L197.37 424.26 L196.38 424.40 L195.39 424.54 L194.40 424.67 L193.41 424.80 L192.42 424.93 L191.43 425.06 L190.44 425.19 L189.44 425.31 L188.45 425.42 L187.46 425.54 L186.46 425.65 L185.47 425.76 L184.48 425.88 L183.48 425.99 L182.49 426.10 L181.49 426.21 L180.50 426.32 L179.51 426.42 L178.51 426.53 L177.52 426.64 L176.52 426.74 L175.53 426.85 L174.53 426.95 L173.54 427.06 L172.54 427.16 L171.55 427.26 L170.55 427.36 L169.56 427.46 L168.56 427.56 L167.57 427.66 L166.57 427.76 L165.58 427.85 L164.58 427.95 L163.59 428.04 L162.59 428.14 L161.60 428.23 L160.60 428.32 L159.60 428.41 L158.61 428.50 L157.61 428.59 L156.62 428.68 L155.62 428.76 L154.62 428.85 L153.63 428.93 L152.63 429.01 L151.63 429.09 L150.64 429.17 L149.64 429.25 L148.64 429.33 L147.65 429.41 L146.65 429.48 L145.65 429.56 L144.65 429.63 L143.66 429.70 L142.66 429.77 L141.66 429.84 L140.66 429.91 L139.67 429.98 L138.67 430.04 L137.67 430.11 L136.67 430.17 L135.67 430.23 L134.68 430.29 L133.68 430.35 L132.68 430.40 L131.68 430.46 L130.68 430.51 L129.68 430.56 L128.68 430.61 L127.69 430.66 L126.69 430.71 L125.69 430.76 L124.69 430.80 L123.69 430.85 L122.69 430.89 L121.69 430.93 L120.69 430.97 L119.69 431.01 L118.69 431.05 L117.70 431.09 L116.70 431.13 L115.70 431.17 L114.70 431.20 L113.70 431.24 L112.70 431.27 L111.70 431.31 L110.70 431.34 L109.70 431.38 L108.70 431.41 L107.70 431.44 L106.70 431.47 L105.70 431.51 L104.70 431.54 L103.70 431.57 L102.70 431.60 L101.70 431.63 L100.70 431.66 L99.71 431.69 L98.71 431.72 L97.71 431.75 L96.71 431.78 L95.71 431.81 L94.71 431.84 L93.71 431.86 L92.71 431.89 L91.71 431.92 L90.71 431.95 L89.71 431.98 L88.71 432.01 L87.71 432.04 L86.71 432.07 L85.71 432.10 L84.71 432.13 L83.71 432.16 L83.53 432.34 L84.53 432.31 L85.53 432.28 L86.53 432.25 L87.53 432.22 L88.53 432.19 L89.53 432.16 L90.53 432.13 L91.53 432.10 L92.53 432.07 L93.53 432.04 L94.53 432.01 L95.53 431.98 L96.53 431.95 L97.53 431.92 L98.53 431.89 L99.53 431.86 L100.52 431.83 L101.52 431.80 L102.52 431.77 L103.52 431.75 L104.52 431.72 L105.52 431.69 L106.52 431.66 L107.52 431.63 L108.52 431.60 L109.52 431.57 L110.52 431.53 L111.52 431.50 L112.52 431.47 L113.52 431.44 L114.52 431.41 L115.52 431.37 L116.52 431.34 L117.52 431.31 L118.52 431.27 L119.52 431.24 L120.51 431.20 L121.51 431.16 L122.51 431.13 L123.51 431.09 L124.51 431.05 L125.51 431.01 L126.51 430.97 L127.51 430.93 L128.51 430.89 L129.51 430.84 L130.51 430.80 L131.51 430.75 L132.50 430.71 L133.50 430.66 L134.50 430.61 L135.50 430.56 L136.50 430.51 L137.50 430.45 L138.50 430.40 L139.49 430.34 L140.49 430.28 L141.49 430.22 L142.49 430.16 L143.49 430.10 L144.49 430.04 L145.48 429.97 L146.48 429.91 L147.48 429.84 L148.48 429.77 L149.47 429.70 L150.47 429.63 L151.47 429.55 L152.47 429.48 L153.46 429.40 L154.46 429.33 L155.46 429.25 L156.45 429.17 L157.45 429.09 L158.45 429.01 L159.44 428.92 L160.44 428.84 L161.44 428.75 L162.43 428.67 L163.43 428.58 L164.43 428.49 L165.42 428.40 L166.42 428.31 L167.41 428.22 L168.41 428.13 L169.40 428.04 L170.40 427.94 L171.40 427.85 L172.39 427.75 L173.39 427.65 L174.38 427.55 L175.38 427.45 L176.37 427.35 L177.37 427.25 L178.36 427.15 L179.36 427.05 L180.35 426.94 L181.34 426.84 L182.34 426.74 L183.33 426.63 L184.33 426.52 L185.32 426.42 L186.32 426.31 L187.31 426.20 L188.30 426.09 L189.30 425.98 L190.29 425.87 L191.29 425.76 L192.28 425.64 L193.27 425.53 L194.27 425.42 L195.26 425.30 L196.25 425.18 L197.24 425.05 L198.24 424.92 L199.23 424.79 L200.22 424.66 L201.21 424.52 L202.20 424.39 L203.19 424.24 L204.18 424.10 L205.17 423.96 L206.16 423.81 L207.15 423.66 L208.13 423.50 L209.12 423.35 L210.11 423.19 L211.10 423.03 L212.08 422.87 L213.07 422.70 L214.06 422.54 L215.04 422.37 L216.03 422.20 L217.01 422.03 L218.00 421.86 L218.98 421.68 L219.97 421.50 L220.95 421.33 L221.93 421.15 L222.92 420.97 L223.90 420.78 L224.88 420.60 L225.87 420.41 L226.85 420.23 L227.83 420.04 L228.81 419.85 L229.79 419.65 L230.77 419.46 L231.75 419.26 L232.73 419.06 L233.71 418.86 L234.69 418.65 L235.67 418.44 L236.65 418.23 L237.62 418.01 L238.60 417.80 L239.57 417.57 L240.55 417.35 L241.52 417.12 L242.49 416.88 L243.46 416.64 L244.43 416.40 L245.40 416.15 L246.37 415.90 L247.34 415.64 L248.30 415.38 L249.27 415.12 L250.23 414.84 L251.19 414.57 L252.15 414.29 L253.11 414.00 L254.06 413.70 L255.01 413.40 L255.96 413.08 L256.91 412.76 L257.85 412.43 L258.79 412.08 L259.73 411.74 L260.66 411.38 L261.60 411.02 L262.52 410.65 L263.45 410.27 L264.38 409.89 L265.30 409.50 L266.22 409.10 L267.13 408.71 L268.05 408.30 L268.96 407.89 L269.87 407.48 L270.78 407.07 L271.69 406.65 L272.60 406.22 L273.50 405.80 L274.40 405.37 L275.31 404.94 L276.21 404.50 L277.11 404.07 L278.01 403.63 L278.90 403.19 L279.80 402.75 L280.70 402.31 L281.60 401.87 L282.49 401.42 L283.39 400.98 L284.28 400.53 L285.18 400.09 L286.07 399.63 L286.96 399.17 L287.84 398.70 L288.72 398.23 L289.60 397.76 L290.48 397.27 L291.35 396.79 L292.23 396.30 L293.10 395.81 L293.96 395.31 L294.83 394.81 L295.69 394.31 L296.56 393.80 L297.42 393.30 L298.28 392.79 L299.14 392.27 L300.00 391.76 L300.85 391.24 L301.71 390.73 L302.56 390.21 L303.42 389.69 L304.27 389.17 L305.13 388.65 L305.98 388.13 L306.83 387.61 L307.69 387.08 L308.54 386.56 L309.39 386.04 L310.25 385.52 L311.10 385.00 L311.96 384.48 L312.81 383.96 L313.67 383.45 L314.53 382.94 L315.39 382.44 L316.26 381.94 L317.13 381.45 L318.00 380.96 L318.87 380.47 L319.74 379.97 L320.61 379.48 L321.48 378.98 L322.35 378.48 L323.21 377.97 L324.06 377.45 L324.91 376.93 L325.76 376.40 L326.60 375.85 L327.43 375.30 L328.26 374.73 L329.07 374.15 L329.88 373.56 L330.68 372.96 L331.46 372.34 L332.24 371.71 L333.00 371.06 L333.75 370.40 L334.49 369.73 L335.21 369.04 L335.93 368.34 L336.63 367.63 L337.33 366.91 L338.01 366.18 L338.69 365.45 L339.36 364.70 L340.01 363.95 L340.66 363.19 L341.31 362.42 L341.94 361.65 L342.57 360.87 L343.19 360.09 L343.80 359.30 L344.41 358.50 L345.01 357.71 L345.61 356.90 L346.20 356.10 L346.79 355.29 L347.37 354.48 L347.95 353.66 L348.52 352.84 L349.08 352.01 L349.63 351.18 L350.18 350.34 L350.71 349.49 L351.23 348.64 L351.75 347.78 L352.25 346.91 L352.74 346.04 L353.22 345.17 L353.69 344.28 L354.15 343.40 L354.60 342.50 L355.04 341.60 L355.47 340.70 L355.89 339.79 L356.30 338.88 L356.70 337.96 L357.09 337.04 L357.47 336.12 L357.84 335.19 L358.19 334.25 L358.52 333.31 L358.85 332.36 L359.16 331.41 L359.46 330.46 L359.75 329.50 L360.03 328.54 L360.30 327.58 L360.57 326.62 L360.83 325.65 L361.09 324.69 L361.34 323.72 L361.59 322.75 L361.83 321.78 L362.07 320.81 L362.30 319.84 L362.53 318.86 L362.75 317.89 L362.98 316.91 L363.19 315.94 L363.41 314.96 L363.62 313.98 L363.83 313.01 L364.02 312.02 L364.22 311.04 L364.40 310.06 L364.57 309.08 L364.74 308.09 L364.90 307.10 L365.06 306.11 L365.20 305.13 L365.35 304.14 L365.48 303.15 L365.61 302.15 L365.72 301.16 L365.83 300.17 L365.93 299.17 L366.02 298.17 L366.11 297.18 L366.20 296.18 L366.29 295.19 L366.37 294.19 L366.44 293.19 L366.52 292.20 L366.59 291.20 L366.67 290.20 L366.74 289.20 L366.82 288.21 L366.89 287.21 L366.96 286.21 L367.02 285.21 L367.09 284.22 L367.15 283.22 L367.21 282.22 L367.26 281.22 L367.32 280.22 L367.37 279.22 L367.42 278.22 L367.47 277.23 L367.52 276.23 L367.56 275.23 L367.61 274.23 L367.64 273.23 L367.68 272.23 L367.72 271.23 L367.76 270.23 L367.80 269.23 L367.85 268.23 L367.91 267.24 L367.96 266.24 L368.01 265.24 L368.06 264.24 L368.10 263.24 L368.14 262.24 L368.18 261.24 L368.21 260.24 L368.25 259.24 L368.29 258.24 L368.34 257.25 L368.38 256.25 L368.43 255.25 L368.47 254.25 L368.52 253.25 L368.56 252.25 L368.61 251.25 L368.65 250.25 L368.69 249.25 L368.73 248.25 L368.77 247.25 L368.81 246.26 L368.85 245.26 L368.89 244.26 L368.93 243.26 L368.97 242.26 L369.01 241.26 L369.06 240.26 L369.11 239.26 L369.15 238.26 L369.20 237.26 L369.24 236.26 L369.29 235.27 L369.33 234.27 L369.38 233.27 L369.43 232.27 L369.47 231.27 L369.52 230.27 L369.56 229.27 L369.61 228.27 L369.65 227.27 L369.70 226.28 L369.74 225.28 L369.79 224.28 L369.84 223.28 L369.89 222.28 L369.94 221.28 L369.99 220.28 L370.04 219.28 L370.10 218.29 L370.16 217.29 L370.21 216.29 L370.27 215.29 L370.33 214.29 L370.39 213.29 L370.45 212.30 L370.51 211.30 L370.57 210.30 L370.64 209.30 L370.70 208.30 L370.76 207.31 L370.83 206.31 L370.89 205.31 L370.96 204.31 L371.03 203.31 L371.09 202.32 L371.16 201.32 L371.23 200.32 L371.29 199.32 L371.36 198.33 L371.43 197.33 L371.50 196.33 L371.57 195.33 L371.64 194.33 L371.71 193.34 L371.78 192.34 L371.85 191.34 L371.92 190.35 L371.99 189.35 L372.07 188.35 L372.15 187.35 L372.22 186.36 L372.30 185.36 L372.38 184.36 L372.47 183.37 L372.55 182.37 L372.64 181.37 L372.73 180.38 L372.82 179.38 L372.91 178.39 L373.00 177.39 L373.09 176.39 L373.18 175.40 L373.28 174.40 L373.37 173.41 L373.47 172.41 L373.56 171.42 L373.66 170.42 L373.76 169.43 L373.86 168.43 L373.97 167.44 L374.07 166.44 L374.18 165.45 L374.29 164.45 L374.40 163.46 L374.51 162.47 L374.63 161.47 L374.75 160.48 L374.87 159.49 L375.00 158.50 L375.13 157.51 L375.27 156.52 L375.42 155.53 L375.56 154.54 L375.71 153.55 L375.86 152.56 L376.01 151.57 L376.16 150.58 L376.31 149.59 L376.46 148.60 L376.62 147.62 L376.78 146.63 L376.94 145.64 L377.10 144.66 L377.27 143.67 L377.43 142.68 L377.61 141.70 L377.78 140.71 L377.96 139.73 L378.14 138.75 L378.32 137.76 L378.51 136.78 L378.71 135.80 L378.91 134.82 L379.11 133.84 L379.33 132.87 L379.55 131.89 L379.78 130.92 L380.02 129.95 L380.27 128.98 L380.54 128.02 L380.83 127.06 L381.15 126.11 L381.49 125.17 L381.85 124.24 L382.23 123.31 L382.61 122.39 L383.01 121.47 L383.42 120.56 L383.85 119.65 L384.29 118.76 L384.74 117.87 L385.22 116.99 L385.71 116.11 L386.21 115.25 L386.73 114.40 L387.27 113.56 L387.83 112.72 L388.40 111.90 L388.98 111.09 L389.58 110.29 L390.18 109.49 L390.79 108.70 L391.41 107.91 L392.02 107.12 L392.64 106.33 L393.25 105.54 L393.86 104.75 L394.47 103.96 L395.10 103.18 L395.73 102.40 L396.36 101.63 L397.01 100.87 L397.66 100.11 L398.32 99.36 L398.99 98.62 L399.67 97.88 L400.35 97.15 L401.04 96.43 L401.74 95.71 L402.45 95.01 L403.17 94.31 L403.89 93.62 L404.63 92.94 L405.37 92.27 L406.12 91.61 L406.88 90.96 L407.64 90.32 L408.42 89.69 L409.21 89.07 L410.00 88.46 L410.80 87.86 L411.61 87.27 L412.43 86.70 L413.25 86.12 L414.07 85.56 L414.91 85.01 L415.74 84.46 L416.58 83.91 L417.42 83.37 L418.27 82.84 L419.11 82.30 L419.96 81.77 L420.80 81.23 L421.65 80.70 L422.49 80.16 L423.33 79.62 L424.17 79.07 L425.00 78.52 L425.83 77.96 L426.66 77.40 L427.47 76.82 L428.29 76.24 L429.10 75.65 L429.90 75.06 L430.71 74.47 L431.51 73.87 L432.31 73.27 L433.11 72.67 L433.91 72.07 L434.72 71.48 L435.52 70.89 L436.33 70.30 L437.14 69.72 L437.96 69.14 L438.79 68.58 L439.62 68.02 L440.46 67.48 L441.31 66.95 L442.17 66.44 L443.04 65.94 L443.92 65.47 L444.81 65.02 L445.72 64.60 L446.64 64.20 L447.56 63.82 L448.49 63.45 L449.42 63.09 L450.36 62.74 L451.30 62.40 L452.24 62.07 L453.19 61.75 L454.14 61.44 L455.09 61.13 L456.05 60.84 L457.00 60.55 L457.96 60.26 L458.92 59.98 L459.88 59.71 L460.85 59.44 L461.81 59.17 L462.77 58.91 L463.74 58.64 L464.70 58.38 L465.67 58.12 L466.63 57.85 L467.60 57.59 L468.56 57.32 L469.53 57.06 L470.49 56.79 L471.46 56.53 L472.42 56.27 L473.39 56.02 L474.36 55.77 L475.33 55.52 L476.30 55.28 L477.27 55.04 L478.24 54.80 L479.21 54.56 L480.18 54.32 L481.15 54.08 L482.12 53.85 L483.09 53.61 L484.07 53.37 L485.04 53.14 L486.01 52.90 L486.98 52.66 L487.95 52.42 L488.92 52.18 L489.89 51.94 L490.86 51.70 L491.83 51.45 L492.80 51.21 L493.77 50.97 L494.74 50.72 L495.71 50.48 L496.68 50.24 L497.65 50.00 L498.62 49.76 L499.60 49.52 L500.57 49.29 L501.54 49.05 L502.51 48.82 L503.49 48.59 L504.46 48.37 L505.44 48.14 L506.41 47.93 L507.39 47.71 L508.37 47.50 L509.34 47.29 L510.32 47.09 L511.30 46.89 L512.28 46.70 L513.27 46.51 L514.25 46.33 L515.23 46.14 L516.22 45.96 L517.20 45.78 L518.18 45.60 L519.17 45.42 L520.15 45.25 L521.14 45.07 L522.12 44.90 L523.11 44.73 L524.09 44.56 L525.08 44.40 L526.06 44.23 L527.05 44.07 L528.04 43.91 L529.03 43.75 L530.01 43.59 L531.00 43.44 L531.99 43.28 L532.98 43.13 L533.97 42.99 L534.96 42.84 L535.95 42.70 L536.94 42.56 L537.93 42.42 L538.92 42.29 L539.91 42.15 L540.90 42.02 L541.89 41.90 L542.88 41.78 L543.88 41.66 L544.87 41.54 L545.86 41.42 L546.86 41.31 L547.85 41.20 L548.85 41.09 L549.84 40.98 L550.83 40.87 L551.83 40.76 L552.82 40.65 L553.82 40.54 L554.81 40.43 L555.80 40.33 L556.80 40.22 L557.79 40.12 L558.79 40.01 L559.78 39.91 L560.78 39.81 L561.77 39.71 L562.77 39.61 L563.76 39.51 L564.76 39.41 L565.75 39.31 L566.75 39.21 L567.74 39.12 L568.74 39.02 L569.73 38.93 L570.73 38.83 L571.73 38.74 L572.72 38.65 L573.72 38.56 L574.71 38.47 L575.71 38.38 L576.71 38.30 L577.70 38.21 L578.70 38.13 L579.69 38.04 L580.69 37.96 L581.69 37.88 L582.68 37.80 L583.68 37.72 L584.68 37.64 L585.68 37.57 L586.67 37.49 L587.67 37.42 L588.67 37.35 L589.66 37.27 L590.66 37.20 L591.66 37.14 L592.66 37.07 L593.66 37.00 L594.65 36.94 L595.65 36.87 L596.65 36.81 L597.65 36.75 L598.65 36.69 L599.64 36.64 L600.64 36.58 L601.64 36.53 L602.64 36.47 L603.64 36.42 L604.64 36.37 L605.64 36.32 L606.63 36.28 L607.63 36.23 L608.63 36.18 L609.63 36.14 L610.63 36.10 L611.63 36.06 L612.63 36.01 L613.63 35.97 L614.63 35.93 L615.63 35.90 L616.63 35.86 L617.63 35.82 L618.62 35.78 L619.62 35.75 L620.62 35.71 L621.62 35.68 L622.62 35.65 L623.62 35.61 L624.62 35.58 L625.62 35.55 L626.62 35.52 L627.62 35.48 L628.62 35.45 L629.62 35.42 L630.62 35.39 L631.62 35.36 L632.62 35.33 L633.62 35.30 L634.62 35.27 L635.62 35.24 L636.62 35.21 L637.62 35.18 L638.61 35.16 L639.61 35.13 L640.61 35.10 L641.61 35.07 L642.61 35.04 L643.61 35.01 L644.61 34.98 L645.61 34.95 L646.61 34.92 L647.61 34.89 L648.61 34.86 L649.61 34.83" fill="none" stroke="#009E73" stroke-width="1.5"/><path d="M647.4 30.6l7.2 4.0l-7.2 4.0zM644.1 30.7l7.2 4.0l-7.2 4.0zM640.8 30.8l7.2 4.0l-7.2 4.0zM637.5 30.9l7.2 4.0l-7.2 4.0zM634.2 31.0l7.2 4.0l-7.2 4.0zM630.9 31.1l7.2 4.0l-7.2 4.0zM627.6 31.2l7.2 4.0l-7.2 4.0zM624.3 31.3l7.2 4.0l-7.2 4.0zM621.0 31.4l7.2 4.0l-7.2 4.0zM617.7 31.5l7.2 4.0l-7.2 4.0zM614.4 31.6l7.2 4.0l-7.2 4.0zM611.1 31.8l7.2 4.0l-7.2 4.0zM607.8 31.9l7.2 4.0l-7.2 4.0zM604.5 32.0l7.2 4.0l-7.2 4.0zM601.2 32.2l7.2 4.0l-7.2 4.0zM597.9 32.3l7.2 4.0l-7.2 4.0zM594.6 32.5l7.2 4.0l-7.2 4.0zM591.3 32.6l7.2 4.0l-7.2 4.0zM588.0 32.8l7.2 4.0l-7.2 4.0zM584.7 33.1l7.2 4.0l-7.2 4.0zM581.4 33.3l7.2 4.0l-7.2 4.0zM578.1 33.5l7.2 4.0l-7.2 4.0zM574.9 33.8l7.2 4.0l-7.2 4.0zM571.6 34.0l7.2 4.0l-7.2 4.0zM568.3 34.3l7.2 4.0l-7.2 4.0zM565.0 34.6l7.2 4.0l-7.2 4.0zM561.7 34.9l7.2 4.0l-7.2 4.0zM558.4 35.2l7.2 4.0l-7.2 4.0zM555.1 35.6l7.2 4.0l-7.2 4.0zM551.8 35.9l7.2 4.0l-7.2 4.0zM548.5 36.2l7.2 4.0l-7.2 4.0zM545.3 36.6l7.2 4.0l-7.2 4.0zM542.0 36.9l7.2 4.0l-7.2 4.0zM538.7 37.3l7.2 4.0l-7.2 4.0zM535.4 37.7l7.2 4.0l-7.2 4.0zM532.1 38.1l7.2 4.0l-7.2 4.0zM528.9 38.5l7.2 4.0l-7.2 4.0zM525.6 39.0l7.2 4.0l-7.2 4.0zM522.3 39.5l7.2 4.0l-7.2 4.0zM519.1 40.0l7.2 4.0l-7.2 4.0zM515.8 40.6l7.2 4.0l-7.2 4.0zM512.5 41.2l7.2 4.0l-7.2 4.0zM509.3 41.7l7.2 4.0l-7.2 4.0zM506.0 42.3l7.2 4.0l-7.2 4.0zM502.8 43.0l7.2 4.0l-7.2 4.0zM499.5 43.6l7.2 4.0l-7.2 4.0zM496.3 44.3l7.2 4.0l-7.2 4.0zM493.0 45.0l7.2 4.0l-7.2 4.0zM489.8 45.7l7.2 4.0l-7.2 4.0zM486.6 46.5l7.2 4.0l-7.2 4.0zM483.4 47.3l7.2 4.0l-7.2 4.0zM480.2 48.2l7.2 4.0l-7.2 4.0zM477.0 49.2l7.2 4.0l-7.2 4.0zM473.8 50.2l7.2 4.0l-7.2 4.0zM470.7 51.3l7.2 4.0l-7.2 4.0zM467.6 52.6l7.2 4.0l-7.2 4.0zM464.5 53.8l7.2 4.0l-7.2 4.0zM461.4 55.2l7.2 4.0l-7.2 4.0zM458.4 56.6l7.2 4.0l-7.2 4.0zM455.4 58.0l7.2 4.0l-7.2 4.0zM452.3 59.5l7.2 4.0l-7.2 4.0zM449.3 61.0l7.2 4.0l-7.2 4.0zM446.3 62.5l7.2 4.0l-7.2 4.0zM443.3 64.0l7.2 4.0l-7.2 4.0zM440.4 65.6l7.2 4.0l-7.2 4.0zM437.4 67.2l7.2 4.0l-7.2 4.0zM434.5 68.9l7.2 4.0l-7.2 4.0zM431.6 70.6l7.2 4.0l-7.2 4.0zM428.7 72.4l7.2 4.0l-7.2 4.0zM425.8 74.1l7.2 4.0l-7.2 4.0zM422.9 75.9l7.2 4.0l-7.2 4.0zM420.0 77.7l7.2 4.0l-7.2 4.0zM417.2 79.4l7.2 4.0l-7.2 4.0zM414.2 81.1l7.2 4.0l-7.2 4.0zM411.3 82.8l7.2 4.0l-7.2 4.0zM408.4 84.5l7.2 4.0l-7.2 4.0zM405.5 86.2l7.2 4.0l-7.2 4.0zM402.6 88.1l7.2 4.0l-7.2 4.0zM399.9 90.1l7.2 4.0l-7.2 4.0zM397.3 92.2l7.2 4.0l-7.2 4.0zM394.7 94.6l7.2 4.0l-7.2 4.0zM392.3 97.1l7.2 4.0l-7.2 4.0zM390.0 99.7l7.2 4.0l-7.2 4.0zM387.8 102.4l7.2 4.0l-7.2 4.0zM385.7 105.1l7.2 4.0l-7.2 4.0zM383.6 108.0l7.2 4.0l-7.2 4.0zM381.6 110.8l7.2 4.0l-7.2 4.0zM379.7 113.8l7.2 4.0l-7.2 4.0zM377.9 116.9l7.2 4.0l-7.2 4.0zM376.3 120.0l7.2 4.0l-7.2 4.0zM374.7 123.2l7.2 4.0l-7.2 4.0zM373.3 126.5l7.2 4.0l-7.2 4.0zM372.0 129.8l7.2 4.0l-7.2 4.0zM370.9 133.3l7.2 4.0l-7.2 4.0zM369.9 136.7l7.2 4.0l-7.2 4.0zM369.0 140.2l7.2 4.0l-7.2 4.0zM368.2 143.7l7.2 4.0l-7.2 4.0zM367.4 147.2l7.2 4.0l-7.2 4.0zM366.6 150.8l7.2 4.0l-7.2 4.0zM366.0 154.3l7.2 4.0l-7.2 4.0zM365.4 157.9l7.2 4.0l-7.2 4.0zM364.9 161.5l7.2 4.0l-7.2 4.0zM364.6 165.1l7.2 4.0l-7.2 4.0zM364.2 168.7l7.2 4.0l-7.2 4.0zM364.0 172.3l7.2 4.0l-7.2 4.0zM363.7 176.0l7.2 4.0l-7.2 4.0zM363.5 179.6l7.2 4.0l-7.2 4.0zM363.3 183.2l7.2 4.0l-7.2 4.0zM363.1 186.8l7.2 4.0l-7.2 4.0zM362.9 190.4l7.2 4.0l-7.2 4.0zM362.8 194.1l7.2 4.0l-7.2 4.0zM362.6 197.7l7.2 4.0l-7.2 4.0zM362.4 201.3l7.2 4.0l-7.2 4.0zM362.3 204.9l7.2 4.0l-7.2 4.0zM362.1 208.6l7.2 4.0l-7.2 4.0zM362.0 212.2l7.2 4.0l-7.2 4.0zM361.8 215.8l7.2 4.0l-7.2 4.0zM361.7 219.5l7.2 4.0l-7.2 4.0zM361.5 223.1l7.2 4.0l-7.2 4.0zM361.4 226.7l7.2 4.0l-7.2 4.0zM361.2 230.3l7.2 4.0l-7.2 4.0zM361.0 234.0l7.2 4.0l-7.2 4.0zM360.9 237.6l7.2 4.0l-7.2 4.0zM360.7 241.2l7.2 4.0l-7.2 4.0zM360.5 244.8l7.2 4.0l-7.2 4.0zM360.3 248.5l7.2 4.0l-7.2 4.0zM360.1 252.1l7.2 4.0l-7.2 4.0zM359.8 255.7l7.2 4.0l-7.2 4.0zM359.6 259.3l7.2 4.0l-7.2 4.0zM359.4 262.9l7.2 4.0l-7.2 4.0zM359.1 266.6l7.2 4.0l-7.2 4.0zM358.9 270.2l7.2 4.0l-7.2 4.0zM358.6 273.8l7.2 4.0l-7.2 4.0zM358.3 277.4l7.2 4.0l-7.2 4.0zM358.0 281.0l7.2 4.0l-7.2 4.0zM357.7 284.6l7.2 4.0l-7.2 4.0zM357.4 288.2l7.2 4.0l-7.2 4.0zM357.0 291.9l7.2 4.0l-7.2 4.0zM356.6 295.5l7.2 4.0l-7.2 4.0zM356.3 299.1l7.2 4.0l-7.2 4.0zM355.8 302.7l7.2 4.0l-7.2 4.0zM355.4 306.3l7.2 4.0l-7.2 4.0zM354.8 309.8l7.2 4.0l-7.2 4.0zM354.3 313.4l7.2 4.0l-7.2 4.0zM353.7 317.0l7.2 4.0l-7.2 4.0zM353.1 320.6l7.2 4.0l-7.2 4.0zM352.5 324.1l7.2 4.0l-7.2 4.0zM351.8 327.7l7.2 4.0l-7.2 4.0zM351.0 331.2l7.2 4.0l-7.2 4.0zM350.1 334.7l7.2 4.0l-7.2 4.0zM349.0 338.1l7.2 4.0l-7.2 4.0zM347.6 341.4l7.2 4.0l-7.2 4.0zM346.1 344.6l7.2 4.0l-7.2 4.0zM344.4 347.7l7.2 4.0l-7.2 4.0zM342.5 350.7l7.2 4.0l-7.2 4.0zM340.4 353.5l7.2 4.0l-7.2 4.0zM338.3 356.3l7.2 4.0l-7.2 4.0zM336.1 359.0l7.2 4.0l-7.2 4.0zM333.9 361.7l7.2 4.0l-7.2 4.0zM331.6 364.4l7.2 4.0l-7.2 4.0zM329.3 366.9l7.2 4.0l-7.2 4.0zM326.8 369.3l7.2 4.0l-7.2 4.0zM324.2 371.6l7.2 4.0l-7.2 4.0zM321.6 373.8l7.2 4.0l-7.2 4.0zM318.9 375.8l7.2 4.0l-7.2 4.0zM316.1 377.7l7.2 4.0l-7.2 4.0zM313.2 379.6l7.2 4.0l-7.2 4.0zM310.4 381.4l7.2 4.0l-7.2 4.0zM307.5 383.2l7.2 4.0l-7.2 4.0zM304.7 385.1l7.2 4.0l-7.2 4.0zM301.9 387.0l7.2 4.0l-7.2 4.0zM299.2 389.1l7.2 4.0l-7.2 4.0zM296.4 391.1l7.2 4.0l-7.2 4.0zM293.7 393.1l7.2 4.0l-7.2 4.0zM290.9 395.0l7.2 4.0l-7.2 4.0zM288.0 396.8l7.2 4.0l-7.2 4.0zM285.0 398.3l7.2 4.0l-7.2 4.0zM281.9 399.6l7.2 4.0l-7.2 4.0zM278.8 400.8l7.2 4.0l-7.2 4.0zM275.6 401.8l7.2 4.0l-7.2 4.0zM272.5 402.8l7.2 4.0l-7.2 4.0zM269.3 403.7l7.2 4.0l-7.2 4.0zM266.1 404.6l7.2 4.0l-7.2 4.0zM262.9 405.4l7.2 4.0l-7.2 4.0zM259.7 406.3l7.2 4.0l-7.2 4.0zM256.5 407.2l7.2 4.0l-7.2 4.0zM253.2 408.0l7.2 4.0l-7.2 4.0zM250.0 408.8l7.2 4.0l-7.2 4.0zM246.8 409.6l7.2 4.0l-7.2 4.0zM243.6 410.3l7.2 4.0l-7.2 4.0zM240.4 411.1l7.2 4.0l-7.2 4.0zM237.1 412.0l7.2 4.0l-7.2 4.0zM233.9 412.8l7.2 4.0l-7.2 4.0zM230.7 413.6l7.2 4.0l-7.2 4.0zM227.5 414.3l7.2 4.0l-7.2 4.0zM224.2 415.1l7.2 4.0l-7.2 4.0zM221.0 415.8l7.2 4.0l-7.2 4.0zM217.8 416.4l7.2 4.0l-7.2 4.0zM214.5 417.0l7.2 4.0l-7.2 4.0zM211.3 417.6l7.2 4.0l-7.2 4.0zM208.0 418.2l7.2 4.0l-7.2 4.0zM204.7 418.7l7.2 4.0l-7.2 4.0zM201.5 419.3l7.2 4.0l-7.2 4.0zM198.2 419.8l7.2 4.0l-7.2 4.0zM194.9 420.3l7.2 4.0l-7.2 4.0zM191.7 420.7l7.2 4.0l-7.2 4.0zM188.4 421.1l7.2 4.0l-7.2 4.0zM185.1 421.5l7.2 4.0l-7.2 4.0zM181.8 421.9l7.2 4.0l-7.2 4.0zM178.5 422.3l7.2 4.0l-7.2 4.0zM175.2 422.6l7.2 4.0l-7.2 4.0zM172.0 423.0l7.2 4.0l-7.2 4.0zM168.7 423.3l7.2 4.0l-7.2 4.0zM165.4 423.6l7.2 4.0l-7.2 4.0zM162.1 424.0l7.2 4.0l-7.2 4.0zM158.8 424.3l7.2 4.0l-7.2 4.0zM155.5 424.6l7.2 4.0l-7.2 4.0zM152.2 424.8l7.2 4.0l-7.2 4.0zM148.9 425.1l7.2 4.0l-7.2 4.0zM145.7 425.4l7.2 4.0l-7.2 4.0zM142.4 425.6l7.2 4.0l-7.2 4.0zM139.1 425.9l7.2 4.0l-7.2 4.0zM135.8 426.1l7.2 4.0l-7.2 4.0zM132.5 426.3l7.2 4.0l-7.2 4.0zM129.2 426.5l7.2 4.0l-7.2 4.0zM125.9 426.6l7.2 4.0l-7.2 4.0zM122.6 426.8l7.2 4.0l-7.2 4.0zM119.3 426.9l7.2 4.0l-7.2 4.0zM116.0 427.1l7.2 4.0l-7.2 4.0zM112.7 427.2l7.2 4.0l-7.2 4.0zM109.4 427.3l7.2 4.0l-7.2 4.0zM106.1 427.4l7.2 4.0l-7.2 4.0zM102.8 427.5l7.2 4.0l-7.2 4.0zM99.5 427.6l7.2 4.0l-7.2 4.0zM96.2 427.7l7.2 4.0l-7.2 4.0zM92.9 427.8l7.2 4.0l-7.2 4.0zM89.6 427.9l7.2 4.0l-7.2 4.0zM86.3 428.0l7.2 4.0l-7.2 4.0zM83.0 428.1l7.2 4.0l-7.2 4.0zM81.8 428.3l7.2 4.0l-7.2 4.0zM85.1 428.2l7.2 4.0l-7.2 4.0zM88.3 428.1l7.2 4.0l-7.2 4.0zM91.6 428.0l7.2 4.0l-7.2 4.0zM94.9 427.9l7.2 4.0l-7.2 4.0zM98.2 427.8l7.2 4.0l-7.2 4.0zM101.5 427.7l7.2 4.0l-7.2 4.0zM104.8 427.6l7.2 4.0l-7.2 4.0zM108.1 427.5l7.2 4.0l-7.2 4.0zM111.4 427.4l7.2 4.0l-7.2 4.0zM114.7 427.3l7.2 4.0l-7.2 4.0zM118.0 427.2l7.2 4.0l-7.2 4.0zM121.3 427.1l7.2 4.0l-7.2 4.0zM124.6 426.9l7.2 4.0l-7.2 4.0zM127.9 426.8l7.2 4.0l-7.2 4.0zM131.2 426.7l7.2 4.0l-7.2 4.0zM134.5 426.5l7.2 4.0l-7.2 4.0zM137.8 426.3l7.2 4.0l-7.2 4.0zM141.1 426.1l7.2 4.0l-7.2 4.0zM144.4 425.9l7.2 4.0l-7.2 4.0zM147.7 425.7l7.2 4.0l-7.2 4.0zM151.0 425.4l7.2 4.0l-7.2 4.0zM154.3 425.1l7.2 4.0l-7.2 4.0zM157.6 424.9l7.2 4.0l-7.2 4.0zM160.9 424.6l7.2 4.0l-7.2 4.0zM164.2 424.3l7.2 4.0l-7.2 4.0zM167.4 424.0l7.2 4.0l-7.2 4.0zM170.7 423.7l7.2 4.0l-7.2 4.0zM174.0 423.3l7.2 4.0l-7.2 4.0zM177.3 423.0l7.2 4.0l-7.2 4.0zM180.6 422.7l7.2 4.0l-7.2 4.0zM183.9 422.3l7.2 4.0l-7.2 4.0zM187.2 421.9l7.2 4.0l-7.2 4.0zM190.4 421.6l7.2 4.0l-7.2 4.0zM193.7 421.2l7.2 4.0l-7.2 4.0zM197.0 420.8l7.2 4.0l-7.2 4.0zM200.3 420.3l7.2 4.0l-7.2 4.0zM203.5 419.8l7.2 4.0l-7.2 4.0zM206.8 419.3l7.2 4.0l-7.2 4.0zM210.1 418.8l7.2 4.0l-7.2 4.0zM213.3 418.3l7.2 4.0l-7.2 4.0zM216.6 417.7l7.2 4.0l-7.2 4.0zM219.9 417.1l7.2 4.0l-7.2 4.0zM223.1 416.5l7.2 4.0l-7.2 4.0zM226.4 415.9l7.2 4.0l-7.2 4.0zM229.6 415.2l7.2 4.0l-7.2 4.0zM232.8 414.5l7.2 4.0l-7.2 4.0zM236.1 413.8l7.2 4.0l-7.2 4.0zM239.3 413.1l7.2 4.0l-7.2 4.0zM242.5 412.3l7.2 4.0l-7.2 4.0zM245.7 411.4l7.2 4.0l-7.2 4.0zM248.9 410.5l7.2 4.0l-7.2 4.0zM252.1 409.6l7.2 4.0l-7.2 4.0zM255.3 408.5l7.2 4.0l-7.2 4.0zM258.4 407.3l7.2 4.0l-7.2 4.0zM261.5 406.1l7.2 4.0l-7.2 4.0zM264.6 404.8l7.2 4.0l-7.2 4.0zM267.6 403.4l7.2 4.0l-7.2 4.0zM270.7 402.0l7.2 4.0l-7.2 4.0zM273.7 400.6l7.2 4.0l-7.2 4.0zM276.7 399.1l7.2 4.0l-7.2 4.0zM279.7 397.6l7.2 4.0l-7.2 4.0zM282.7 396.1l7.2 4.0l-7.2 4.0zM285.7 394.6l7.2 4.0l-7.2 4.0zM288.7 392.9l7.2 4.0l-7.2 4.0zM291.6 391.3l7.2 4.0l-7.2 4.0zM294.5 389.6l7.2 4.0l-7.2 4.0zM297.4 387.9l7.2 4.0l-7.2 4.0zM300.3 386.1l7.2 4.0l-7.2 4.0zM303.2 384.4l7.2 4.0l-7.2 4.0zM306.1 382.6l7.2 4.0l-7.2 4.0zM309.0 380.8l7.2 4.0l-7.2 4.0zM311.9 379.1l7.2 4.0l-7.2 4.0zM314.8 377.4l7.2 4.0l-7.2 4.0zM317.7 375.8l7.2 4.0l-7.2 4.0zM320.7 374.1l7.2 4.0l-7.2 4.0zM323.5 372.3l7.2 4.0l-7.2 4.0zM326.3 370.4l7.2 4.0l-7.2 4.0zM329.1 368.3l7.2 4.0l-7.2 4.0zM331.7 366.1l7.2 4.0l-7.2 4.0zM334.2 363.7l7.2 4.0l-7.2 4.0zM336.5 361.2l7.2 4.0l-7.2 4.0zM338.8 358.6l7.2 4.0l-7.2 4.0zM341.0 355.8l7.2 4.0l-7.2 4.0zM343.1 353.1l7.2 4.0l-7.2 4.0zM345.2 350.2l7.2 4.0l-7.2 4.0zM347.1 347.3l7.2 4.0l-7.2 4.0zM349.0 344.3l7.2 4.0l-7.2 4.0zM350.8 341.3l7.2 4.0l-7.2 4.0zM352.4 338.1l7.2 4.0l-7.2 4.0zM353.9 334.9l7.2 4.0l-7.2 4.0zM355.3 331.6l7.2 4.0l-7.2 4.0zM356.5 328.2l7.2 4.0l-7.2 4.0zM357.6 324.8l7.2 4.0l-7.2 4.0zM358.5 321.3l7.2 4.0l-7.2 4.0zM359.4 317.8l7.2 4.0l-7.2 4.0zM360.3 314.3l7.2 4.0l-7.2 4.0zM361.1 310.8l7.2 4.0l-7.2 4.0zM361.8 307.2l7.2 4.0l-7.2 4.0zM362.4 303.7l7.2 4.0l-7.2 4.0zM363.0 300.1l7.2 4.0l-7.2 4.0zM363.4 296.5l7.2 4.0l-7.2 4.0zM363.7 292.9l7.2 4.0l-7.2 4.0zM364.0 289.3l7.2 4.0l-7.2 4.0zM364.3 285.6l7.2 4.0l-7.2 4.0zM364.6 282.0l7.2 4.0l-7.2 4.0zM364.8 278.4l7.2 4.0l-7.2 4.0zM365.0 274.8l7.2 4.0l-7.2 4.0zM365.2 271.1l7.2 4.0l-7.2 4.0zM365.3 267.5l7.2 4.0l-7.2 4.0zM365.5 263.9l7.2 4.0l-7.2 4.0zM365.7 260.3l7.2 4.0l-7.2 4.0zM365.8 256.6l7.2 4.0l-7.2 4.0zM365.9 253.0l7.2 4.0l-7.2 4.0zM366.1 249.4l7.2 4.0l-7.2 4.0zM366.3 245.8l7.2 4.0l-7.2 4.0zM366.4 242.1l7.2 4.0l-7.2 4.0zM366.6 238.5l7.2 4.0l-7.2 4.0zM366.7 234.9l7.2 4.0l-7.2 4.0zM366.9 231.3l7.2 4.0l-7.2 4.0zM367.1 227.6l7.2 4.0l-7.2 4.0zM367.2 224.0l7.2 4.0l-7.2 4.0zM367.4 220.4l7.2 4.0l-7.2 4.0zM367.6 216.8l7.2 4.0l-7.2 4.0zM367.8 213.1l7.2 4.0l-7.2 4.0zM368.0 209.5l7.2 4.0l-7.2 4.0zM368.2 205.9l7.2 4.0l-7.2 4.0zM368.4 202.3l7.2 4.0l-7.2 4.0zM368.7 198.7l7.2 4.0l-7.2 4.0zM368.9 195.0l7.2 4.0l-7.2 4.0zM369.2 191.4l7.2 4.0l-7.2 4.0zM369.4 187.8l7.2 4.0l-7.2 4.0zM369.7 184.2l7.2 4.0l-7.2 4.0zM370.0 180.6l7.2 4.0l-7.2 4.0zM370.3 176.9l7.2 4.0l-7.2 4.0zM370.6 173.3l7.2 4.0l-7.2 4.0zM370.9 169.7l7.2 4.0l-7.2 4.0zM371.3 166.1l7.2 4.0l-7.2 4.0zM371.7 162.5l7.2 4.0l-7.2 4.0zM372.1 158.9l7.2 4.0l-7.2 4.0zM372.5 155.3l7.2 4.0l-7.2 4.0zM373.0 151.7l7.2 4.0l-7.2 4.0zM373.5 148.1l7.2 4.0l-7.2 4.0zM374.1 144.6l7.2 4.0l-7.2 4.0zM374.6 141.0l7.2 4.0l-7.2 4.0zM375.3 137.4l7.2 4.0l-7.2 4.0zM375.9 133.9l7.2 4.0l-7.2 4.0zM376.6 130.3l7.2 4.0l-7.2 4.0zM377.4 126.8l7.2 4.0l-7.2 4.0zM378.4 123.3l7.2 4.0l-7.2 4.0zM379.6 119.9l7.2 4.0l-7.2 4.0zM381.0 116.6l7.2 4.0l-7.2 4.0zM382.6 113.5l7.2 4.0l-7.2 4.0zM384.3 110.4l7.2 4.0l-7.2 4.0zM386.3 107.5l7.2 4.0l-7.2 4.0zM388.4 104.7l7.2 4.0l-7.2 4.0zM390.5 101.9l7.2 4.0l-7.2 4.0zM392.7 99.2l7.2 4.0l-7.2 4.0zM394.9 96.5l7.2 4.0l-7.2 4.0zM397.2 93.9l7.2 4.0l-7.2 4.0zM399.6 91.4l7.2 4.0l-7.2 4.0zM402.1 89.0l7.2 4.0l-7.2 4.0zM404.7 86.8l7.2 4.0l-7.2 4.0zM407.4 84.6l7.2 4.0l-7.2 4.0zM410.1 82.6l7.2 4.0l-7.2 4.0zM412.9 80.7l7.2 4.0l-7.2 4.0zM415.8 78.9l7.2 4.0l-7.2 4.0zM418.6 77.1l7.2 4.0l-7.2 4.0zM421.5 75.3l7.2 4.0l-7.2 4.0zM424.3 73.4l7.2 4.0l-7.2 4.0zM427.1 71.4l7.2 4.0l-7.2 4.0zM429.8 69.3l7.2 4.0l-7.2 4.0zM432.5 67.3l7.2 4.0l-7.2 4.0zM435.3 65.3l7.2 4.0l-7.2 4.0zM438.1 63.4l7.2 4.0l-7.2 4.0zM441.0 61.7l7.2 4.0l-7.2 4.0zM444.1 60.3l7.2 4.0l-7.2 4.0zM447.2 59.0l7.2 4.0l-7.2 4.0zM450.3 57.9l7.2 4.0l-7.2 4.0zM453.5 56.9l7.2 4.0l-7.2 4.0zM456.6 55.9l7.2 4.0l-7.2 4.0zM459.8 55.1l7.2 4.0l-7.2 4.0zM463.0 54.2l7.2 4.0l-7.2 4.0zM466.2 53.3l7.2 4.0l-7.2 4.0zM469.4 52.4l7.2 4.0l-7.2 4.0zM472.7 51.6l7.2 4.0l-7.2 4.0zM475.9 50.8l7.2 4.0l-7.2 4.0zM479.1 50.0l7.2 4.0l-7.2 4.0zM482.3 49.2l7.2 4.0l-7.2 4.0zM485.5 48.4l7.2 4.0l-7.2 4.0zM488.8 47.6l7.2 4.0l-7.2 4.0zM492.0 46.8l7.2 4.0l-7.2 4.0zM495.2 46.0l7.2 4.0l-7.2 4.0zM498.4 45.2l7.2 4.0l-7.2 4.0zM501.6 44.5l7.2 4.0l-7.2 4.0zM504.9 43.7l7.2 4.0l-7.2 4.0zM508.1 43.0l7.2 4.0l-7.2 4.0zM511.4 42.4l7.2 4.0l-7.2 4.0zM514.6 41.8l7.2 4.0l-7.2 4.0zM517.9 41.2l7.2 4.0l-7.2 4.0zM521.1 40.7l7.2 4.0l-7.2 4.0zM524.4 40.1l7.2 4.0l-7.2 4.0zM527.7 39.6l7.2 4.0l-7.2 4.0zM530.9 39.1l7.2 4.0l-7.2 4.0zM534.2 38.6l7.2 4.0l-7.2 4.0zM537.5 38.2l7.2 4.0l-7.2 4.0zM540.8 37.7l7.2 4.0l-7.2 4.0zM544.0 37.4l7.2 4.0l-7.2 4.0zM547.3 37.0l7.2 4.0l-7.2 4.0zM550.6 36.6l7.2 4.0l-7.2 4.0zM553.9 36.3l7.2 4.0l-7.2 4.0zM557.2 35.9l7.2 4.0l-7.2 4.0zM560.5 35.6l7.2 4.0l-7.2 4.0zM563.7 35.3l7.2 4.0l-7.2 4.0zM567.0 35.0l7.2 4.0l-7.2 4.0zM570.3 34.7l7.2 4.0l-7.2 4.0zM573.6 34.4l7.2 4.0l-7.2 4.0zM576.9 34.1l7.2 4.0l-7.2 4.0zM580.2 33.8l7.2 4.0l-7.2 4.0zM583.5 33.6l7.2 4.0l-7.2 4.0zM586.8 33.3l7.2 4.0l-7.2 4.0zM590.1 33.1l7.2 4.0l-7.2 4.0zM593.4 32.9l7.2 4.0l-7.2 4.0zM596.7 32.7l7.2 4.0l-7.2 4.0zM600.0 32.5l7.2 4.0l-7.2 4.0zM603.3 32.3l7.2 4.0l-7.2 4.0zM606.6 32.2l7.2 4.0l-7.2 4.0zM609.8 32.0l7.2 4.0l-7.2 4.0zM613.1 31.9l7.2 4.0l-7.2 4.0zM616.4 31.8l7.2 4.0l-7.2 4.0zM619.7 31.7l7.2 4.0l-7.2 4.0zM623.0 31.6l7.2 4.0l-7.2 4.0zM626.3 31.4l7.2 4.0l-7.2 4.0zM629.6 31.3l7.2 4.0l-7.2 4.0zM632.9 31.3l7.2 4.0l-7.2 4.0zM636.2 31.2l7.2 4.0l-7.2 4.0zM639.5 31.1l7.2 4.0l-7.2 4.0zM642.8 31.0l7.2 4.0l-7.2 4.0zM646.1 30.9l7.2 4.0l-7.2 4.0z" fill="#009E73"/><path d="M649.79 51.47 L648.79 51.50 L647.79 51.53 L646.79 51.56 L645.79 51.60 L644.79 51.63 L643.79 51.66 L642.79 51.69 L641.79 51.72 L640.79 51.75 L639.79 51.78 L638.80 51.81 L637.80 51.84 L636.80 51.87 L635.80 51.90 L634.80 51.93 L633.80 51.96 L632.80 51.99 L631.80 52.02 L630.80 52.05 L629.80 52.08 L628.80 52.11 L627.80 52.14 L626.80 52.17 L625.80 52.21 L624.80 52.24 L623.80 52.27 L622.80 52.30 L621.80 52.33 L620.80 52.36 L619.80 52.40 L618.80 52.43 L617.81 52.47 L616.81 52.50 L615.81 52.53 L614.81 52.57 L613.81 52.61 L612.81 52.64 L611.81 52.68 L610.81 52.72 L609.81 52.76 L608.81 52.80 L607.81 52.84 L606.81 52.88 L605.81 52.92 L604.81 52.96 L603.82 53.01 L602.82 53.05 L601.82 53.10 L600.82 53.14 L599.82 53.19 L598.82 53.24 L597.82 53.29 L596.82 53.34 L595.83 53.40 L594.83 53.45 L593.83 53.51 L592.83 53.57 L591.83 53.63 L590.83 53.69 L589.84 53.75 L588.84 53.81 L587.84 53.88 L586.84 53.95 L585.84 54.02 L584.85 54.08 L583.85 54.16 L582.85 54.23 L581.85 54.30 L580.86 54.38 L579.86 54.45 L578.86 54.53 L577.87 54.60 L576.87 54.68 L575.87 54.76 L574.88 54.84 L573.88 54.93 L572.88 55.01 L571.89 55.09 L570.89 55.18 L569.89 55.26 L568.90 55.35 L567.90 55.44 L566.90 55.52 L565.91 55.61 L564.91 55.70 L563.92 55.79 L562.92 55.88 L561.93 55.97 L560.93 56.06 L559.93 56.16 L558.94 56.25 L557.94 56.34 L556.95 56.44 L555.95 56.53 L554.96 56.63 L553.96 56.72 L552.96 56.82 L551.97 56.91 L550.97 57.01 L549.98 57.10 L548.98 57.20 L547.99 57.30 L546.99 57.40 L546.00 57.49 L545.00 57.59 L544.01 57.69 L543.01 57.79 L542.02 57.88 L541.02 57.98 L540.03 58.08 L539.03 58.18 L538.04 58.28 L537.04 58.38 L536.05 58.48 L535.05 58.59 L534.06 58.70 L533.06 58.81 L532.07 58.92 L531.08 59.03 L530.08 59.14 L529.09 59.25 L528.10 59.37 L527.10 59.48 L526.11 59.60 L525.12 59.72 L524.12 59.84 L523.13 59.96 L522.14 60.08 L521.15 60.20 L520.15 60.32 L519.16 60.45 L518.17 60.57 L517.18 60.69 L516.18 60.82 L515.19 60.94 L514.20 61.07 L513.21 61.19 L512.22 61.32 L511.22 61.44 L510.23 61.57 L509.24 61.69 L508.25 61.82 L507.25 61.94 L506.26 62.06 L505.27 62.18 L504.28 62.30 L503.28 62.42 L502.29 62.54 L501.30 62.65 L500.30 62.77 L499.31 62.88 L498.32 62.99 L497.32 63.11 L496.33 63.23 L495.34 63.34 L494.34 63.46 L493.35 63.58 L492.36 63.71 L491.37 63.83 L490.37 63.96 L489.38 64.09 L488.39 64.23 L487.40 64.37 L486.41 64.52 L485.42 64.66 L484.44 64.82 L483.45 64.98 L482.46 65.14 L481.48 65.31 L480.49 65.49 L479.51 65.68 L478.53 65.87 L477.55 66.08 L476.58 66.30 L475.60 66.53 L474.63 66.77 L473.67 67.03 L472.70 67.29 L471.74 67.55 L470.78 67.83 L469.82 68.12 L468.86 68.41 L467.91 68.71 L466.96 69.02 L466.01 69.33 L465.06 69.65 L464.11 69.97 L463.17 70.30 L462.22 70.63 L461.28 70.97 L460.34 71.31 L459.40 71.66 L458.47 72.00 L457.53 72.36 L456.59 72.71 L455.66 73.06 L454.73 73.42 L453.79 73.78 L452.86 74.14 L451.93 74.50 L450.99 74.86 L450.06 75.22 L449.13 75.58 L448.19 75.94 L447.26 76.29 L446.33 76.65 L445.40 77.02 L444.47 77.39 L443.54 77.76 L442.61 78.14 L441.69 78.52 L440.77 78.91 L439.85 79.30 L438.93 79.69 L438.01 80.09 L437.09 80.49 L436.18 80.90 L435.27 81.31 L434.36 81.72 L433.45 82.14 L432.54 82.56 L431.63 82.98 L430.73 83.41 L429.83 83.84 L428.93 84.27 L428.03 84.71 L427.13 85.15 L426.23 85.60 L425.34 86.05 L424.45 86.50 L423.56 86.95 L422.67 87.41 L421.78 87.87 L420.90 88.33 L420.01 88.80 L419.13 89.27 L418.25 89.75 L417.38 90.24 L416.51 90.73 L415.64 91.23 L414.77 91.73 L413.91 92.24 L413.05 92.75 L412.20 93.27 L411.35 93.79 L410.50 94.31 L409.65 94.85 L408.80 95.38 L407.96 95.92 L407.12 96.46 L406.28 97.01 L405.45 97.56 L404.62 98.11 L403.78 98.67 L402.96 99.23 L402.13 99.79 L401.30 100.36 L400.48 100.93 L399.67 101.51 L398.86 102.09 L398.06 102.69 L397.26 103.29 L396.46 103.90 L395.67 104.51 L394.88 105.12 L394.09 105.74 L393.31 106.35 L392.52 106.97 L391.74 107.59 L390.95 108.22 L390.17 108.84 L389.40 109.47 L388.62 110.11 L387.85 110.74 L387.08 111.38 L386.31 112.02 L385.55 112.66 L384.78 113.31 L384.02 113.95 L383.26 114.60 L382.50 115.25 L381.73 115.90 L380.95 116.52 L380.14 117.11 L379.34 117.70 L378.54 118.31 L377.77 118.95 L377.05 119.63 L376.37 120.37 L375.74 121.14 L375.17 121.97 L374.68 122.84 L374.23 123.73 L373.82 124.64 L373.43 125.56 L373.07 126.50 L372.72 127.43 L372.38 128.38 L372.06 129.32 L371.75 130.27 L371.45 131.23 L371.15 132.18 L370.86 133.14 L370.58 134.10 L370.30 135.06 L370.02 136.02 L369.75 136.98 L369.49 137.95 L369.25 138.92 L369.03 139.89 L368.82 140.87 L368.62 141.85 L368.42 142.83 L368.23 143.81 L368.04 144.79 L367.86 145.78 L367.68 146.76 L367.49 147.74 L367.31 148.73 L367.14 149.71 L366.98 150.70 L366.83 151.69 L366.70 152.68 L366.58 153.67 L366.46 154.66 L366.34 155.66 L366.23 156.65 L366.12 157.64 L366.02 158.64 L365.92 159.63 L365.83 160.63 L365.75 161.63 L365.67 162.62 L365.59 163.62 L365.52 164.62 L365.44 165.62 L365.36 166.61 L365.29 167.61 L365.22 168.61 L365.15 169.61 L365.10 170.60 L365.05 171.60 L365.00 172.60 L364.95 173.60 L364.91 174.60 L364.86 175.60 L364.82 176.60 L364.78 177.60 L364.74 178.60 L364.69 179.59 L364.65 180.59 L364.60 181.59 L364.55 182.59 L364.51 183.59 L364.48 184.59 L364.44 185.59 L364.42 186.59 L364.39 187.59 L364.37 188.59 L364.34 189.59 L364.32 190.59 L364.30 191.59 L364.28 192.59 L364.26 193.59 L364.25 194.59 L364.23 195.59 L364.21 196.59 L364.20 197.59 L364.18 198.59 L364.17 199.59 L364.16 200.59 L364.14 201.59 L364.13 202.59 L364.12 203.59 L364.11 204.59 L364.09 205.59 L364.08 206.59 L364.07 207.59 L364.06 208.59 L364.05 209.59 L364.03 210.59 L364.02 211.59 L364.01 212.59 L364.00 213.59 L363.99 214.59 L363.97 215.59 L363.96 216.59 L363.95 217.59 L363.94 218.59 L363.93 219.58 L363.92 220.58 L363.90 221.58 L363.89 222.58 L363.88 223.58 L363.87 224.58 L363.86 225.58 L363.84 226.58 L363.83 227.58 L363.81 228.58 L363.80 229.58 L363.78 230.58 L363.76 231.58 L363.75 232.58 L363.73 233.58 L363.71 234.58 L363.69 235.58 L363.68 236.58 L363.66 237.58 L363.64 238.58 L363.62 239.58 L363.60 240.58 L363.58 241.58 L363.56 242.58 L363.54 243.58 L363.52 244.58 L363.50 245.58 L363.48 246.58 L363.46 247.58 L363.44 248.58 L363.42 249.58 L363.39 250.58 L363.37 251.58 L363.35 252.58 L363.33 253.58 L363.31 254.58 L363.29 255.58 L363.27 256.58 L363.24 257.58 L363.22 258.58 L363.20 259.58 L363.18 260.58 L363.16 261.58 L363.14 262.58 L363.12 263.58 L363.10 264.58 L363.07 265.58 L363.05 266.58 L363.02 267.58 L362.99 268.58 L362.95 269.57 L362.91 270.57 L362.86 271.57 L362.81 272.57 L362.75 273.57 L362.69 274.57 L362.62 275.57 L362.54 276.56 L362.46 277.56 L362.37 278.56 L362.28 279.55 L362.18 280.55 L362.09 281.54 L361.99 282.54 L361.89 283.53 L361.77 284.53 L361.66 285.52 L361.54 286.51 L361.41 287.50 L361.28 288.50 L361.16 289.49 L361.04 290.48 L360.92 291.47 L360.81 292.47 L360.70 293.46 L360.60 294.46 L360.49 295.45 L360.39 296.44 L360.29 297.44 L360.19 298.43 L360.09 299.43 L359.99 300.42 L359.89 301.42 L359.79 302.41 L359.69 303.41 L359.59 304.40 L359.49 305.40 L359.38 306.39 L359.28 307.39 L359.17 308.38 L359.06 309.38 L358.94 310.37 L358.83 311.36 L358.71 312.36 L358.59 313.35 L358.47 314.34 L358.36 315.33 L358.24 316.33 L358.12 317.32 L358.00 318.31 L357.88 319.31 L357.75 320.30 L357.63 321.29 L357.49 322.28 L357.36 323.27 L357.21 324.26 L357.06 325.25 L356.89 326.24 L356.70 327.22 L356.47 328.19 L356.23 329.16 L355.98 330.13 L355.71 331.09 L355.43 332.05 L355.14 333.01 L354.83 333.96 L354.51 334.91 L354.17 335.85 L353.81 336.78 L353.44 337.71 L353.04 338.63 L352.62 339.53 L352.19 340.43 L351.73 341.33 L351.26 342.21 L350.78 343.08 L350.29 343.96 L349.78 344.82 L349.24 345.66 L348.68 346.49 L348.09 347.30 L347.49 348.09 L346.86 348.87 L346.23 349.64 L345.59 350.41 L344.94 351.18 L344.29 351.94 L343.63 352.69 L342.97 353.43 L342.28 354.17 L341.59 354.88 L340.87 355.58 L340.14 356.27 L339.39 356.92 L338.62 357.56 L337.84 358.18 L337.04 358.79 L336.23 359.38 L335.42 359.96 L334.59 360.52 L333.76 361.08 L332.92 361.63 L332.08 362.17 L331.24 362.70 L330.39 363.23 L329.54 363.77 L328.70 364.30 L327.86 364.84 L327.02 365.38 L326.18 365.93 L325.35 366.49 L324.53 367.05 L323.70 367.62 L322.88 368.18 L322.05 368.75 L321.23 369.32 L320.41 369.89 L319.59 370.46 L318.76 371.03 L317.94 371.59 L317.11 372.16 L316.29 372.72 L315.45 373.27 L314.62 373.83 L313.79 374.38 L312.95 374.92 L312.10 375.45 L311.25 375.98 L310.40 376.50 L309.54 377.01 L308.67 377.52 L307.80 378.00 L306.92 378.48 L306.04 378.96 L305.16 379.43 L304.28 379.89 L303.39 380.35 L302.50 380.81 L301.61 381.26 L300.71 381.71 L299.82 382.16 L298.92 382.60 L298.02 383.03 L297.12 383.47 L296.21 383.89 L295.31 384.32 L294.40 384.74 L293.49 385.15 L292.58 385.56 L291.67 385.97 L290.75 386.38 L289.83 386.77 L288.92 387.17 L288.00 387.56 L287.07 387.95 L286.15 388.33 L285.23 388.71 L284.30 389.09 L283.37 389.46 L282.44 389.83 L281.51 390.20 L280.58 390.56 L279.65 390.92 L278.71 391.28 L277.78 391.64 L276.85 392.00 L275.91 392.36 L274.98 392.72 L274.05 393.08 L273.11 393.44 L272.18 393.79 L271.25 394.15 L270.31 394.50 L269.37 394.85 L268.44 395.20 L267.50 395.55 L266.56 395.89 L265.62 396.23 L264.68 396.57 L263.73 396.90 L262.79 397.22 L261.84 397.54 L260.89 397.86 L259.94 398.17 L258.99 398.47 L258.03 398.76 L257.07 399.05 L256.11 399.33 L255.15 399.61 L254.19 399.87 L253.22 400.13 L252.25 400.37 L251.28 400.61 L250.30 400.83 L249.33 401.04 L248.35 401.24 L247.37 401.43 L246.38 401.61 L245.40 401.79 L244.41 401.96 L243.42 402.12 L242.44 402.27 L241.45 402.43 L240.46 402.57 L239.47 402.71 L238.48 402.85 L237.49 402.98 L236.50 403.12 L235.50 403.24 L234.51 403.37 L233.52 403.49 L232.53 403.61 L231.53 403.73 L230.54 403.84 L229.55 403.96 L228.55 404.07 L227.56 404.19 L226.57 404.30 L225.57 404.42 L224.58 404.53 L223.59 404.65 L222.59 404.77 L221.60 404.89 L220.61 405.01 L219.62 405.13 L218.62 405.26 L217.63 405.38 L216.64 405.51 L215.65 405.63 L214.66 405.76 L213.66 405.88 L212.67 406.01 L211.68 406.13 L210.69 406.26 L209.70 406.38 L208.70 406.50 L207.71 406.63 L206.72 406.75 L205.73 406.87 L204.73 406.99 L203.74 407.11 L202.75 407.23 L201.75 407.35 L200.76 407.47 L199.77 407.58 L198.77 407.70 L197.78 407.81 L196.79 407.93 L195.79 408.04 L194.80 408.15 L193.81 408.26 L192.81 408.37 L191.82 408.47 L190.82 408.58 L189.83 408.68 L188.83 408.78 L187.84 408.88 L186.84 408.98 L185.85 409.08 L184.85 409.17 L183.86 409.27 L182.86 409.37 L181.87 409.47 L180.87 409.57 L179.88 409.66 L178.88 409.76 L177.89 409.86 L176.89 409.95 L175.90 410.05 L174.90 410.15 L173.90 410.24 L172.91 410.34 L171.91 410.43 L170.92 410.53 L169.92 410.62 L168.93 410.71 L167.93 410.81 L166.94 410.90 L165.94 410.99 L164.94 411.08 L163.95 411.17 L162.95 411.26 L161.96 411.35 L160.96 411.44 L159.96 411.53 L158.97 411.62 L157.97 411.70 L156.98 411.79 L155.98 411.87 L154.98 411.96 L153.99 412.04 L152.99 412.12 L151.99 412.20 L151.00 412.28 L150.00 412.36 L149.00 412.44 L148.00 412.52 L147.01 412.59 L146.01 412.67 L145.01 412.74 L144.02 412.82 L143.02 412.89 L142.02 412.96 L141.02 413.03 L140.03 413.09 L139.03 413.16 L138.03 413.22 L137.03 413.29 L136.03 413.35 L135.04 413.41 L134.04 413.47 L133.04 413.53 L132.04 413.58 L131.04 413.64 L130.04 413.69 L129.04 413.74 L128.05 413.79 L127.05 413.84 L126.05 413.89 L125.05 413.93 L124.05 413.98 L123.05 414.02 L122.05 414.06 L121.05 414.11 L120.05 414.15 L119.05 414.19 L118.06 414.23 L117.06 414.27 L116.06 414.30 L115.06 414.34 L114.06 414.38 L113.06 414.42 L112.06 414.45 L111.06 414.49 L110.06 414.52 L109.06 414.55 L108.06 414.59 L107.06 414.62 L106.06 414.65 L105.06 414.69 L104.06 414.72 L103.06 414.75 L102.07 414.78 L101.07 414.81 L100.07 414.84 L99.07 414.87 L98.07 414.91 L97.07 414.94 L96.07 414.97 L95.07 415.00 L94.07 415.03 L93.07 415.06 L92.07 415.09 L91.07 415.12 L90.07 415.15 L89.07 415.18 L88.07 415.21 L87.07 415.24 L86.07 415.27 L85.07 415.30 L84.07 415.33 L83.21 415.49 L84.17 415.50 L85.17 415.47 L86.17 415.44 L87.17 415.41 L88.17 415.37 L89.17 415.34 L90.17 415.31 L91.17 415.28 L92.17 415.25 L93.17 415.22 L94.17 415.19 L95.17 415.16 L96.17 415.13 L97.17 415.10 L98.17 415.07 L99.17 415.04 L100.17 415.01 L101.17 414.98 L102.17 414.95 L103.17 414.92 L104.17 414.89 L105.16 414.86 L106.16 414.83 L107.16 414.80 L108.16 414.76 L109.16 414.73 L110.16 414.70 L111.16 414.67 L112.16 414.64 L113.16 414.60 L114.16 414.57 L115.16 414.54 L116.16 414.50 L117.16 414.47 L118.16 414.43 L119.16 414.39 L120.16 414.36 L121.16 414.32 L122.16 414.28 L123.15 414.24 L124.15 414.20 L125.15 414.16 L126.15 414.12 L127.15 414.08 L128.15 414.04 L129.15 414.00 L130.15 413.95 L131.15 413.91 L132.15 413.86 L133.15 413.81 L134.14 413.76 L135.14 413.71 L136.14 413.66 L137.14 413.61 L138.14 413.55 L139.14 413.49 L140.13 413.44 L141.13 413.38 L142.13 413.31 L143.13 413.25 L144.13 413.19 L145.13 413.12 L146.12 413.06 L147.12 412.99 L148.12 412.92 L149.12 412.85 L150.11 412.78 L151.11 412.70 L152.11 412.63 L153.10 412.55 L154.10 412.48 L155.10 412.40 L156.10 412.32 L157.09 412.24 L158.09 412.16 L159.09 412.08 L160.08 411.99 L161.08 411.91 L162.08 411.83 L163.07 411.74 L164.07 411.65 L165.06 411.57 L166.06 411.48 L167.06 411.39 L168.05 411.30 L169.05 411.21 L170.04 411.12 L171.04 411.03 L172.04 410.94 L173.03 410.85 L174.03 410.75 L175.02 410.66 L176.02 410.57 L177.01 410.47 L178.01 410.38 L179.00 410.28 L180.00 410.19 L181.00 410.09 L181.99 410.00 L182.99 409.90 L183.98 409.80 L184.98 409.71 L185.97 409.61 L186.97 409.51 L187.96 409.41 L188.96 409.32 L189.95 409.22 L190.95 409.12 L191.94 409.02 L192.94 408.92 L193.93 408.83 L194.93 408.73 L195.92 408.62 L196.92 408.52 L197.91 408.41 L198.91 408.31 L199.90 408.20 L200.90 408.09 L201.89 407.98 L202.88 407.86 L203.88 407.75 L204.87 407.64 L205.86 407.52 L206.86 407.40 L207.85 407.28 L208.84 407.16 L209.83 407.04 L210.83 406.92 L211.82 406.80 L212.81 406.68 L213.80 406.56 L214.80 406.43 L215.79 406.31 L216.78 406.19 L217.77 406.06 L218.77 405.94 L219.76 405.81 L220.75 405.69 L221.74 405.56 L222.73 405.44 L223.73 405.31 L224.72 405.19 L225.71 405.06 L226.70 404.94 L227.70 404.82 L228.69 404.70 L229.68 404.58 L230.68 404.47 L231.67 404.35 L232.66 404.24 L233.66 404.12 L234.65 404.01 L235.64 403.89 L236.64 403.78 L237.63 403.66 L238.62 403.54 L239.61 403.42 L240.61 403.30 L241.60 403.17 L242.59 403.04 L243.58 402.91 L244.57 402.77 L245.56 402.63 L246.55 402.49 L247.54 402.34 L248.53 402.19 L249.52 402.03 L250.50 401.86 L251.49 401.69 L252.47 401.51 L253.45 401.33 L254.44 401.13 L255.41 400.93 L256.39 400.71 L257.36 400.47 L258.33 400.23 L259.30 399.98 L260.27 399.72 L261.23 399.45 L262.19 399.18 L263.15 398.89 L264.10 398.60 L265.06 398.30 L266.01 397.99 L266.96 397.68 L267.91 397.36 L268.86 397.04 L269.80 396.71 L270.74 396.38 L271.68 396.04 L272.62 395.70 L273.56 395.35 L274.50 395.01 L275.44 394.66 L276.37 394.30 L277.31 393.95 L278.24 393.59 L279.18 393.23 L280.11 392.88 L281.04 392.52 L281.97 392.16 L282.91 391.80 L283.84 391.44 L284.77 391.08 L285.71 390.72 L286.64 390.36 L287.57 389.99 L288.50 389.62 L289.43 389.25 L290.35 388.87 L291.28 388.49 L292.20 388.10 L293.12 387.71 L294.04 387.32 L294.96 386.92 L295.87 386.52 L296.79 386.12 L297.70 385.71 L298.61 385.30 L299.52 384.88 L300.43 384.46 L301.33 384.03 L302.24 383.61 L303.14 383.18 L304.04 382.74 L304.94 382.30 L305.84 381.86 L306.73 381.42 L307.63 380.97 L308.52 380.52 L309.41 380.06 L310.30 379.61 L311.19 379.15 L312.07 378.68 L312.96 378.21 L313.84 377.74 L314.72 377.26 L315.59 376.78 L316.46 376.29 L317.33 375.79 L318.20 375.29 L319.06 374.78 L319.92 374.27 L320.77 373.75 L321.63 373.23 L322.48 372.70 L323.32 372.17 L324.17 371.64 L325.01 371.10 L325.85 370.56 L326.69 370.01 L327.52 369.46 L328.36 368.91 L329.19 368.35 L330.02 367.79 L330.84 367.23 L331.67 366.66 L332.49 366.09 L333.30 365.51 L334.11 364.93 L334.92 364.33 L335.72 363.73 L336.51 363.13 L337.30 362.52 L338.09 361.90 L338.88 361.29 L339.67 360.67 L340.45 360.05 L341.24 359.43 L342.02 358.80 L342.80 358.18 L343.58 357.55 L344.35 356.92 L345.12 356.28 L345.89 355.64 L346.66 355.00 L347.43 354.36 L348.19 353.71 L348.95 353.07 L349.72 352.42 L350.48 351.77 L351.24 351.13 L352.02 350.50 L352.83 349.91 L353.64 349.32 L354.43 348.71 L355.20 348.07 L355.93 347.39 L356.61 346.66 L357.24 345.88 L357.81 345.06 L358.31 344.19 L358.75 343.30 L359.17 342.39 L359.55 341.47 L359.92 340.54 L360.27 339.60 L360.60 338.66 L360.93 337.71 L361.24 336.76 L361.54 335.81 L361.84 334.85 L362.13 333.90 L362.41 332.94 L362.69 331.98 L362.97 331.02 L363.24 330.05 L363.50 329.09 L363.74 328.12 L363.96 327.14 L364.17 326.16 L364.38 325.18 L364.57 324.20 L364.76 323.22 L364.95 322.24 L365.14 321.26 L365.32 320.27 L365.50 319.29 L365.68 318.31 L365.85 317.32 L366.01 316.34 L366.16 315.35 L366.30 314.36 L366.42 313.36 L366.54 312.37 L366.66 311.38 L366.77 310.38 L366.88 309.39 L366.98 308.40 L367.08 307.40 L367.17 306.40 L367.25 305.41 L367.33 304.41 L367.40 303.41 L367.48 302.42 L367.56 301.42 L367.63 300.42 L367.71 299.43 L367.78 298.43 L367.84 297.43 L367.90 296.43 L367.95 295.43 L368.00 294.43 L368.05 293.43 L368.09 292.44 L368.14 291.44 L368.18 290.44 L368.22 289.44 L368.26 288.44 L368.31 287.44 L368.35 286.44 L368.40 285.44 L368.45 284.44 L368.49 283.44 L368.52 282.45 L368.55 281.45 L368.58 280.45 L368.61 279.45 L368.63 278.45 L368.66 277.45 L368.68 276.45 L368.70 275.45 L368.72 274.45 L368.73 273.45 L368.75 272.45 L368.77 271.45 L368.78 270.45 L368.80 269.45 L368.81 268.45 L368.83 267.45 L368.84 266.45 L368.86 265.45 L368.87 264.45 L368.88 263.45 L368.89 262.45 L368.91 261.45 L368.92 260.45 L368.93 259.45 L368.94 258.45 L368.95 257.45 L368.97 256.45 L368.98 255.45 L368.99 254.45 L369.00 253.45 L369.01 252.45 L369.03 251.45 L369.04 250.45 L369.05 249.45 L369.06 248.45 L369.07 247.45 L369.08 246.45 L369.10 245.45 L369.11 244.45 L369.12 243.45 L369.13 242.45 L369.14 241.45 L369.15 240.45 L369.17 239.45 L369.18 238.45 L369.20 237.45 L369.22 236.45 L369.23 235.45 L369.25 234.45 L369.27 233.45 L369.29 232.45 L369.31 231.45 L369.32 230.45 L369.34 229.45 L369.36 228.45 L369.38 227.45 L369.40 226.45 L369.42 225.45 L369.44 224.45 L369.46 223.45 L369.48 222.45 L369.50 221.45 L369.52 220.45 L369.54 219.45 L369.56 218.45 L369.58 217.45 L369.61 216.45 L369.63 215.45 L369.65 214.46 L369.67 213.46 L369.69 212.46 L369.71 211.46 L369.73 210.46 L369.75 209.46 L369.77 208.46 L369.80 207.46 L369.82 206.46 L369.84 205.46 L369.86 204.46 L369.88 203.46 L369.90 202.46 L369.93 201.46 L369.95 200.46 L369.98 199.46 L370.01 198.46 L370.04 197.46 L370.09 196.46 L370.14 195.46 L370.19 194.46 L370.25 193.47 L370.31 192.47 L370.38 191.47 L370.45 190.47 L370.54 189.48 L370.63 188.48 L370.72 187.48 L370.81 186.49 L370.91 185.49 L371.01 184.50 L371.11 183.50 L371.22 182.51 L371.34 181.52 L371.46 180.52 L371.58 179.53 L371.71 178.54 L371.84 177.55 L371.96 176.55 L372.07 175.56 L372.19 174.57 L372.29 173.57 L372.40 172.58 L372.50 171.58 L372.61 170.59 L372.71 169.60 L372.81 168.60 L372.91 167.61 L373.01 166.61 L373.11 165.62 L373.21 164.62 L373.31 163.63 L373.41 162.63 L373.51 161.64 L373.62 160.64 L373.72 159.65 L373.83 158.65 L373.94 157.66 L374.05 156.67 L374.17 155.67 L374.28 154.68 L374.40 153.69 L374.51 152.69 L374.62 151.70 L374.74 150.70 L374.85 149.71 L374.96 148.72 L375.08 147.72 L375.20 146.73 L375.32 145.74 L375.44 144.75 L375.57 143.75 L375.70 142.76 L375.84 141.77 L376.00 140.78 L376.16 139.80 L376.35 138.82 L376.58 137.84 L376.84 136.88 L377.14 135.92 L377.47 134.98 L377.85 134.05 L378.26 133.14 L378.69 132.24 L379.11 131.33 L379.49 130.41 L379.84 129.47 L380.14 128.52 L380.40 127.55 L380.62 126.58 L380.79 125.59 L380.94 124.60 L381.09 123.61 L381.23 122.62 L381.37 121.63 L381.52 120.64 L381.69 119.66 L381.90 118.68 L382.26 117.75 L382.68 116.84 L383.13 115.95 L383.62 115.08 L384.15 114.23 L384.73 113.41 L385.35 112.63 L386.02 111.89 L386.74 111.19 L387.49 110.53 L388.26 109.89 L389.03 109.26 L389.79 108.60 L390.52 107.92 L391.24 107.23 L391.98 106.56 L392.73 105.90 L393.50 105.26 L394.29 104.65 L395.10 104.06 L395.93 103.50 L396.77 102.96 L397.63 102.44 L398.49 101.94 L399.36 101.45 L400.25 100.98 L401.14 100.52 L402.03 100.08 L402.93 99.64 L403.83 99.20 L404.73 98.77 L405.63 98.34 L406.53 97.90 L407.43 97.46 L408.33 97.02 L409.23 96.59 L410.13 96.16 L411.04 95.73 L411.94 95.31 L412.85 94.89 L413.76 94.47 L414.67 94.06 L415.58 93.64 L416.49 93.22 L417.40 92.80 L418.30 92.38 L419.20 91.95 L420.11 91.52 L421.00 91.08 L421.90 90.63 L422.79 90.18 L423.68 89.73 L424.58 89.28 L425.47 88.84 L426.38 88.41 L427.28 87.97 L428.17 87.53 L429.07 87.10 L429.97 86.66 L430.87 86.22 L431.77 85.78 L432.67 85.34 L433.57 84.91 L434.47 84.47 L435.37 84.04 L436.27 83.60 L437.17 83.17 L438.08 82.74 L438.98 82.31 L439.88 81.89 L440.79 81.46 L441.70 81.04 L442.61 80.62 L443.52 80.21 L444.43 79.80 L445.34 79.39 L446.26 78.99 L447.18 78.59 L448.09 78.20 L449.02 77.81 L449.94 77.43 L450.87 77.05 L451.80 76.68 L452.73 76.32 L453.66 75.96 L454.59 75.60 L455.53 75.24 L456.46 74.88 L457.39 74.52 L458.33 74.16 L459.26 73.80 L460.19 73.45 L461.13 73.09 L462.06 72.73 L463.00 72.38 L463.93 72.03 L464.87 71.68 L465.81 71.34 L466.75 71.00 L467.69 70.66 L468.63 70.33 L469.58 70.00 L470.52 69.67 L471.47 69.35 L472.42 69.04 L473.37 68.73 L474.33 68.43 L475.28 68.14 L476.24 67.85 L477.20 67.58 L478.17 67.31 L479.13 67.04 L480.10 66.79 L481.07 66.55 L482.04 66.32 L483.02 66.10 L484.00 65.89 L484.98 65.69 L485.96 65.51 L486.94 65.33 L487.93 65.16 L488.91 64.99 L489.90 64.83 L490.89 64.68 L491.88 64.53 L492.87 64.38 L493.86 64.24 L494.85 64.10 L495.84 63.97 L496.83 63.84 L497.82 63.72 L498.81 63.59 L499.81 63.47 L500.80 63.35 L501.79 63.24 L502.79 63.12 L503.78 63.00 L504.77 62.89 L505.77 62.77 L506.76 62.66 L507.75 62.54 L508.75 62.43 L509.74 62.31 L510.73 62.19 L511.73 62.07 L512.72 61.95 L513.71 61.83 L514.70 61.70 L515.69 61.58 L516.69 61.45 L517.68 61.33 L518.67 61.20 L519.66 61.08 L520.66 60.95 L521.65 60.83 L522.64 60.70 L523.63 60.58 L524.62 60.46 L525.62 60.33 L526.61 60.21 L527.60 60.09 L528.59 59.97 L529.59 59.85 L530.58 59.73 L531.57 59.61 L532.57 59.49 L533.56 59.38 L534.55 59.26 L535.55 59.15 L536.54 59.04 L537.53 58.92 L538.53 58.81 L539.52 58.70 L540.52 58.60 L541.51 58.49 L542.50 58.39 L543.50 58.29 L544.49 58.19 L545.49 58.09 L546.48 57.99 L547.48 57.89 L548.48 57.79 L549.47 57.70 L550.47 57.60 L551.46 57.50 L552.46 57.40 L553.45 57.31 L554.45 57.21 L555.44 57.11 L556.44 57.02 L557.43 56.92 L558.43 56.82 L559.42 56.73 L560.42 56.63 L561.41 56.54 L562.41 56.44 L563.41 56.35 L564.40 56.26 L565.40 56.16 L566.39 56.07 L567.39 55.98 L568.38 55.89 L569.38 55.80 L570.38 55.71 L571.37 55.62 L572.37 55.53 L573.36 55.44 L574.36 55.35 L575.36 55.27 L576.35 55.18 L577.35 55.10 L578.35 55.01 L579.34 54.93 L580.34 54.85 L581.34 54.77 L582.33 54.69 L583.33 54.61 L584.33 54.53 L585.32 54.46 L586.32 54.38 L587.32 54.31 L588.32 54.23 L589.31 54.16 L590.31 54.09 L591.31 54.02 L592.31 53.95 L593.30 53.88 L594.30 53.82 L595.30 53.75 L596.30 53.69 L597.30 53.63 L598.29 53.57 L599.29 53.51 L600.29 53.45 L601.29 53.40 L602.29 53.35 L603.29 53.29 L604.28 53.24 L605.28 53.19 L606.28 53.15 L607.28 53.10 L608.28 53.05 L609.28 53.01 L610.28 52.97 L611.28 52.92 L612.28 52.88 L613.28 52.84 L614.27 52.80 L615.27 52.76 L616.27 52.72 L617.27 52.68 L618.27 52.65 L619.27 52.61 L620.27 52.57 L621.27 52.54 L622.27 52.50 L623.27 52.47 L624.27 52.43 L625.27 52.40 L626.27 52.37 L627.27 52.33 L628.27 52.30 L629.27 52.27 L630.26 52.24 L631.26 52.21 L632.26 52.18 L633.26 52.15 L634.26 52.12 L635.26 52.08 L636.26 52.05 L637.26 52.02 L638.26 51.99 L639.26 51.96 L640.26 51.93 L641.26 51.90 L642.26 51.87 L643.26 51.84 L644.26 51.81 L645.26 51.78 L646.26 51.75 L647.26 51.72 L648.26 51.69 L649.26 51.66" fill="none" stroke="#E69F00" stroke-width="1.5"/><path d="M649.8 46.7l4.3 7.2h-8.6zM646.5 46.8l4.3 7.2h-8.6zM643.2 46.9l4.3 7.2h-8.6zM639.9 47.0l4.3 7.2h-8.6zM636.6 47.1l4.3 7.2h-8.6zM633.3 47.2l4.3 7.2h-8.6zM630.0 47.3l4.3 7.2h-8.6zM626.7 47.4l4.3 7.2h-8.6zM623.4 47.5l4.3 7.2h-8.6zM620.1 47.6l4.3 7.2h-8.6zM616.8 47.7l4.3 7.2h-8.6zM613.5 47.8l4.3 7.2h-8.6zM610.2 47.9l4.3 7.2h-8.6zM606.9 48.1l4.3 7.2h-8.6zM603.6 48.2l4.3 7.2h-8.6zM600.3 48.4l4.3 7.2h-8.6zM597.0 48.5l4.3 7.2h-8.6zM593.7 48.7l4.3 7.2h-8.6zM590.4 48.9l4.3 7.2h-8.6zM587.1 49.1l4.3 7.2h-8.6zM583.8 49.3l4.3 7.2h-8.6zM580.5 49.6l4.3 7.2h-8.6zM577.3 49.8l4.3 7.2h-8.6zM574.0 50.1l4.3 7.2h-8.6zM570.7 50.4l4.3 7.2h-8.6zM567.4 50.7l4.3 7.2h-8.6zM564.1 51.0l4.3 7.2h-8.6zM560.8 51.3l4.3 7.2h-8.6zM557.5 51.6l4.3 7.2h-8.6zM554.2 51.9l4.3 7.2h-8.6zM550.9 52.2l4.3 7.2h-8.6zM547.7 52.5l4.3 7.2h-8.6zM544.4 52.8l4.3 7.2h-8.6zM541.1 53.2l4.3 7.2h-8.6zM537.8 53.5l4.3 7.2h-8.6zM534.5 53.8l4.3 7.2h-8.6zM531.2 54.2l4.3 7.2h-8.6zM527.9 54.6l4.3 7.2h-8.6zM524.7 55.0l4.3 7.2h-8.6zM521.4 55.4l4.3 7.2h-8.6zM518.1 55.8l4.3 7.2h-8.6zM514.8 56.2l4.3 7.2h-8.6zM511.5 56.6l4.3 7.2h-8.6zM508.3 57.0l4.3 7.2h-8.6zM505.0 57.4l4.3 7.2h-8.6zM501.7 57.8l4.3 7.2h-8.6zM498.4 58.2l4.3 7.2h-8.6zM495.1 58.6l4.3 7.2h-8.6zM491.9 59.0l4.3 7.2h-8.6zM488.6 59.4l4.3 7.2h-8.6zM485.3 59.9l4.3 7.2h-8.6zM482.1 60.4l4.3 7.2h-8.6zM478.8 61.0l4.3 7.2h-8.6zM475.6 61.7l4.3 7.2h-8.6zM472.4 62.6l4.3 7.2h-8.6zM469.2 63.5l4.3 7.2h-8.6zM466.0 64.5l4.3 7.2h-8.6zM462.8 65.6l4.3 7.2h-8.6zM459.7 66.7l4.3 7.2h-8.6zM456.6 67.9l4.3 7.2h-8.6zM453.5 69.1l4.3 7.2h-8.6zM450.4 70.3l4.3 7.2h-8.6zM447.2 71.5l4.3 7.2h-8.6zM444.1 72.7l4.3 7.2h-8.6zM441.0 74.0l4.3 7.2h-8.6zM438.0 75.3l4.3 7.2h-8.6zM434.9 76.7l4.3 7.2h-8.6zM431.9 78.1l4.3 7.2h-8.6zM428.8 79.5l4.3 7.2h-8.6zM425.8 81.0l4.3 7.2h-8.6zM422.8 82.5l4.3 7.2h-8.6zM419.9 84.1l4.3 7.2h-8.6zM416.9 85.7l4.3 7.2h-8.6zM414.0 87.4l4.3 7.2h-8.6zM411.1 89.1l4.3 7.2h-8.6zM408.2 90.9l4.3 7.2h-8.6zM405.4 92.8l4.3 7.2h-8.6zM402.6 94.7l4.3 7.2h-8.6zM399.8 96.6l4.3 7.2h-8.6zM397.0 98.6l4.3 7.2h-8.6zM394.3 100.7l4.3 7.2h-8.6zM391.7 102.8l4.3 7.2h-8.6zM389.0 105.0l4.3 7.2h-8.6zM386.4 107.2l4.3 7.2h-8.6zM383.7 109.4l4.3 7.2h-8.6zM381.1 111.6l4.3 7.2h-8.6zM378.4 113.6l4.3 7.2h-8.6zM375.9 116.1l4.3 7.2h-8.6zM374.1 119.1l4.3 7.2h-8.6zM372.8 122.4l4.3 7.2h-8.6zM371.6 125.8l4.3 7.2h-8.6zM370.6 129.2l4.3 7.2h-8.6zM369.6 132.7l4.3 7.2h-8.6zM368.8 136.2l4.3 7.2h-8.6zM368.1 139.8l4.3 7.2h-8.6zM367.4 143.3l4.3 7.2h-8.6zM366.8 146.9l4.3 7.2h-8.6zM366.4 150.5l4.3 7.2h-8.6zM366.0 154.1l4.3 7.2h-8.6zM365.7 157.7l4.3 7.2h-8.6zM365.4 161.3l4.3 7.2h-8.6zM365.1 164.9l4.3 7.2h-8.6zM365.0 168.6l4.3 7.2h-8.6zM364.8 172.2l4.3 7.2h-8.6zM364.6 175.8l4.3 7.2h-8.6zM364.5 179.4l4.3 7.2h-8.6zM364.4 183.1l4.3 7.2h-8.6zM364.3 186.7l4.3 7.2h-8.6zM364.2 190.3l4.3 7.2h-8.6zM364.2 194.0l4.3 7.2h-8.6zM364.1 197.6l4.3 7.2h-8.6zM364.1 201.2l4.3 7.2h-8.6zM364.0 204.9l4.3 7.2h-8.6zM364.0 208.5l4.3 7.2h-8.6zM364.0 212.1l4.3 7.2h-8.6zM363.9 215.7l4.3 7.2h-8.6zM363.9 219.4l4.3 7.2h-8.6zM363.8 223.0l4.3 7.2h-8.6zM363.8 226.6l4.3 7.2h-8.6zM363.7 230.3l4.3 7.2h-8.6zM363.6 233.9l4.3 7.2h-8.6zM363.6 237.5l4.3 7.2h-8.6zM363.5 241.1l4.3 7.2h-8.6zM363.4 244.8l4.3 7.2h-8.6zM363.3 248.4l4.3 7.2h-8.6zM363.3 252.0l4.3 7.2h-8.6zM363.2 255.7l4.3 7.2h-8.6zM363.1 259.3l4.3 7.2h-8.6zM363.0 262.9l4.3 7.2h-8.6zM362.9 266.5l4.3 7.2h-8.6zM362.7 270.2l4.3 7.2h-8.6zM362.4 273.8l4.3 7.2h-8.6zM362.0 277.4l4.3 7.2h-8.6zM361.6 281.0l4.3 7.2h-8.6zM361.2 284.6l4.3 7.2h-8.6zM360.8 288.2l4.3 7.2h-8.6zM360.4 291.8l4.3 7.2h-8.6zM360.0 295.4l4.3 7.2h-8.6zM359.6 299.0l4.3 7.2h-8.6zM359.3 302.6l4.3 7.2h-8.6zM358.9 306.2l4.3 7.2h-8.6zM358.4 309.8l4.3 7.2h-8.6zM358.0 313.4l4.3 7.2h-8.6zM357.6 317.0l4.3 7.2h-8.6zM357.0 320.6l4.3 7.2h-8.6zM356.3 324.1l4.3 7.2h-8.6zM355.3 327.6l4.3 7.2h-8.6zM354.2 331.0l4.3 7.2h-8.6zM352.8 334.3l4.3 7.2h-8.6zM351.2 337.5l4.3 7.2h-8.6zM349.4 340.5l4.3 7.2h-8.6zM347.4 343.4l4.3 7.2h-8.6zM345.2 346.1l4.3 7.2h-8.6zM342.9 348.7l4.3 7.2h-8.6zM340.5 351.2l4.3 7.2h-8.6zM337.8 353.4l4.3 7.2h-8.6zM335.1 355.4l4.3 7.2h-8.6zM332.3 357.2l4.3 7.2h-8.6zM329.4 359.0l4.3 7.2h-8.6zM326.5 360.9l4.3 7.2h-8.6zM323.7 362.8l4.3 7.2h-8.6zM320.9 364.7l4.3 7.2h-8.6zM318.1 366.6l4.3 7.2h-8.6zM315.3 368.5l4.3 7.2h-8.6zM312.5 370.4l4.3 7.2h-8.6zM309.6 372.2l4.3 7.2h-8.6zM306.7 373.8l4.3 7.2h-8.6zM303.7 375.4l4.3 7.2h-8.6zM300.7 376.9l4.3 7.2h-8.6zM297.7 378.4l4.3 7.2h-8.6zM294.7 379.8l4.3 7.2h-8.6zM291.6 381.2l4.3 7.2h-8.6zM288.5 382.5l4.3 7.2h-8.6zM285.5 383.8l4.3 7.2h-8.6zM282.4 385.1l4.3 7.2h-8.6zM279.2 386.3l4.3 7.2h-8.6zM276.1 387.5l4.3 7.2h-8.6zM273.0 388.7l4.3 7.2h-8.6zM269.9 389.8l4.3 7.2h-8.6zM266.8 391.0l4.3 7.2h-8.6zM263.6 392.1l4.3 7.2h-8.6zM260.5 393.2l4.3 7.2h-8.6zM257.3 394.2l4.3 7.2h-8.6zM254.1 395.1l4.3 7.2h-8.6zM250.9 395.9l4.3 7.2h-8.6zM247.6 396.6l4.3 7.2h-8.6zM244.4 397.1l4.3 7.2h-8.6zM241.1 397.7l4.3 7.2h-8.6zM237.8 398.1l4.3 7.2h-8.6zM234.6 398.5l4.3 7.2h-8.6zM231.3 398.9l4.3 7.2h-8.6zM228.0 399.3l4.3 7.2h-8.6zM224.7 399.7l4.3 7.2h-8.6zM221.4 400.1l4.3 7.2h-8.6zM218.2 400.5l4.3 7.2h-8.6zM214.9 400.9l4.3 7.2h-8.6zM211.6 401.3l4.3 7.2h-8.6zM208.3 401.7l4.3 7.2h-8.6zM205.0 402.1l4.3 7.2h-8.6zM201.8 402.5l4.3 7.2h-8.6zM198.5 402.9l4.3 7.2h-8.6zM195.2 403.3l4.3 7.2h-8.6zM191.9 403.6l4.3 7.2h-8.6zM188.6 404.0l4.3 7.2h-8.6zM185.3 404.3l4.3 7.2h-8.6zM182.1 404.6l4.3 7.2h-8.6zM178.8 405.0l4.3 7.2h-8.6zM175.5 405.3l4.3 7.2h-8.6zM172.2 405.6l4.3 7.2h-8.6zM168.9 405.9l4.3 7.2h-8.6zM165.6 406.2l4.3 7.2h-8.6zM162.3 406.5l4.3 7.2h-8.6zM159.0 406.8l4.3 7.2h-8.6zM155.8 407.1l4.3 7.2h-8.6zM152.5 407.3l4.3 7.2h-8.6zM149.2 407.6l4.3 7.2h-8.6zM145.9 407.9l4.3 7.2h-8.6zM142.6 408.1l4.3 7.2h-8.6zM139.3 408.3l4.3 7.2h-8.6zM136.0 408.5l4.3 7.2h-8.6zM132.7 408.7l4.3 7.2h-8.6zM129.4 408.9l4.3 7.2h-8.6zM126.1 409.1l4.3 7.2h-8.6zM122.8 409.2l4.3 7.2h-8.6zM119.5 409.4l4.3 7.2h-8.6zM116.2 409.5l4.3 7.2h-8.6zM112.9 409.6l4.3 7.2h-8.6zM109.6 409.7l4.3 7.2h-8.6zM106.3 409.8l4.3 7.2h-8.6zM103.0 409.9l4.3 7.2h-8.6zM99.7 410.0l4.3 7.2h-8.6zM96.4 410.1l4.3 7.2h-8.6zM93.1 410.2l4.3 7.2h-8.6zM89.8 410.3l4.3 7.2h-8.6zM86.5 410.4l4.3 7.2h-8.6zM83.2 410.5l4.3 7.2h-8.6zM86.3 410.6l4.3 7.2h-8.6zM89.6 410.5l4.3 7.2h-8.6zM92.9 410.4l4.3 7.2h-8.6zM96.2 410.3l4.3 7.2h-8.6zM99.5 410.2l4.3 7.2h-8.6zM102.8 410.1l4.3 7.2h-8.6zM106.1 410.0l4.3 7.2h-8.6zM109.4 409.9l4.3 7.2h-8.6zM112.7 409.8l4.3 7.2h-8.6zM116.0 409.7l4.3 7.2h-8.6zM119.3 409.6l4.3 7.2h-8.6zM122.6 409.4l4.3 7.2h-8.6zM125.9 409.3l4.3 7.2h-8.6zM129.2 409.2l4.3 7.2h-8.6zM132.5 409.0l4.3 7.2h-8.6zM135.8 408.9l4.3 7.2h-8.6zM139.1 408.7l4.3 7.2h-8.6zM142.4 408.5l4.3 7.2h-8.6zM145.7 408.3l4.3 7.2h-8.6zM149.0 408.0l4.3 7.2h-8.6zM152.3 407.8l4.3 7.2h-8.6zM155.6 407.5l4.3 7.2h-8.6zM158.9 407.3l4.3 7.2h-8.6zM162.2 407.0l4.3 7.2h-8.6zM165.4 406.7l4.3 7.2h-8.6zM168.7 406.4l4.3 7.2h-8.6zM172.0 406.1l4.3 7.2h-8.6zM175.3 405.8l4.3 7.2h-8.6zM178.6 405.5l4.3 7.2h-8.6zM181.9 405.2l4.3 7.2h-8.6zM185.2 404.9l4.3 7.2h-8.6zM188.5 404.5l4.3 7.2h-8.6zM191.7 404.2l4.3 7.2h-8.6zM195.0 403.9l4.3 7.2h-8.6zM198.3 403.6l4.3 7.2h-8.6zM201.6 403.2l4.3 7.2h-8.6zM204.9 402.8l4.3 7.2h-8.6zM208.2 402.4l4.3 7.2h-8.6zM211.4 402.0l4.3 7.2h-8.6zM214.7 401.6l4.3 7.2h-8.6zM218.0 401.2l4.3 7.2h-8.6zM221.3 400.8l4.3 7.2h-8.6zM224.6 400.4l4.3 7.2h-8.6zM227.8 400.0l4.3 7.2h-8.6zM231.1 399.6l4.3 7.2h-8.6zM234.4 399.2l4.3 7.2h-8.6zM237.7 398.8l4.3 7.2h-8.6zM241.0 398.4l4.3 7.2h-8.6zM244.2 398.0l4.3 7.2h-8.6zM247.5 397.5l4.3 7.2h-8.6zM250.8 397.0l4.3 7.2h-8.6zM254.0 396.4l4.3 7.2h-8.6zM257.3 395.7l4.3 7.2h-8.6zM260.5 394.8l4.3 7.2h-8.6zM263.7 393.9l4.3 7.2h-8.6zM266.8 392.9l4.3 7.2h-8.6zM270.0 391.8l4.3 7.2h-8.6zM273.1 390.7l4.3 7.2h-8.6zM276.2 389.5l4.3 7.2h-8.6zM279.4 388.3l4.3 7.2h-8.6zM282.5 387.1l4.3 7.2h-8.6zM285.6 385.9l4.3 7.2h-8.6zM288.7 384.7l4.3 7.2h-8.6zM291.8 383.5l4.3 7.2h-8.6zM294.9 382.1l4.3 7.2h-8.6zM297.9 380.8l4.3 7.2h-8.6zM301.0 379.4l4.3 7.2h-8.6zM304.0 377.9l4.3 7.2h-8.6zM307.0 376.5l4.3 7.2h-8.6zM310.0 374.9l4.3 7.2h-8.6zM313.0 373.4l4.3 7.2h-8.6zM315.9 371.8l4.3 7.2h-8.6zM318.9 370.1l4.3 7.2h-8.6zM321.8 368.3l4.3 7.2h-8.6zM324.6 366.5l4.3 7.2h-8.6zM327.5 364.7l4.3 7.2h-8.6zM330.3 362.8l4.3 7.2h-8.6zM333.1 360.9l4.3 7.2h-8.6zM335.8 358.8l4.3 7.2h-8.6zM338.5 356.8l4.3 7.2h-8.6zM341.2 354.6l4.3 7.2h-8.6zM343.9 352.5l4.3 7.2h-8.6zM346.5 350.3l4.3 7.2h-8.6zM349.1 348.1l4.3 7.2h-8.6zM351.7 345.9l4.3 7.2h-8.6zM354.5 343.9l4.3 7.2h-8.6zM356.9 341.5l4.3 7.2h-8.6zM358.8 338.5l4.3 7.2h-8.6zM360.1 335.1l4.3 7.2h-8.6zM361.3 331.8l4.3 7.2h-8.6zM362.4 328.3l4.3 7.2h-8.6zM363.3 324.8l4.3 7.2h-8.6zM364.2 321.3l4.3 7.2h-8.6zM364.9 317.8l4.3 7.2h-8.6zM365.5 314.2l4.3 7.2h-8.6zM366.1 310.7l4.3 7.2h-8.6zM366.6 307.1l4.3 7.2h-8.6zM367.0 303.5l4.3 7.2h-8.6zM367.3 299.9l4.3 7.2h-8.6zM367.6 296.2l4.3 7.2h-8.6zM367.8 292.6l4.3 7.2h-8.6zM368.0 289.0l4.3 7.2h-8.6zM368.2 285.4l4.3 7.2h-8.6zM368.3 281.7l4.3 7.2h-8.6zM368.5 278.1l4.3 7.2h-8.6zM368.6 274.5l4.3 7.2h-8.6zM368.7 270.9l4.3 7.2h-8.6zM368.8 267.2l4.3 7.2h-8.6zM368.8 263.6l4.3 7.2h-8.6zM368.9 260.0l4.3 7.2h-8.6zM368.9 256.3l4.3 7.2h-8.6zM369.0 252.7l4.3 7.2h-8.6zM369.0 249.1l4.3 7.2h-8.6zM369.0 245.5l4.3 7.2h-8.6zM369.1 241.8l4.3 7.2h-8.6zM369.1 238.2l4.3 7.2h-8.6zM369.2 234.6l4.3 7.2h-8.6zM369.2 230.9l4.3 7.2h-8.6zM369.3 227.3l4.3 7.2h-8.6zM369.4 223.7l4.3 7.2h-8.6zM369.4 220.0l4.3 7.2h-8.6zM369.5 216.4l4.3 7.2h-8.6zM369.6 212.8l4.3 7.2h-8.6zM369.7 209.2l4.3 7.2h-8.6zM369.7 205.5l4.3 7.2h-8.6zM369.8 201.9l4.3 7.2h-8.6zM369.9 198.3l4.3 7.2h-8.6zM370.0 194.6l4.3 7.2h-8.6zM370.1 191.0l4.3 7.2h-8.6zM370.3 187.4l4.3 7.2h-8.6zM370.6 183.8l4.3 7.2h-8.6zM371.0 180.2l4.3 7.2h-8.6zM371.4 176.6l4.3 7.2h-8.6zM371.8 173.0l4.3 7.2h-8.6zM372.2 169.4l4.3 7.2h-8.6zM372.6 165.8l4.3 7.2h-8.6zM373.0 162.2l4.3 7.2h-8.6zM373.3 158.5l4.3 7.2h-8.6zM373.7 154.9l4.3 7.2h-8.6zM374.1 151.3l4.3 7.2h-8.6zM374.5 147.7l4.3 7.2h-8.6zM374.9 144.1l4.3 7.2h-8.6zM375.4 140.5l4.3 7.2h-8.6zM375.8 136.9l4.3 7.2h-8.6zM376.5 133.4l4.3 7.2h-8.6zM377.6 129.9l4.3 7.2h-8.6zM379.0 126.7l4.3 7.2h-8.6zM380.2 123.3l4.3 7.2h-8.6zM380.9 119.8l4.3 7.2h-8.6zM381.5 116.2l4.3 7.2h-8.6zM382.4 112.7l4.3 7.2h-8.6zM384.0 109.6l4.3 7.2h-8.6zM386.2 106.9l4.3 7.2h-8.6zM388.8 104.6l4.3 7.2h-8.6zM391.3 102.3l4.3 7.2h-8.6zM393.9 100.1l4.3 7.2h-8.6zM396.7 98.2l4.3 7.2h-8.6zM399.7 96.5l4.3 7.2h-8.6zM402.6 95.0l4.3 7.2h-8.6zM405.7 93.5l4.3 7.2h-8.6zM408.7 92.0l4.3 7.2h-8.6zM411.7 90.6l4.3 7.2h-8.6zM414.8 89.2l4.3 7.2h-8.6zM417.8 87.8l4.3 7.2h-8.6zM420.8 86.3l4.3 7.2h-8.6zM423.8 84.8l4.3 7.2h-8.6zM426.8 83.4l4.3 7.2h-8.6zM429.9 81.9l4.3 7.2h-8.6zM432.9 80.4l4.3 7.2h-8.6zM435.9 79.0l4.3 7.2h-8.6zM438.9 77.5l4.3 7.2h-8.6zM442.0 76.1l4.3 7.2h-8.6zM445.0 74.7l4.3 7.2h-8.6zM448.1 73.4l4.3 7.2h-8.6zM451.2 72.1l4.3 7.2h-8.6zM454.3 70.9l4.3 7.2h-8.6zM457.4 69.7l4.3 7.2h-8.6zM460.5 68.5l4.3 7.2h-8.6zM463.6 67.3l4.3 7.2h-8.6zM466.8 66.2l4.3 7.2h-8.6zM469.9 65.1l4.3 7.2h-8.6zM473.1 64.0l4.3 7.2h-8.6zM476.3 63.0l4.3 7.2h-8.6zM479.5 62.1l4.3 7.2h-8.6zM482.7 61.4l4.3 7.2h-8.6zM485.9 60.7l4.3 7.2h-8.6zM489.2 60.1l4.3 7.2h-8.6zM492.4 59.6l4.3 7.2h-8.6zM495.7 59.2l4.3 7.2h-8.6zM499.0 58.8l4.3 7.2h-8.6zM502.3 58.4l4.3 7.2h-8.6zM505.6 58.0l4.3 7.2h-8.6zM508.8 57.6l4.3 7.2h-8.6zM512.1 57.2l4.3 7.2h-8.6zM515.4 56.8l4.3 7.2h-8.6zM518.7 56.4l4.3 7.2h-8.6zM522.0 56.0l4.3 7.2h-8.6zM525.2 55.6l4.3 7.2h-8.6zM528.5 55.2l4.3 7.2h-8.6zM531.8 54.8l4.3 7.2h-8.6zM535.1 54.4l4.3 7.2h-8.6zM538.4 54.0l4.3 7.2h-8.6zM541.6 53.7l4.3 7.2h-8.6zM544.9 53.3l4.3 7.2h-8.6zM548.2 53.0l4.3 7.2h-8.6zM551.5 52.7l4.3 7.2h-8.6zM554.8 52.4l4.3 7.2h-8.6zM558.1 52.0l4.3 7.2h-8.6zM561.4 51.7l4.3 7.2h-8.6zM564.7 51.4l4.3 7.2h-8.6zM567.9 51.1l4.3 7.2h-8.6zM571.2 50.8l4.3 7.2h-8.6zM574.5 50.5l4.3 7.2h-8.6zM577.8 50.2l4.3 7.2h-8.6zM581.1 50.0l4.3 7.2h-8.6zM584.4 49.7l4.3 7.2h-8.6zM587.7 49.5l4.3 7.2h-8.6zM591.0 49.2l4.3 7.2h-8.6zM594.3 49.0l4.3 7.2h-8.6zM597.6 48.8l4.3 7.2h-8.6zM600.9 48.6l4.3 7.2h-8.6zM604.2 48.4l4.3 7.2h-8.6zM607.5 48.3l4.3 7.2h-8.6zM610.8 48.1l4.3 7.2h-8.6zM614.1 48.0l4.3 7.2h-8.6zM617.4 47.9l4.3 7.2h-8.6zM620.6 47.7l4.3 7.2h-8.6zM623.9 47.6l4.3 7.2h-8.6zM627.2 47.5l4.3 7.2h-8.6zM630.5 47.4l4.3 7.2h-8.6zM633.8 47.3l4.3 7.2h-8.6zM637.1 47.2l4.3 7.2h-8.6zM640.4 47.1l4.3 7.2h-8.6zM643.7 47.0l4.3 7.2h-8.6zM647.0 46.9l4.3 7.2h-8.6z" fill="#E69F00"/>
</g>
<g clip-path="url(#ci)">
<path d="M406.72 432.33 L407.65 431.97 L408.59 431.62 L409.52 431.25 L410.45 430.89 L411.38 430.52 L412.31 430.15 L413.24 429.78 L414.16 429.40 L415.09 429.02 L416.01 428.64 L416.93 428.25 L417.86 427.86 L418.77 427.47 L419.69 427.07 L420.61 426.67 L421.52 426.27 L422.44 425.86 L423.35 425.45 L424.26 425.04 L425.17 424.62 L426.08 424.20 L426.98 423.77 L427.88 423.34 L428.78 422.91 L429.68 422.47 L430.58 422.02 L431.47 421.57 L432.35 421.10 L433.24 420.63 L434.11 420.15 L434.99 419.67 L435.86 419.17 L436.72 418.67 L437.58 418.17 L438.44 417.65 L439.30 417.14 L440.15 416.61 L441.00 416.08 L441.84 415.55 L442.69 415.01 L443.53 414.47 L444.36 413.92 L445.20 413.37 L446.03 412.81 L446.86 412.25 L447.68 411.69 L448.51 411.12 L449.33 410.55 L450.15 409.98 L450.96 409.40 L451.78 408.82 L452.59 408.24 L453.41 407.66 L454.22 407.07 L455.02 406.48 L455.83 405.89 L456.64 405.30 L457.44 404.71 L458.25 404.11 L459.05 403.51 L459.85 402.92 L460.65 402.32 L461.45 401.72 L462.25 401.12 L463.05 400.51 L463.85 399.91 L464.65 399.31 L465.44 398.71 L466.24 398.10 L467.04 397.50 L467.83 396.89 L468.62 396.28 L469.41 395.66 L470.19 395.04 L470.97 394.41 L471.74 393.77 L472.51 393.13 L473.27 392.48 L474.02 391.82 L474.76 391.15 L475.50 390.48 L476.23 389.79 L476.95 389.10 L477.66 388.39 L478.36 387.68 L479.05 386.96 L479.73 386.23 L480.38 385.47 L481.01 384.69 L481.63 383.90 L482.22 383.10 L482.81 382.29 L483.38 381.47 L483.96 380.65 L484.53 379.83 L485.09 379.01 L485.67 378.19 L486.24 377.37 L486.82 376.55 L487.42 375.75 L488.02 374.95 L488.63 374.16 L489.24 373.37 L489.86 372.59 L490.48 371.80 L491.10 371.01 L491.71 370.22 L492.31 369.42 L492.90 368.62 L493.48 367.80 L494.05 366.98 L494.60 366.15 L495.14 365.30 L495.64 364.44 L496.12 363.56 L496.58 362.67 L497.04 361.78 L497.51 360.90 L498.00 360.03 L498.51 359.17 L499.05 358.33 L499.61 357.50 L500.17 356.67 L500.74 355.85 L501.31 355.02 L501.86 354.19 L502.40 353.35 L502.91 352.49 L503.41 351.62 L503.90 350.75 L504.37 349.87 L504.84 348.99 L505.30 348.10 L505.76 347.21 L506.21 346.31 L506.65 345.42 L507.08 344.52 L507.51 343.61 L507.94 342.71 L508.36 341.80 L508.77 340.89 L509.18 339.98 L509.59 339.07 L509.98 338.15 L510.36 337.22 L510.73 336.29 L511.09 335.36 L511.45 334.42 L511.80 333.49 L512.15 332.55 L512.50 331.62 L512.85 330.68 L513.21 329.75 L513.57 328.81 L513.95 327.89 L514.33 326.96 L514.74 326.05 L515.15 325.14 L515.59 324.24 L516.03 323.34 L516.48 322.45 L516.94 321.56 L517.41 320.68 L517.88 319.79 L518.35 318.91 L518.82 318.03 L519.28 317.14 L519.74 316.26 L520.19 315.36 L520.63 314.47 L521.07 313.56 L521.49 312.66 L521.92 311.75 L522.34 310.85 L522.77 309.94 L523.20 309.04 L523.64 308.14 L524.09 307.25 L524.55 306.37 L525.04 305.49 L525.55 304.63 L526.08 303.78 L526.63 302.95 L527.18 302.12 L527.76 301.30 L528.34 300.48 L528.93 299.68 L529.53 298.88 L530.14 298.08 L530.74 297.29 L531.35 296.49 L531.96 295.70 L532.58 294.92 L533.20 294.13 L533.83 293.35 L534.46 292.58 L535.09 291.80 L535.73 291.03 L536.38 290.27 L537.03 289.51 L537.68 288.75 L538.34 288.00 L539.01 287.26 L539.68 286.51 L540.35 285.78 L541.03 285.04 L541.71 284.31 L542.39 283.58 L543.08 282.85 L543.77 282.13 L544.47 281.41 L545.17 280.70 L545.88 279.99 L546.59 279.29 L547.30 278.59 L548.03 277.90 L548.75 277.21 L549.49 276.53 L550.23 275.86 L550.98 275.20 L551.73 274.55 L552.49 273.89 L553.26 273.25 L554.03 272.61 L554.80 271.98 L555.58 271.35 L556.37 270.74 L557.16 270.12 L557.96 269.52 L558.76 268.93 L559.57 268.34 L560.39 267.76 L561.21 267.19 L562.04 266.63 L562.87 266.08 L563.72 265.54 L564.56 265.01 L565.41 264.48 L566.27 263.96 L567.13 263.45 L567.99 262.95 L568.86 262.45 L569.73 261.96 L570.60 261.47 L571.47 260.98 L572.35 260.50 L573.23 260.02 L574.11 259.55 L574.99 259.08 L575.88 258.62 L576.77 258.16 L577.66 257.71 L578.55 257.25 L579.44 256.81 L580.34 256.36 L581.24 255.92 L582.13 255.48 L583.03 255.04 L583.93 254.60 L584.83 254.17 L585.74 253.74 L586.64 253.31 L587.54 252.88 L588.45 252.45 L589.35 252.02 L590.25 251.59 L591.16 251.17 L592.06 250.74 L592.96 250.31 L593.87 249.88 L594.77 249.44 L595.67 249.01 L596.57 248.57 L597.47 248.14 L598.37 247.70 L599.27 247.27 L600.17 246.84 L601.07 246.41 L601.98 245.98 L602.88 245.56 L603.79 245.14 L604.70 244.72 L605.62 244.31 L606.53 243.91 L607.45 243.52 L608.37 243.13 L609.30 242.75 L610.22 242.38 L611.16 242.02 L612.09 241.67 L613.04 241.33 L613.98 241.00 L614.92 240.67 L615.87 240.35 L616.82 240.03 L617.77 239.72 L618.72 239.42 L619.68 239.12 L620.63 238.82 L621.59 238.53 L622.55 238.24 L623.51 237.96 L624.47 237.68 L625.43 237.41 L626.39 237.14 L627.35 236.87 L628.32 236.61 L629.28 236.35 L630.25 236.09 L631.22 235.84 L632.19 235.59 L633.15 235.34 L634.12 235.09 L635.09 234.85 L636.07 234.61 L637.04 234.38 L638.01 234.15 L638.99 233.92 L639.96 233.70 L640.94 233.48 L641.91 233.26 L642.89 233.04 L643.86 232.83 L644.84 232.62 L645.82 232.41 L646.80 232.20 L647.78 232.00" fill="none" stroke="#000000" stroke-width="1.8"/><path d="M404.4 430.0h4.6v4.6h-4.6zM413.1 426.6h4.6v4.6h-4.6zM421.6 422.9h4.6v4.6h-4.6zM430.0 418.9h4.6v4.6h-4.6zM438.0 414.2h4.6v4.6h-4.6zM445.8 409.1h4.6v4.6h-4.6zM453.4 403.7h4.6v4.6h-4.6zM460.8 398.2h4.6v4.6h-4.6zM468.2 392.5h4.6v4.6h-4.6zM475.1 386.3h4.6v4.6h-4.6zM481.1 379.2h4.6v4.6h-4.6zM486.5 371.6h4.6v4.6h-4.6zM492.1 364.2h4.6v4.6h-4.6zM496.7 356.1h4.6v4.6h-4.6zM501.7 348.3h4.6v4.6h-4.6zM505.8 340.0h4.6v4.6h-4.6zM509.4 331.4h4.6v4.6h-4.6zM512.9 322.8h4.6v4.6h-4.6zM517.2 314.5h4.6v4.6h-4.6zM521.2 306.1h4.6v4.6h-4.6zM526.0 298.2h4.6v4.6h-4.6zM531.7 290.8h4.6v4.6h-4.6zM537.8 283.8h4.6v4.6h-4.6zM544.2 277.1h4.6v4.6h-4.6zM551.1 270.8h4.6v4.6h-4.6zM558.5 265.2h4.6v4.6h-4.6zM566.4 260.2h4.6v4.6h-4.6zM574.6 255.8h4.6v4.6h-4.6zM582.9 251.7h4.6v4.6h-4.6zM591.3 247.7h4.6v4.6h-4.6zM599.7 243.7h4.6v4.6h-4.6zM608.2 240.0h4.6v4.6h-4.6zM617.0 236.9h4.6v4.6h-4.6zM625.9 234.3h4.6v4.6h-4.6zM634.9 232.0h4.6v4.6h-4.6zM644.0 230.0h4.6v4.6h-4.6z" fill="#000000"/><path d="M406.72 415.37 L407.64 414.97 L408.55 414.57 L409.47 414.17 L410.39 413.77 L411.30 413.37 L412.22 412.96 L413.13 412.56 L414.05 412.16 L414.96 411.75 L415.87 411.34 L416.79 410.94 L417.70 410.53 L418.61 410.12 L419.52 409.71 L420.44 409.30 L421.35 408.88 L422.26 408.47 L423.17 408.06 L424.08 407.64 L424.99 407.23 L425.89 406.80 L426.80 406.38 L427.70 405.95 L428.60 405.51 L429.50 405.07 L430.39 404.63 L431.29 404.18 L432.18 403.73 L433.07 403.27 L433.96 402.82 L434.85 402.36 L435.74 401.90 L436.63 401.44 L437.51 400.97 L438.40 400.51 L439.28 400.04 L440.16 399.57 L441.05 399.11 L441.93 398.64 L442.81 398.17 L443.70 397.70 L444.58 397.23 L445.46 396.76 L446.35 396.29 L447.23 395.82 L448.12 395.36 L449.00 394.89 L449.89 394.43 L450.77 393.96 L451.66 393.50 L452.55 393.05 L453.44 392.59 L454.33 392.14 L455.22 391.69 L456.12 391.24 L457.01 390.80 L457.91 390.35 L458.81 389.92 L459.72 389.50 L460.64 389.11 L461.57 388.73 L462.49 388.36 L463.42 387.98 L464.34 387.59 L465.26 387.19 L466.16 386.77 L467.05 386.31 L467.93 385.82 L468.78 385.30 L469.59 384.72 L470.36 384.08 L471.09 383.39 L471.78 382.67 L472.45 381.93 L473.10 381.17 L473.74 380.40 L474.36 379.62 L474.99 378.84 L475.60 378.05 L476.22 377.26 L476.84 376.48 L477.47 375.70 L478.11 374.93 L478.76 374.18 L479.44 373.44 L480.13 372.72 L480.82 372.00 L481.52 371.28 L482.22 370.57 L482.92 369.86 L483.63 369.15 L484.34 368.44 L485.05 367.74 L485.77 367.04 L486.48 366.34 L487.20 365.64 L487.91 364.94 L488.63 364.24 L489.34 363.55 L490.06 362.85 L490.77 362.14 L491.48 361.44 L492.19 360.74 L492.89 360.03 L493.60 359.32 L494.30 358.61 L495.00 357.89 L495.70 357.18 L496.40 356.46 L497.10 355.75 L497.80 355.03 L498.50 354.32 L499.19 353.60 L499.89 352.88 L500.59 352.17 L501.29 351.45 L501.99 350.74 L502.69 350.02 L503.39 349.31 L504.09 348.59 L504.79 347.88 L505.49 347.17 L506.19 346.46 L506.89 345.74 L507.58 345.02 L508.27 344.29 L508.95 343.56 L509.64 342.83 L510.32 342.10 L511.00 341.37 L511.69 340.65 L512.38 339.92 L513.08 339.20 L513.78 338.49 L514.48 337.78 L515.20 337.08 L515.93 336.40 L516.66 335.72 L517.41 335.06 L518.18 334.41 L518.96 333.79 L519.76 333.19 L520.58 332.61 L521.41 332.06 L522.25 331.52 L523.10 331.00 L523.96 330.49 L524.82 329.98 L525.68 329.47 L526.54 328.95 L527.39 328.43 L528.23 327.89 L529.06 327.32 L529.87 326.74 L530.66 326.13 L531.44 325.50 L532.19 324.84 L532.92 324.15 L533.63 323.46 L534.34 322.75 L535.04 322.03 L535.73 321.31 L536.41 320.58 L537.10 319.85 L537.79 319.13 L538.48 318.40 L539.17 317.69 L539.88 316.98 L540.59 316.27 L541.30 315.57 L542.00 314.86 L542.71 314.15 L543.41 313.44 L544.11 312.72 L544.82 312.02 L545.52 311.31 L546.23 310.60 L546.95 309.90 L547.67 309.21 L548.39 308.52 L549.13 307.84 L549.87 307.17 L550.62 306.51 L551.38 305.86 L552.14 305.21 L552.91 304.57 L553.67 303.93 L554.44 303.29 L555.22 302.66 L555.99 302.03 L556.77 301.40 L557.56 300.78 L558.34 300.16 L559.13 299.54 L559.92 298.93 L560.72 298.32 L561.52 297.72 L562.32 297.13 L563.12 296.53 L563.93 295.95 L564.74 295.36 L565.56 294.79 L566.38 294.21 L567.21 293.65 L568.03 293.09 L568.87 292.53 L569.70 291.98 L570.54 291.44 L571.39 290.90 L572.23 290.37 L573.08 289.85 L573.94 289.33 L574.80 288.82 L575.66 288.31 L576.53 287.81 L577.39 287.31 L578.26 286.82 L579.14 286.33 L580.01 285.85 L580.89 285.37 L581.77 284.90 L582.66 284.43 L583.54 283.97 L584.43 283.50 L585.32 283.04 L586.21 282.59 L587.10 282.14 L587.99 281.69 L588.89 281.24 L589.78 280.79 L590.68 280.35 L591.57 279.91 L592.47 279.46 L593.37 279.02 L594.27 278.58 L595.17 278.15 L596.07 277.71 L596.97 277.28 L597.87 276.84 L598.77 276.41 L599.67 275.99 L600.58 275.56 L601.49 275.14 L602.40 274.73 L603.31 274.31 L604.22 273.90 L605.14 273.50 L606.05 273.10 L606.97 272.71 L607.89 272.32 L608.82 271.94 L609.75 271.57 L610.68 271.20 L611.61 270.84 L612.54 270.48 L613.48 270.14 L614.42 269.80 L615.36 269.46 L616.31 269.13 L617.25 268.81 L618.20 268.49 L619.15 268.17 L620.10 267.86 L621.05 267.55 L622.00 267.24 L622.96 266.94 L623.91 266.64 L624.87 266.35 L625.82 266.06 L626.78 265.77 L627.74 265.48 L628.70 265.19 L629.65 264.91 L630.61 264.62 L631.57 264.34 L632.53 264.06 L633.49 263.78 L634.45 263.50 L635.41 263.22 L636.37 262.94 L637.33 262.66 L638.29 262.38 L639.25 262.09 L640.21 261.81 L641.17 261.52 L642.13 261.24 L643.08 260.95 L644.04 260.66 L645.00 260.38 L645.96 260.09 L646.91 259.80 L647.87 259.51" fill="none" stroke="#56B4E9" stroke-width="1.8"/><path d="M406.7 412.1l3.2 3.2l-3.2 3.2l-3.2 -3.2zM415.2 408.4l3.2 3.2l-3.2 3.2l-3.2 -3.2zM423.7 404.6l3.2 3.2l-3.2 3.2l-3.2 -3.2zM432.1 400.5l3.2 3.2l-3.2 3.2l-3.2 -3.2zM440.3 396.2l3.2 3.2l-3.2 3.2l-3.2 -3.2zM448.6 391.9l3.2 3.2l-3.2 3.2l-3.2 -3.2zM456.8 387.6l3.2 3.2l-3.2 3.2l-3.2 -3.2zM465.3 383.9l3.2 3.2l-3.2 3.2l-3.2 -3.2zM472.7 378.4l3.2 3.2l-3.2 3.2l-3.2 -3.2zM478.6 371.2l3.2 3.2l-3.2 3.2l-3.2 -3.2zM485.1 364.5l3.2 3.2l-3.2 3.2l-3.2 -3.2zM491.7 358.0l3.2 3.2l-3.2 3.2l-3.2 -3.2zM498.2 351.4l3.2 3.2l-3.2 3.2l-3.2 -3.2zM504.7 344.7l3.2 3.2l-3.2 3.2l-3.2 -3.2zM511.1 338.0l3.2 3.2l-3.2 3.2l-3.2 -3.2zM517.8 331.5l3.2 3.2l-3.2 3.2l-3.2 -3.2zM525.5 326.3l3.2 3.2l-3.2 3.2l-3.2 -3.2zM533.0 320.8l3.2 3.2l-3.2 3.2l-3.2 -3.2zM539.5 314.2l3.2 3.2l-3.2 3.2l-3.2 -3.2zM546.0 307.6l3.2 3.2l-3.2 3.2l-3.2 -3.2zM552.9 301.3l3.2 3.2l-3.2 3.2l-3.2 -3.2zM560.2 295.5l3.2 3.2l-3.2 3.2l-3.2 -3.2zM567.7 290.1l3.2 3.2l-3.2 3.2l-3.2 -3.2zM575.6 285.1l3.2 3.2l-3.2 3.2l-3.2 -3.2zM583.7 280.6l3.2 3.2l-3.2 3.2l-3.2 -3.2zM592.0 276.4l3.2 3.2l-3.2 3.2l-3.2 -3.2zM600.4 272.4l3.2 3.2l-3.2 3.2l-3.2 -3.2zM608.9 268.7l3.2 3.2l-3.2 3.2l-3.2 -3.2zM617.6 265.4l3.2 3.2l-3.2 3.2l-3.2 -3.2zM626.5 262.6l3.2 3.2l-3.2 3.2l-3.2 -3.2zM635.4 260.0l3.2 3.2l-3.2 3.2l-3.2 -3.2zM644.3 257.3l3.2 3.2l-3.2 3.2l-3.2 -3.2z" fill="#56B4E9"/><path d="M406.72 398.54 L407.62 398.11 L408.52 397.67 L409.42 397.23 L410.32 396.79 L411.22 396.35 L412.11 395.91 L413.01 395.47 L413.90 395.02 L414.80 394.58 L415.69 394.13 L416.59 393.68 L417.48 393.24 L418.37 392.78 L419.27 392.33 L420.16 391.88 L421.05 391.42 L421.94 390.97 L422.83 390.51 L423.71 390.05 L424.60 389.59 L425.49 389.13 L426.37 388.66 L427.26 388.20 L428.14 387.73 L429.03 387.26 L429.91 386.79 L430.79 386.32 L431.67 385.84 L432.55 385.37 L433.43 384.89 L434.31 384.41 L435.19 383.93 L436.06 383.45 L436.94 382.97 L437.81 382.48 L438.69 382.00 L439.56 381.51 L440.43 381.02 L441.30 380.52 L442.17 380.03 L443.03 379.53 L443.90 379.02 L444.76 378.52 L445.62 378.01 L446.48 377.50 L447.34 376.98 L448.19 376.46 L449.04 375.93 L449.89 375.41 L450.74 374.87 L451.58 374.34 L452.42 373.80 L453.26 373.26 L454.10 372.71 L454.93 372.15 L455.75 371.58 L456.57 371.01 L457.39 370.44 L458.21 369.86 L459.02 369.28 L459.84 368.70 L460.65 368.11 L461.46 367.53 L462.27 366.94 L463.08 366.36 L463.90 365.78 L464.71 365.20 L465.53 364.63 L466.35 364.05 L467.17 363.49 L468.00 362.92 L468.82 362.36 L469.65 361.79 L470.48 361.23 L471.30 360.66 L472.12 360.10 L472.95 359.53 L473.77 358.96 L474.60 358.40 L475.42 357.83 L476.24 357.26 L477.06 356.69 L477.88 356.12 L478.70 355.55 L479.52 354.97 L480.34 354.40 L481.16 353.83 L481.98 353.26 L482.80 352.68 L483.62 352.11 L484.44 351.54 L485.26 350.97 L486.08 350.39 L486.90 349.81 L487.71 349.23 L488.53 348.65 L489.34 348.07 L490.15 347.48 L490.95 346.89 L491.76 346.29 L492.56 345.69 L493.35 345.09 L494.14 344.47 L494.92 343.85 L495.71 343.23 L496.48 342.60 L497.26 341.97 L498.03 341.33 L498.80 340.70 L499.58 340.06 L500.35 339.43 L501.12 338.79 L501.90 338.16 L502.68 337.54 L503.46 336.92 L504.25 336.30 L505.05 335.69 L505.85 335.09 L506.65 334.50 L507.46 333.92 L508.28 333.34 L509.10 332.77 L509.92 332.20 L510.75 331.64 L511.58 331.07 L512.40 330.51 L513.23 329.95 L514.06 329.39 L514.88 328.82 L515.70 328.25 L516.52 327.67 L517.33 327.09 L518.14 326.50 L518.94 325.90 L519.73 325.29 L520.51 324.66 L521.28 324.03 L522.05 323.39 L522.82 322.75 L523.58 322.10 L524.34 321.45 L525.10 320.80 L525.87 320.16 L526.64 319.52 L527.41 318.89 L528.19 318.27 L528.99 317.65 L529.79 317.06 L530.61 316.48 L531.44 315.93 L532.29 315.40 L533.14 314.88 L534.01 314.39 L534.89 313.90 L535.76 313.42 L536.63 312.93 L537.50 312.43 L538.36 311.93 L539.21 311.40 L540.05 310.85 L540.86 310.27 L541.66 309.67 L542.45 309.05 L543.23 308.42 L544.00 307.78 L544.76 307.14 L545.52 306.49 L546.29 305.84 L547.05 305.20 L547.82 304.56 L548.60 303.94 L549.39 303.32 L550.19 302.73 L551.01 302.15 L551.84 301.58 L552.66 301.02 L553.49 300.46 L554.32 299.91 L555.16 299.36 L556.00 298.82 L556.84 298.27 L557.68 297.74 L558.53 297.21 L559.38 296.68 L560.24 296.16 L561.09 295.64 L561.95 295.13 L562.81 294.62 L563.68 294.12 L564.54 293.62 L565.41 293.13 L566.29 292.64 L567.16 292.16 L568.04 291.68 L568.92 291.21 L569.80 290.74 L570.69 290.27 L571.58 289.81 L572.47 289.36 L573.36 288.92 L574.26 288.48 L575.16 288.04 L576.07 287.61 L576.97 287.19 L577.88 286.77 L578.79 286.35 L579.70 285.94 L580.61 285.53 L581.53 285.13 L582.44 284.73 L583.36 284.33 L584.28 283.93 L585.20 283.54 L586.12 283.15 L587.04 282.75 L587.96 282.36 L588.88 281.98 L589.80 281.59 L590.72 281.20 L591.64 280.81 L592.56 280.42 L593.48 280.02 L594.40 279.63 L595.33 279.24 L596.25 278.85 L597.17 278.46 L598.09 278.07 L599.01 277.69 L599.93 277.30 L600.86 276.92 L601.78 276.53 L602.71 276.16 L603.63 275.78 L604.56 275.41 L605.49 275.04 L606.42 274.67 L607.35 274.31 L608.29 273.95 L609.22 273.60 L610.16 273.25 L611.10 272.91 L612.04 272.58 L612.99 272.25 L613.93 271.92 L614.88 271.59 L615.82 271.27 L616.77 270.94 L617.71 270.62 L618.66 270.30 L619.61 269.99 L620.56 269.67 L621.51 269.36 L622.46 269.05 L623.41 268.74 L624.37 268.44 L625.32 268.14 L626.27 267.84 L627.23 267.55 L628.19 267.26 L629.15 266.97 L630.11 266.69 L631.07 266.41 L632.03 266.14 L632.99 265.87 L633.95 265.61 L634.92 265.35 L635.89 265.09 L636.86 264.84 L637.83 264.60 L638.80 264.36 L639.77 264.12 L640.74 263.89 L641.71 263.66 L642.69 263.43 L643.66 263.21 L644.64 262.98 L645.61 262.76 L646.59 262.54 L647.56 262.31 L648.54 262.09" fill="none" stroke="#009E73" stroke-width="1.8"/><path d="M404.9 395.5l5.4 3.0l-5.4 3.0zM413.3 391.4l5.4 3.0l-5.4 3.0zM421.6 387.2l5.4 3.0l-5.4 3.0zM429.8 382.9l5.4 3.0l-5.4 3.0zM437.9 378.4l5.4 3.0l-5.4 3.0zM446.0 373.7l5.4 3.0l-5.4 3.0zM453.8 368.7l5.4 3.0l-5.4 3.0zM461.4 363.3l5.4 3.0l-5.4 3.0zM469.0 358.0l5.4 3.0l-5.4 3.0zM476.7 352.7l5.4 3.0l-5.4 3.0zM484.3 347.4l5.4 3.0l-5.4 3.0zM491.8 341.9l5.4 3.0l-5.4 3.0zM499.0 336.0l5.4 3.0l-5.4 3.0zM506.4 330.4l5.4 3.0l-5.4 3.0zM514.1 325.1l5.4 3.0l-5.4 3.0zM521.4 319.4l5.4 3.0l-5.4 3.0zM528.6 313.6l5.4 3.0l-5.4 3.0zM536.6 308.9l5.4 3.0l-5.4 3.0zM544.0 303.2l5.4 3.0l-5.4 3.0zM551.4 297.6l5.4 3.0l-5.4 3.0zM559.3 292.6l5.4 3.0l-5.4 3.0zM567.4 288.1l5.4 3.0l-5.4 3.0zM575.7 283.9l5.4 3.0l-5.4 3.0zM584.2 280.2l5.4 3.0l-5.4 3.0zM592.8 276.6l5.4 3.0l-5.4 3.0zM601.4 273.0l5.4 3.0l-5.4 3.0zM610.1 269.6l5.4 3.0l-5.4 3.0zM618.9 266.6l5.4 3.0l-5.4 3.0zM627.7 263.9l5.4 3.0l-5.4 3.0zM636.7 261.4l5.4 3.0l-5.4 3.0zM645.8 259.3l5.4 3.0l-5.4 3.0z" fill="#009E73"/><path d="M406.72 425.67 L407.67 425.35 L408.61 425.03 L409.56 424.71 L410.51 424.39 L411.46 424.07 L412.41 423.76 L413.35 423.44 L414.30 423.12 L415.25 422.80 L416.20 422.49 L417.15 422.16 L418.09 421.84 L419.04 421.51 L419.98 421.18 L420.92 420.84 L421.86 420.50 L422.80 420.15 L423.73 419.79 L424.66 419.43 L425.59 419.06 L426.52 418.68 L427.44 418.30 L428.36 417.90 L429.27 417.50 L430.18 417.08 L431.09 416.66 L431.99 416.23 L432.89 415.78 L433.78 415.33 L434.66 414.87 L435.54 414.39 L436.42 413.90 L437.29 413.41 L438.15 412.90 L439.00 412.38 L439.85 411.84 L440.69 411.30 L441.52 410.75 L442.34 410.18 L443.14 409.58 L443.91 408.94 L444.64 408.26 L445.34 407.55 L446.03 406.81 L446.68 406.06 L447.33 405.30 L447.95 404.52 L448.56 403.72 L449.16 402.92 L449.75 402.12 L450.33 401.30 L450.90 400.48 L451.47 399.65 L452.03 398.82 L452.58 397.99 L453.13 397.16 L453.68 396.32 L454.22 395.48 L454.76 394.64 L455.30 393.80 L455.84 392.96 L456.38 392.11 L456.92 391.27 L457.47 390.43 L458.01 389.60 L458.56 388.76 L459.11 387.93 L459.67 387.10 L460.23 386.27 L460.80 385.45 L461.38 384.63 L461.96 383.81 L462.53 382.99 L463.10 382.17 L463.67 381.35 L464.24 380.53 L464.80 379.70 L465.36 378.87 L465.92 378.04 L466.47 377.21 L467.02 376.38 L467.57 375.54 L468.11 374.70 L468.65 373.85 L469.18 373.01 L469.71 372.16 L470.23 371.31 L470.75 370.45 L471.27 369.60 L471.78 368.74 L472.29 367.88 L472.80 367.02 L473.30 366.15 L473.80 365.29 L474.30 364.42 L474.79 363.55 L475.28 362.68 L475.77 361.80 L476.26 360.93 L476.74 360.05 L477.22 359.18 L477.70 358.30 L478.19 357.43 L478.67 356.55 L479.15 355.67 L479.62 354.79 L480.08 353.90 L480.53 353.01 L480.97 352.11 L481.39 351.21 L481.81 350.30 L482.21 349.38 L482.58 348.45 L482.94 347.52 L483.28 346.58 L483.62 345.64 L483.94 344.69 L484.27 343.75 L484.59 342.80 L484.92 341.85 L485.24 340.91 L485.58 339.97 L485.92 339.03 L486.27 338.09 L486.62 337.15 L486.97 336.22 L487.33 335.28 L487.68 334.35 L488.04 333.41 L488.40 332.48 L488.75 331.55 L489.11 330.61 L489.47 329.68 L489.82 328.74 L490.18 327.81 L490.53 326.87 L490.87 325.93 L491.22 324.99 L491.57 324.06 L491.92 323.12 L492.27 322.18 L492.63 321.25 L492.98 320.32 L493.35 319.38 L493.72 318.45 L494.09 317.53 L494.47 316.60 L494.84 315.67 L495.23 314.75 L495.61 313.83 L496.00 312.91 L496.40 311.99 L496.80 311.07 L497.22 310.17 L497.65 309.26 L498.10 308.37 L498.55 307.48 L499.02 306.59 L499.48 305.71 L499.96 304.83 L500.45 303.96 L500.95 303.09 L501.47 302.24 L502.00 301.39 L502.54 300.55 L503.11 299.72 L503.69 298.91 L504.27 298.10 L504.87 297.30 L505.48 296.50 L506.10 295.72 L506.74 294.95 L507.40 294.20 L508.07 293.46 L508.77 292.74 L509.49 292.05 L510.24 291.39 L511.01 290.75 L511.80 290.13 L512.60 289.54 L513.42 288.97 L514.25 288.41 L515.08 287.85 L515.92 287.31 L516.75 286.75 L517.58 286.19 L518.40 285.62 L519.21 285.03 L520.01 284.44 L520.82 283.84 L521.61 283.24 L522.41 282.63 L523.21 282.03 L524.01 281.42 L524.80 280.82 L525.61 280.23 L526.41 279.63 L527.22 279.04 L528.03 278.46 L528.85 277.89 L529.68 277.33 L530.51 276.77 L531.34 276.22 L532.18 275.66 L533.01 275.11 L533.85 274.57 L534.69 274.03 L535.54 273.50 L536.39 272.98 L537.25 272.47 L538.12 271.97 L539.00 271.49 L539.88 271.03 L540.78 270.58 L541.68 270.15 L542.59 269.74 L543.51 269.34 L544.43 268.94 L545.35 268.56 L546.28 268.18 L547.21 267.81 L548.13 267.44 L549.06 267.06 L549.99 266.69 L550.91 266.31 L551.84 265.92 L552.76 265.53 L553.68 265.15 L554.60 264.76 L555.52 264.37 L556.45 263.99 L557.37 263.60 L558.29 263.21 L559.21 262.83 L560.14 262.45 L561.06 262.07 L561.99 261.69 L562.92 261.31 L563.84 260.94 L564.77 260.58 L565.71 260.21 L566.64 259.85 L567.58 259.50 L568.51 259.16 L569.45 258.81 L570.40 258.48 L571.34 258.15 L572.29 257.83 L573.24 257.52 L574.19 257.21 L575.14 256.90 L576.09 256.59 L577.05 256.29 L578.00 256.00 L578.96 255.71 L579.91 255.42 L580.87 255.13 L581.83 254.85 L582.79 254.57 L583.75 254.29 L584.71 254.01 L585.68 253.74 L586.64 253.47 L587.60 253.20 L588.56 252.93 L589.53 252.66 L590.49 252.40 L591.46 252.13 L592.42 251.87 L593.39 251.61 L594.35 251.34 L595.32 251.08 L596.28 250.82 L597.25 250.56 L598.21 250.31 L599.18 250.05 L600.15 249.80 L601.12 249.54 L602.08 249.30 L603.05 249.05 L604.02 248.80 L604.99 248.56 L605.96 248.32 L606.94 248.09 L607.91 247.85 L608.88 247.63 L609.86 247.40 L610.83 247.18 L611.81 246.96 L612.78 246.75 L613.76 246.54 L614.74 246.33 L615.72 246.12 L616.70 245.92 L617.68 245.72 L618.66 245.52 L619.64 245.33 L620.62 245.13 L621.60 244.94 L622.58 244.75 L623.56 244.56 L624.55 244.38 L625.53 244.19 L626.51 244.01 L627.50 243.83 L628.48 243.65 L629.46 243.47 L630.45 243.29 L631.43 243.12 L632.42 242.94 L633.40 242.77 L634.39 242.60 L635.37 242.42 L636.36 242.25 L637.34 242.08 L638.33 241.91 L639.31 241.74 L640.30 241.57 L641.28 241.40 L642.27 241.23 L643.26 241.06 L644.24 240.89 L645.23 240.72 L646.21 240.56 L647.20 240.39 L648.18 240.22" fill="none" stroke="#E69F00" stroke-width="1.8"/><path d="M406.7 422.2l3.1 5.2h-6.2zM415.5 419.2l3.1 5.2h-6.2zM424.3 416.1l3.1 5.2h-6.2zM432.8 412.4l3.1 5.2h-6.2zM440.9 407.7l3.1 5.2h-6.2zM447.6 401.4l3.1 5.2h-6.2zM453.0 393.9l3.1 5.2h-6.2zM458.1 386.0l3.1 5.2h-6.2zM463.3 378.4l3.1 5.2h-6.2zM468.5 370.6l3.1 5.2h-6.2zM473.3 362.7l3.1 5.2h-6.2zM477.8 354.6l3.1 5.2h-6.2zM482.0 346.3l3.1 5.2h-6.2zM485.2 337.5l3.1 5.2h-6.2zM488.5 328.8l3.1 5.2h-6.2zM491.7 320.1l3.1 5.2h-6.2zM495.1 311.5l3.1 5.2h-6.2zM499.1 303.0l3.1 5.2h-6.2zM503.9 295.1l3.1 5.2h-6.2zM510.0 288.1l3.1 5.2h-6.2zM517.6 282.7l3.1 5.2h-6.2zM525.0 277.2l3.1 5.2h-6.2zM532.7 271.9l3.1 5.2h-6.2zM540.7 267.2l3.1 5.2h-6.2zM549.2 263.5l3.1 5.2h-6.2zM557.8 259.9l3.1 5.2h-6.2zM566.5 256.5l3.1 5.2h-6.2zM575.2 253.4l3.1 5.2h-6.2zM584.1 250.7l3.1 5.2h-6.2zM593.1 248.2l3.1 5.2h-6.2zM602.1 245.8l3.1 5.2h-6.2zM611.1 243.6l3.1 5.2h-6.2zM620.2 241.7l3.1 5.2h-6.2zM629.4 240.0l3.1 5.2h-6.2zM638.5 238.4l3.1 5.2h-6.2zM647.7 236.8l3.1 5.2h-6.2z" fill="#E69F00"/>
</g>
<path d="M423.5 385.00h-4M423.5 372.40h-2.5M423.5 359.80h-4M423.5 347.20h-2.5M423.5 334.60h-4M423.5 322.00h-2.5M423.5 309.40h-4M423.5 296.80h-2.5M423.5 284.20h-4M423.5 271.60h-2.5M423.5 259.00h-4M423.5 246.40h-2.5M423.5 233.80h-4M423.5 221.20h-2.5M423.5 208.60h-4M424.00 385.2v4M467.20 385.2v2.5M510.40 385.2v4M553.60 385.2v2.5M596.80 385.2v4M640.00 385.2v2.5M423.5 208.4V385.2H640" fill="none" stroke="#000" stroke-width="1.2"/>
<g class="sans" font-size="15" fill="#000"><text x="417.3" y="390.3" text-anchor="end" textLength="22.8" lengthAdjust="spacingAndGlyphs">-50</text><text x="417.3" y="365.1" text-anchor="end" textLength="8.8" lengthAdjust="spacingAndGlyphs">0</text><text x="417.3" y="339.9" text-anchor="end" textLength="17.6" lengthAdjust="spacingAndGlyphs">50</text><text x="417.3" y="314.7" text-anchor="end" textLength="26.4" lengthAdjust="spacingAndGlyphs">100</text><text x="417.3" y="289.5" text-anchor="end" textLength="26.4" lengthAdjust="spacingAndGlyphs">150</text><text x="417.3" y="264.3" text-anchor="end" textLength="26.4" lengthAdjust="spacingAndGlyphs">200</text><text x="417.3" y="239.1" text-anchor="end" textLength="26.4" lengthAdjust="spacingAndGlyphs">250</text><text x="417.3" y="213.9" text-anchor="end" textLength="26.4" lengthAdjust="spacingAndGlyphs">300</text><text x="424.0" y="405" text-anchor="middle" textLength="32.6" lengthAdjust="spacingAndGlyphs">-100</text><text x="510.4" y="405" text-anchor="middle" textLength="23.6" lengthAdjust="spacingAndGlyphs">-50</text><text x="596.8" y="405" text-anchor="middle" textLength="9.1" lengthAdjust="spacingAndGlyphs">0</text></g>
<text class="sans" x="532" y="428.6" font-size="14" text-anchor="middle" textLength="108.5" lengthAdjust="spacingAndGlyphs">Inner field (kA/m)</text>
<text class="serif" font-size="13.8" transform="translate(385.4 288.5) rotate(-90)" text-anchor="middle" textLength="132" lengthAdjust="spacingAndGlyphs">Magnetization (kA/m)</text>
<g class="serif" font-size="25" fill="#000"><text x="76" y="461.3" text-anchor="end">-600</text><text x="76" y="388.1" text-anchor="end">-400</text><text x="76" y="315.0" text-anchor="end">-200</text><text x="76" y="241.8" text-anchor="end">0</text><text x="76" y="168.6" text-anchor="end">200</text><text x="76" y="95.5" text-anchor="end">400</text><text x="76" y="22.3" text-anchor="end">600</text><text x="167.0" y="484" text-anchor="middle">-5000</text><text x="266.8" y="484" text-anchor="middle">-2500</text><text x="366.5" y="484" text-anchor="middle">0</text><text x="466.2" y="484" text-anchor="middle">2500</text><text x="566.0" y="484" text-anchor="middle">5000</text></g>
<text class="serif" x="366" y="523.5" font-size="25" text-anchor="middle">Inner field (kA/m)</text>
<text class="serif" font-size="25.4" transform="translate(21.4 222.5) rotate(-90)" text-anchor="middle">Magnetization (kA/m)</text>
<!-- legend -->
<rect x="115.6" y="31.6" width="191.4" height="164.8" fill="#fff" stroke="#4a4a4a" stroke-width="1.3"/>
<g class="sans" fill="#000">
<text x="119.5" y="56.7" font-size="24" textLength="34" lengthAdjust="spacingAndGlyphs">Mn</text>
<text x="154.5" y="63.8" font-size="14" textLength="18.5" lengthAdjust="spacingAndGlyphs">55</text>
<text x="173.5" y="56.7" font-size="24" textLength="21.5" lengthAdjust="spacingAndGlyphs">Al</text>
<text x="196" y="63.8" font-size="14" textLength="18.5" lengthAdjust="spacingAndGlyphs">45</text>
<text x="215.5" y="56.7" font-size="24" textLength="17" lengthAdjust="spacingAndGlyphs">C</text>
<text x="233" y="63.8" font-size="14" textLength="9.3" lengthAdjust="spacingAndGlyphs">2</text>
<text x="243.5" y="56.7" font-size="24" textLength="50" lengthAdjust="spacingAndGlyphs">(VC)</text>
<text x="295.3" y="63.8" font-size="14" textLength="7.8" lengthAdjust="spacingAndGlyphs">x</text>
</g>
<path d="M119.5 58H154.3M173.5 58H195.5M215.5 58H232.8M243.5 58H294M154.5 64.6H173.2M196 64.6H214.8M233 64.6H242.5M295.3 64.6H303.3" stroke="#000" stroke-width="1.1"/>
<g stroke-width="1">
<path d="M119 85.7H176" stroke="#000"/>
<path d="M119 116.8H176" stroke="#56B4E9"/>
<path d="M119 147.5H176" stroke="#009E73"/>
<path d="M119 178.6H176" stroke="#E69F00"/>
</g>
<path d="M144.1 82.9h5.6v5.6h-5.6z" fill="#000"/>
<path d="M147.3 112.8l3.9 4l-3.9 4l-3.9 -4z" fill="#56B4E9"/>
<path d="M144.6 143.8l7.2 3.8l-7.2 3.8z" fill="#009E73"/>
<path d="M147.2 174.2l4 7.6h-8z" fill="#E69F00"/>
<g class="sans" font-size="25">
<text x="183.6" y="94.5" textLength="47" lengthAdjust="spacingAndGlyphs">0.00</text>
<text x="183.6" y="125.6" textLength="47" lengthAdjust="spacingAndGlyphs">0.25</text>
<text x="183.6" y="156.3" textLength="47" lengthAdjust="spacingAndGlyphs">0.50</text>
<text x="183.6" y="187.4" textLength="47" lengthAdjust="spacingAndGlyphs">1.00</text>
</g>
</svg>
</body></html>
